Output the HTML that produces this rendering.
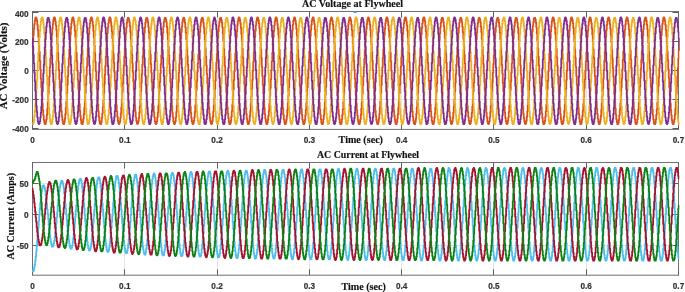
<!DOCTYPE html>
<html><head><meta charset="utf-8"><title>AC Voltage and Current at Flywheel</title>
<style>
html,body{margin:0;padding:0;background:#fff;}
body{width:685px;height:292px;overflow:hidden;}
svg{display:block;}
.tk{font-family:"Liberation Sans",Arial,sans-serif;font-weight:bold;font-size:8.2px;fill:#333;stroke:#333;stroke-width:0.2px;}
.ti{font-family:"Liberation Serif","Times New Roman",serif;font-weight:bold;font-size:10.1px;fill:#111;stroke:#111;stroke-width:0.15px;}
.ax{stroke:#707070;stroke-width:1;fill:none;}
.gr{stroke:#e4e4e4;stroke-width:1;fill:none;}
.tc{stroke:#606060;stroke-width:1;fill:none;}
.ln{fill:none;stroke-width:1.8;stroke-linejoin:round;}
</style></head><body>
<svg width="685" height="292" viewBox="0 0 685 292">
<rect x="0" y="0" width="685" height="292" fill="#ffffff"/>
<line class="gr" x1="124.50" y1="11.50" x2="124.50" y2="129.40"/>
<line class="gr" x1="217.50" y1="11.50" x2="217.50" y2="129.40"/>
<line class="gr" x1="309.50" y1="11.50" x2="309.50" y2="129.40"/>
<line class="gr" x1="401.50" y1="11.50" x2="401.50" y2="129.40"/>
<line class="gr" x1="493.50" y1="11.50" x2="493.50" y2="129.40"/>
<line class="gr" x1="586.50" y1="11.50" x2="586.50" y2="129.40"/>
<line class="gr" x1="32.50" y1="41.50" x2="678.50" y2="41.50"/>
<line class="gr" x1="32.50" y1="70.50" x2="678.50" y2="70.50"/>
<line class="gr" x1="32.50" y1="99.50" x2="678.50" y2="99.50"/>
<clipPath id="ct"><rect x="31.80" y="11.50" width="647.70" height="117.90"/></clipPath>
<rect class="ax" x="32.50" y="11.50" width="646.00" height="117.90"/>
<line class="tc" x1="32.50" y1="129.40" x2="32.50" y2="123.40"/>
<line class="tc" x1="32.50" y1="11.50" x2="32.50" y2="17.50"/>
<line class="tc" x1="124.50" y1="129.40" x2="124.50" y2="123.40"/>
<line class="tc" x1="124.50" y1="11.50" x2="124.50" y2="17.50"/>
<line class="tc" x1="217.50" y1="129.40" x2="217.50" y2="123.40"/>
<line class="tc" x1="217.50" y1="11.50" x2="217.50" y2="17.50"/>
<line class="tc" x1="309.50" y1="129.40" x2="309.50" y2="123.40"/>
<line class="tc" x1="309.50" y1="11.50" x2="309.50" y2="17.50"/>
<line class="tc" x1="401.50" y1="129.40" x2="401.50" y2="123.40"/>
<line class="tc" x1="401.50" y1="11.50" x2="401.50" y2="17.50"/>
<line class="tc" x1="493.50" y1="129.40" x2="493.50" y2="123.40"/>
<line class="tc" x1="493.50" y1="11.50" x2="493.50" y2="17.50"/>
<line class="tc" x1="586.50" y1="129.40" x2="586.50" y2="123.40"/>
<line class="tc" x1="586.50" y1="11.50" x2="586.50" y2="17.50"/>
<line class="tc" x1="678.50" y1="129.40" x2="678.50" y2="123.40"/>
<line class="tc" x1="678.50" y1="11.50" x2="678.50" y2="17.50"/>
<line class="tc" x1="32.50" y1="12.50" x2="38.50" y2="12.50"/>
<line class="tc" x1="678.50" y1="12.50" x2="672.50" y2="12.50"/>
<line class="tc" x1="32.50" y1="41.50" x2="38.50" y2="41.50"/>
<line class="tc" x1="678.50" y1="41.50" x2="672.50" y2="41.50"/>
<line class="tc" x1="32.50" y1="70.50" x2="38.50" y2="70.50"/>
<line class="tc" x1="678.50" y1="70.50" x2="672.50" y2="70.50"/>
<line class="tc" x1="32.50" y1="99.50" x2="38.50" y2="99.50"/>
<line class="tc" x1="678.50" y1="99.50" x2="672.50" y2="99.50"/>
<line class="tc" x1="32.50" y1="128.50" x2="38.50" y2="128.50"/>
<line class="tc" x1="678.50" y1="128.50" x2="672.50" y2="128.50"/>
<g clip-path="url(#ct)"><g>
<polyline class="ln" stroke="#D95319" points="32.25,50.00 32.75,50.00 32.75,42.00 33.25,42.00 33.25,35.33 33.75,35.33 33.75,28.67 34.25,28.67 34.25,24.00 34.75,24.00 34.75,20.67 35.25,20.67 35.25,18.00 35.75,18.00 35.75,17.33 36.25,17.33 36.25,18.67 36.75,18.67 36.75,20.67 37.25,20.67 37.25,24.67 37.75,24.67 37.75,30.00 38.25,30.00 38.25,36.67 38.75,36.67 38.75,44.00 39.25,44.00 39.25,52.00 39.75,52.00 39.75,60.67 40.25,60.67 40.25,69.33 40.75,69.33 40.75,78.67 41.25,78.67 41.25,87.33 41.75,87.33 41.75,96.00 42.25,96.00 42.25,103.33 42.75,103.33 42.75,110.00 43.25,110.00 43.25,115.33 43.75,115.33 43.75,120.00 44.25,120.00 44.25,122.67 44.75,122.67 44.75,124.00 45.25,124.00 45.25,124.00 45.75,124.00 45.75,122.00 46.25,122.00 46.25,119.33 46.75,119.33 46.75,114.67 47.25,114.67 47.25,108.67 47.75,108.67 47.75,102.00 48.25,102.00 48.25,94.00 48.75,94.00 48.75,85.33 49.25,85.33 49.25,76.67 49.75,76.67 49.75,67.33 50.25,67.33 50.25,58.67 50.75,58.67 50.75,50.00 51.25,50.00 51.25,42.00 51.75,42.00 51.75,34.67 52.25,34.67 52.25,28.67 52.75,28.67 52.75,24.00 53.25,24.00 53.25,20.00 53.75,20.00 53.75,18.00 54.25,18.00 54.25,17.33 54.75,17.33 54.75,18.67 55.25,18.67 55.25,21.33 55.75,21.33 55.75,25.33 56.25,25.33 56.25,30.00 56.75,30.00 56.75,36.67 57.25,36.67 57.25,44.00 57.75,44.00 57.75,52.67 58.25,52.67 58.25,61.33 58.75,61.33 58.75,70.00 59.25,70.00 59.25,79.33 59.75,79.33 59.75,88.00 60.25,88.00 60.25,96.00 60.75,96.00 60.75,104.00 61.25,104.00 61.25,110.67 61.75,110.67 61.75,116.00 62.25,116.00 62.25,120.00 62.75,120.00 62.75,122.67 63.25,122.67 63.25,124.00 63.75,124.00 63.75,124.00 64.25,124.00 64.25,122.00 64.75,122.00 64.75,118.67 65.25,118.67 65.25,114.00 65.75,114.00 65.75,108.00 66.25,108.00 66.25,101.33 66.75,101.33 66.75,93.33 67.25,93.33 67.25,84.67 67.75,84.67 67.75,76.00 68.25,76.00 68.25,66.67 68.75,66.67 68.75,58.00 69.25,58.00 69.25,49.33 69.75,49.33 69.75,41.33 70.25,41.33 70.25,34.67 70.75,34.67 70.75,28.00 71.25,28.00 71.25,23.33 71.75,23.33 71.75,20.00 72.25,20.00 72.25,18.00 72.75,18.00 72.75,17.33 73.25,17.33 73.25,18.67 73.75,18.67 73.75,21.33 74.25,21.33 74.25,25.33 74.75,25.33 74.75,30.67 75.25,30.67 75.25,37.33 75.75,37.33 75.75,44.67 76.25,44.67 76.25,52.67 76.75,52.67 76.75,61.33 77.25,61.33 77.25,70.67 77.75,70.67 77.75,80.00 78.25,80.00 78.25,88.67 78.75,88.67 78.75,96.67 79.25,96.67 79.25,104.00 79.75,104.00 79.75,110.67 80.25,110.67 80.25,116.00 80.75,116.00 80.75,120.00 81.25,120.00 81.25,123.33 81.75,123.33 81.75,124.00 82.25,124.00 82.25,124.00 82.75,124.00 82.75,122.00 83.25,122.00 83.25,118.67 83.75,118.67 83.75,114.00 84.25,114.00 84.25,108.00 84.75,108.00 84.75,100.67 85.25,100.67 85.25,92.67 85.75,92.67 85.75,84.67 86.25,84.67 86.25,75.33 86.75,75.33 86.75,66.67 87.25,66.67 87.25,57.33 87.75,57.33 87.75,48.67 88.25,48.67 88.25,40.67 88.75,40.67 88.75,34.00 89.25,34.00 89.25,28.00 89.75,28.00 89.75,23.33 90.25,23.33 90.25,20.00 90.75,20.00 90.75,18.00 91.25,18.00 91.25,17.33 91.75,17.33 91.75,18.67 92.25,18.67 92.25,21.33 92.75,21.33 92.75,25.33 93.25,25.33 93.25,30.67 93.75,30.67 93.75,37.33 94.25,37.33 94.25,45.33 94.75,45.33 94.75,53.33 95.25,53.33 95.25,62.00 95.75,62.00 95.75,71.33 96.25,71.33 96.25,80.00 96.75,80.00 96.75,88.67 97.25,88.67 97.25,97.33 97.75,97.33 97.75,104.67 98.25,104.67 98.25,111.33 98.75,111.33 98.75,116.67 99.25,116.67 99.25,120.67 99.75,120.67 99.75,123.33 100.25,123.33 100.25,124.00 100.75,124.00 100.75,124.00 101.25,124.00 101.25,122.00 101.75,122.00 101.75,118.00 102.25,118.00 102.25,113.33 102.75,113.33 102.75,107.33 103.25,107.33 103.25,100.67 103.75,100.67 103.75,92.67 104.25,92.67 104.25,84.00 104.75,84.00 104.75,74.67 105.25,74.67 105.25,66.00 105.75,66.00 105.75,56.67 106.25,56.67 106.25,48.67 106.75,48.67 106.75,40.67 107.25,40.67 107.25,33.33 107.75,33.33 107.75,28.00 108.25,28.00 108.25,23.33 108.75,23.33 108.75,20.00 109.25,20.00 109.25,18.00 109.75,18.00 109.75,17.33 110.25,17.33 110.25,18.67 110.75,18.67 110.75,22.00 111.25,22.00 111.25,26.00 111.75,26.00 111.75,31.33 112.25,31.33 112.25,38.00 112.75,38.00 112.75,45.33 113.25,45.33 113.25,54.00 113.75,54.00 113.75,62.67 114.25,62.67 114.25,72.00 114.75,72.00 114.75,80.67 115.25,80.67 115.25,89.33 115.75,89.33 115.75,97.33 116.25,97.33 116.25,105.33 116.75,105.33 116.75,111.33 117.25,111.33 117.25,116.67 117.75,116.67 117.75,120.67 118.25,120.67 118.25,123.33 118.75,123.33 118.75,124.00 119.25,124.00 119.25,123.33 119.75,123.33 119.75,121.33 120.25,121.33 120.25,118.00 120.75,118.00 120.75,113.33 121.25,113.33 121.25,107.33 121.75,107.33 121.75,100.00 122.25,100.00 122.25,92.00 122.75,92.00 122.75,83.33 123.25,83.33 123.25,74.67 123.75,74.67 123.75,65.33 124.25,65.33 124.25,56.67 124.75,56.67 124.75,48.00 125.25,48.00 125.25,40.00 125.75,40.00 125.75,33.33 126.25,33.33 126.25,27.33 126.75,27.33 126.75,22.67 127.25,22.67 127.25,19.33 127.75,19.33 127.75,18.00 128.25,18.00 128.25,18.00 128.75,18.00 128.75,19.33 129.25,19.33 129.25,22.00 129.75,22.00 129.75,26.00 130.25,26.00 130.25,32.00 130.75,32.00 130.75,38.67 131.25,38.67 131.25,46.00 131.75,46.00 131.75,54.67 132.25,54.67 132.25,63.33 132.75,63.33 132.75,72.00 133.25,72.00 133.25,81.33 133.75,81.33 133.75,90.00 134.25,90.00 134.25,98.00 134.75,98.00 134.75,105.33 135.25,105.33 135.25,112.00 135.75,112.00 135.75,117.33 136.25,117.33 136.25,120.67 136.75,120.67 136.75,123.33 137.25,123.33 137.25,124.00 137.75,124.00 137.75,123.33 138.25,123.33 138.25,121.33 138.75,121.33 138.75,118.00 139.25,118.00 139.25,112.67 139.75,112.67 139.75,106.67 140.25,106.67 140.25,99.33 140.75,99.33 140.75,91.33 141.25,91.33 141.25,82.67 141.75,82.67 141.75,74.00 142.25,74.00 142.25,64.67 142.75,64.67 142.75,56.00 143.25,56.00 143.25,47.33 143.75,47.33 143.75,40.00 144.25,40.00 144.25,32.67 144.75,32.67 144.75,27.33 145.25,27.33 145.25,22.67 145.75,22.67 145.75,19.33 146.25,19.33 146.25,18.00 146.75,18.00 146.75,18.00 147.25,18.00 147.25,19.33 147.75,19.33 147.75,22.00 148.25,22.00 148.25,26.67 148.75,26.67 148.75,32.00 149.25,32.00 149.25,38.67 149.75,38.67 149.75,46.67 150.25,46.67 150.25,54.67 150.75,54.67 150.75,64.00 151.25,64.00 151.25,72.67 151.75,72.67 151.75,82.00 152.25,82.00 152.25,90.67 152.75,90.67 152.75,98.67 153.25,98.67 153.25,106.00 153.75,106.00 153.75,112.00 154.25,112.00 154.25,117.33 154.75,117.33 154.75,121.33 155.25,121.33 155.25,123.33 155.75,123.33 155.75,124.00 156.25,124.00 156.25,123.33 156.75,123.33 156.75,121.33 157.25,121.33 157.25,117.33 157.75,117.33 157.75,112.67 158.25,112.67 158.25,106.00 158.75,106.00 158.75,99.33 159.25,99.33 159.25,90.67 159.75,90.67 159.75,82.00 160.25,82.00 160.25,73.33 160.75,73.33 160.75,64.00 161.25,64.00 161.25,55.33 161.75,55.33 161.75,47.33 162.25,47.33 162.25,39.33 162.75,39.33 162.75,32.67 163.25,32.67 163.25,26.67 163.75,26.67 163.75,22.00 164.25,22.00 164.25,19.33 164.75,19.33 164.75,18.00 165.25,18.00 165.25,18.00 165.75,18.00 165.75,19.33 166.25,19.33 166.25,22.00 166.75,22.00 166.75,26.67 167.25,26.67 167.25,32.67 167.75,32.67 167.75,39.33 168.25,39.33 168.25,46.67 168.75,46.67 168.75,55.33 169.25,55.33 169.25,64.00 169.75,64.00 169.75,73.33 170.25,73.33 170.25,82.00 170.75,82.00 170.75,90.67 171.25,90.67 171.25,98.67 171.75,98.67 171.75,106.00 172.25,106.00 172.25,112.67 172.75,112.67 172.75,117.33 173.25,117.33 173.25,121.33 173.75,121.33 173.75,123.33 174.25,123.33 174.25,124.00 174.75,124.00 174.75,123.33 175.25,123.33 175.25,121.33 175.75,121.33 175.75,117.33 176.25,117.33 176.25,112.00 176.75,112.00 176.75,106.00 177.25,106.00 177.25,98.67 177.75,98.67 177.75,90.67 178.25,90.67 178.25,82.00 178.75,82.00 178.75,72.67 179.25,72.67 179.25,64.00 179.75,64.00 179.75,54.67 180.25,54.67 180.25,46.67 180.75,46.67 180.75,38.67 181.25,38.67 181.25,32.00 181.75,32.00 181.75,26.67 182.25,26.67 182.25,22.00 182.75,22.00 182.75,19.33 183.25,19.33 183.25,18.00 183.75,18.00 183.75,18.00 184.25,18.00 184.25,19.33 184.75,19.33 184.75,22.67 185.25,22.67 185.25,27.33 185.75,27.33 185.75,32.67 186.25,32.67 186.25,39.33 186.75,39.33 186.75,47.33 187.25,47.33 187.25,56.00 187.75,56.00 187.75,64.67 188.25,64.67 188.25,74.00 188.75,74.00 188.75,82.67 189.25,82.67 189.25,91.33 189.75,91.33 189.75,99.33 190.25,99.33 190.25,106.67 190.75,106.67 190.75,112.67 191.25,112.67 191.25,118.00 191.75,118.00 191.75,121.33 192.25,121.33 192.25,123.33 192.75,123.33 192.75,124.00 193.25,124.00 193.25,123.33 193.75,123.33 193.75,120.67 194.25,120.67 194.25,117.33 194.75,117.33 194.75,112.00 195.25,112.00 195.25,105.33 195.75,105.33 195.75,98.00 196.25,98.00 196.25,90.00 196.75,90.00 196.75,81.33 197.25,81.33 197.25,72.00 197.75,72.00 197.75,63.33 198.25,63.33 198.25,54.67 198.75,54.67 198.75,46.00 199.25,46.00 199.25,38.67 199.75,38.67 199.75,32.00 200.25,32.00 200.25,26.00 200.75,26.00 200.75,22.00 201.25,22.00 201.25,19.33 201.75,19.33 201.75,18.00 202.25,18.00 202.25,18.00 202.75,18.00 202.75,19.33 203.25,19.33 203.25,22.67 203.75,22.67 203.75,27.33 204.25,27.33 204.25,33.33 204.75,33.33 204.75,40.00 205.25,40.00 205.25,48.00 205.75,48.00 205.75,56.67 206.25,56.67 206.25,65.33 206.75,65.33 206.75,74.00 207.25,74.00 207.25,83.33 207.75,83.33 207.75,92.00 208.25,92.00 208.25,100.00 208.75,100.00 208.75,107.33 209.25,107.33 209.25,113.33 209.75,113.33 209.75,118.00 210.25,118.00 210.25,121.33 210.75,121.33 210.75,123.33 211.25,123.33 211.25,124.00 211.75,124.00 211.75,123.33 212.25,123.33 212.25,120.67 212.75,120.67 212.75,116.67 213.25,116.67 213.25,111.33 213.75,111.33 213.75,105.33 214.25,105.33 214.25,98.00 214.75,98.00 214.75,89.33 215.25,89.33 215.25,80.67 215.75,80.67 215.75,72.00 216.25,72.00 216.25,62.67 216.75,62.67 216.75,54.00 217.25,54.00 217.25,45.33 217.75,45.33 217.75,38.00 218.25,38.00 218.25,31.33 218.75,31.33 218.75,26.00 219.25,26.00 219.25,22.00 219.75,22.00 219.75,18.67 220.25,18.67 220.25,18.00 220.75,18.00 220.75,18.00 221.25,18.00 221.25,20.00 221.75,20.00 221.75,22.67 222.25,22.67 222.25,27.33 222.75,27.33 222.75,33.33 223.25,33.33 223.25,40.67 223.75,40.67 223.75,48.67 224.25,48.67 224.25,56.67 224.75,56.67 224.75,66.00 225.25,66.00 225.25,74.67 225.75,74.67 225.75,84.00 226.25,84.00 226.25,92.67 226.75,92.67 226.75,100.00 227.25,100.00 227.25,107.33 227.75,107.33 227.75,113.33 228.25,113.33 228.25,118.00 228.75,118.00 228.75,122.00 229.25,122.00 229.25,124.00 229.75,124.00 229.75,124.00 230.25,124.00 230.25,123.33 230.75,123.33 230.75,120.67 231.25,120.67 231.25,116.67 231.75,116.67 231.75,111.33 232.25,111.33 232.25,104.67 232.75,104.67 232.75,97.33 233.25,97.33 233.25,89.33 233.75,89.33 233.75,80.00 234.25,80.00 234.25,71.33 234.75,71.33 234.75,62.00 235.25,62.00 235.25,53.33 235.75,53.33 235.75,45.33 236.25,45.33 236.25,37.33 236.75,37.33 236.75,31.33 237.25,31.33 237.25,25.33 237.75,25.33 237.75,21.33 238.25,21.33 238.25,18.67 238.75,18.67 238.75,17.33 239.25,17.33 239.25,18.00 239.75,18.00 239.75,20.00 240.25,20.00 240.25,23.33 240.75,23.33 240.75,28.00 241.25,28.00 241.25,34.00 241.75,34.00 241.75,40.67 242.25,40.67 242.25,48.67 242.75,48.67 242.75,57.33 243.25,57.33 243.25,66.00 243.75,66.00 243.75,75.33 244.25,75.33 244.25,84.00 244.75,84.00 244.75,92.67 245.25,92.67 245.25,100.67 245.75,100.67 245.75,108.00 246.25,108.00 246.25,114.00 246.75,114.00 246.75,118.67 247.25,118.67 247.25,122.00 247.75,122.00 247.75,124.00 248.25,124.00 248.25,124.00 248.75,124.00 248.75,122.67 249.25,122.67 249.25,120.67 249.75,120.67 249.75,116.00 250.25,116.00 250.25,110.67 250.75,110.67 250.75,104.00 251.25,104.00 251.25,96.67 251.75,96.67 251.75,88.67 252.25,88.67 252.25,80.00 252.75,80.00 252.75,70.67 253.25,70.67 253.25,62.00 253.75,62.00 253.75,52.67 254.25,52.67 254.25,44.67 254.75,44.67 254.75,37.33 255.25,37.33 255.25,30.67 255.75,30.67 255.75,25.33 256.25,25.33 256.25,21.33 256.75,21.33 256.75,18.67 257.25,18.67 257.25,17.33 257.75,17.33 257.75,18.00 258.25,18.00 258.25,20.00 258.75,20.00 258.75,23.33 259.25,23.33 259.25,28.00 259.75,28.00 259.75,34.00 260.25,34.00 260.25,41.33 260.75,41.33 260.75,49.33 261.25,49.33 261.25,58.00 261.75,58.00 261.75,66.67 262.25,66.67 262.25,76.00 262.75,76.00 262.75,84.67 263.25,84.67 263.25,93.33 263.75,93.33 263.75,101.33 264.25,101.33 264.25,108.00 264.75,108.00 264.75,114.00 265.25,114.00 265.25,118.67 265.75,118.67 265.75,122.00 266.25,122.00 266.25,124.00 266.75,124.00 266.75,124.00 267.25,124.00 267.25,122.67 267.75,122.67 267.75,120.00 268.25,120.00 268.25,116.00 268.75,116.00 268.75,110.67 269.25,110.67 269.25,104.00 269.75,104.00 269.75,96.00 270.25,96.00 270.25,88.00 270.75,88.00 270.75,79.33 271.25,79.33 271.25,70.00 271.75,70.00 271.75,61.33 272.25,61.33 272.25,52.67 272.75,52.67 272.75,44.00 273.25,44.00 273.25,36.67 273.75,36.67 273.75,30.67 274.25,30.67 274.25,25.33 274.75,25.33 274.75,21.33 275.25,21.33 275.25,18.67 275.75,18.67 275.75,17.33 276.25,17.33 276.25,18.00 276.75,18.00 276.75,20.00 277.25,20.00 277.25,24.00 277.75,24.00 277.75,28.67 278.25,28.67 278.25,34.67 278.75,34.67 278.75,42.00 279.25,42.00 279.25,50.00 279.75,50.00 279.75,58.67 280.25,58.67 280.25,67.33 280.75,67.33 280.75,76.67 281.25,76.67 281.25,85.33 281.75,85.33 281.75,94.00 282.25,94.00 282.25,101.33 282.75,101.33 282.75,108.67 283.25,108.67 283.25,114.67 283.75,114.67 283.75,119.33 284.25,119.33 284.25,122.00 284.75,122.00 284.75,124.00 285.25,124.00 285.25,124.00 285.75,124.00 285.75,122.67 286.25,122.67 286.25,120.00 286.75,120.00 286.75,116.00 287.25,116.00 287.25,110.00 287.75,110.00 287.75,103.33 288.25,103.33 288.25,96.00 288.75,96.00 288.75,87.33 289.25,87.33 289.25,78.67 289.75,78.67 289.75,70.00 290.25,70.00 290.25,60.67 290.75,60.67 290.75,52.00 291.25,52.00 291.25,44.00 291.75,44.00 291.75,36.67 292.25,36.67 292.25,30.00 292.75,30.00 292.75,24.67 293.25,24.67 293.25,20.67 293.75,20.67 293.75,18.67 294.25,18.67 294.25,17.33 294.75,17.33 294.75,18.00 295.25,18.00 295.25,20.67 295.75,20.67 295.75,24.00 296.25,24.00 296.25,28.67 296.75,28.67 296.75,35.33 297.25,35.33 297.25,42.00 297.75,42.00 297.75,50.00 298.25,50.00 298.25,58.67 298.75,58.67 298.75,68.00 299.25,68.00 299.25,76.67 299.75,76.67 299.75,86.00 300.25,86.00 300.25,94.00 300.75,94.00 300.75,102.00 301.25,102.00 301.25,108.67 301.75,108.67 301.75,114.67 302.25,114.67 302.25,119.33 302.75,119.33 302.75,122.00 303.25,122.00 303.25,124.00 303.75,124.00 303.75,124.00 304.25,124.00 304.25,122.67 304.75,122.67 304.75,120.00 305.25,120.00 305.25,115.33 305.75,115.33 305.75,110.00 306.25,110.00 306.25,103.33 306.75,103.33 306.75,95.33 307.25,95.33 307.25,87.33 307.75,87.33 307.75,78.00 308.25,78.00 308.25,69.33 308.75,69.33 308.75,60.00 309.25,60.00 309.25,51.33 309.75,51.33 309.75,43.33 310.25,43.33 310.25,36.00 310.75,36.00 310.75,30.00 311.25,30.00 311.25,24.67 311.75,24.67 311.75,20.67 312.25,20.67 312.25,18.67 312.75,18.67 312.75,17.33 313.25,17.33 313.25,18.00 313.75,18.00 313.75,20.67 314.25,20.67 314.25,24.00 314.75,24.00 314.75,29.33 315.25,29.33 315.25,35.33 315.75,35.33 315.75,42.67 316.25,42.67 316.25,50.67 316.75,50.67 316.75,59.33 317.25,59.33 317.25,68.67 317.75,68.67 317.75,77.33 318.25,77.33 318.25,86.00 318.75,86.00 318.75,94.67 319.25,94.67 319.25,102.67 319.75,102.67 319.75,109.33 320.25,109.33 320.25,114.67 320.75,114.67 320.75,119.33 321.25,119.33 321.25,122.67 321.75,122.67 321.75,124.00 322.25,124.00 322.25,124.00 322.75,124.00 322.75,122.67 323.25,122.67 323.25,119.33 323.75,119.33 323.75,115.33 324.25,115.33 324.25,109.33 324.75,109.33 324.75,102.67 325.25,102.67 325.25,94.67 325.75,94.67 325.75,86.67 326.25,86.67 326.25,78.00 326.75,78.00 326.75,68.67 327.25,68.67 327.25,59.33 327.75,59.33 327.75,50.67 328.25,50.67 328.25,42.67 328.75,42.67 328.75,35.33 329.25,35.33 329.25,29.33 329.75,29.33 329.75,24.00 330.25,24.00 330.25,20.67 330.75,20.67 330.75,18.67 331.25,18.67 331.25,17.33 331.75,17.33 331.75,18.67 332.25,18.67 332.25,20.67 332.75,20.67 332.75,24.67 333.25,24.67 333.25,29.33 333.75,29.33 333.75,36.00 334.25,36.00 334.25,43.33 334.75,43.33 334.75,51.33 335.25,51.33 335.25,60.00 335.75,60.00 335.75,68.67 336.25,68.67 336.25,78.00 336.75,78.00 336.75,86.67 337.25,86.67 337.25,95.33 337.75,95.33 337.75,102.67 338.25,102.67 338.25,109.33 338.75,109.33 338.75,115.33 339.25,115.33 339.25,119.33 339.75,119.33 339.75,122.67 340.25,122.67 340.25,124.00 340.75,124.00 340.75,124.00 341.25,124.00 341.25,122.67 341.75,122.67 341.75,119.33 342.25,119.33 342.25,114.67 342.75,114.67 342.75,109.33 343.25,109.33 343.25,102.00 343.75,102.00 343.75,94.67 344.25,94.67 344.25,86.00 344.75,86.00 344.75,77.33 345.25,77.33 345.25,68.00 345.75,68.00 345.75,59.33 346.25,59.33 346.25,50.67 346.75,50.67 346.75,42.67 347.25,42.67 347.25,35.33 347.75,35.33 347.75,29.33 348.25,29.33 348.25,24.00 348.75,24.00 348.75,20.67 349.25,20.67 349.25,18.00 349.75,18.00 349.75,17.33 350.25,17.33 350.25,18.67 350.75,18.67 350.75,20.67 351.25,20.67 351.25,24.67 351.75,24.67 351.75,30.00 352.25,30.00 352.25,36.00 352.75,36.00 352.75,43.33 353.25,43.33 353.25,52.00 353.75,52.00 353.75,60.67 354.25,60.67 354.25,69.33 354.75,69.33 354.75,78.67 355.25,78.67 355.25,87.33 355.75,87.33 355.75,95.33 356.25,95.33 356.25,103.33 356.75,103.33 356.75,110.00 357.25,110.00 357.25,115.33 357.75,115.33 357.75,120.00 358.25,120.00 358.25,122.67 358.75,122.67 358.75,124.00 359.25,124.00 359.25,124.00 359.75,124.00 359.75,122.00 360.25,122.00 360.25,119.33 360.75,119.33 360.75,114.67 361.25,114.67 361.25,108.67 361.75,108.67 361.75,102.00 362.25,102.00 362.25,94.00 362.75,94.00 362.75,85.33 363.25,85.33 363.25,76.67 363.75,76.67 363.75,67.33 364.25,67.33 364.25,58.67 364.75,58.67 364.75,50.00 365.25,50.00 365.25,42.00 365.75,42.00 365.75,34.67 366.25,34.67 366.25,28.67 366.75,28.67 366.75,24.00 367.25,24.00 367.25,20.00 367.75,20.00 367.75,18.00 368.25,18.00 368.25,17.33 368.75,17.33 368.75,18.67 369.25,18.67 369.25,21.33 369.75,21.33 369.75,24.67 370.25,24.67 370.25,30.00 370.75,30.00 370.75,36.67 371.25,36.67 371.25,44.00 371.75,44.00 371.75,52.00 372.25,52.00 372.25,60.67 372.75,60.67 372.75,70.00 373.25,70.00 373.25,78.67 373.75,78.67 373.75,88.00 374.25,88.00 374.25,96.00 374.75,96.00 374.75,104.00 375.25,104.00 375.25,110.67 375.75,110.67 375.75,116.00 376.25,116.00 376.25,120.00 376.75,120.00 376.75,122.67 377.25,122.67 377.25,124.00 377.75,124.00 377.75,124.00 378.25,124.00 378.25,122.00 378.75,122.00 378.75,118.67 379.25,118.67 379.25,114.00 379.75,114.00 379.75,108.00 380.25,108.00 380.25,101.33 380.75,101.33 380.75,93.33 381.25,93.33 381.25,85.33 381.75,85.33 381.75,76.00 382.25,76.00 382.25,67.33 382.75,67.33 382.75,58.00 383.25,58.00 383.25,49.33 383.75,49.33 383.75,41.33 384.25,41.33 384.25,34.67 384.75,34.67 384.75,28.67 385.25,28.67 385.25,23.33 385.75,23.33 385.75,20.00 386.25,20.00 386.25,18.00 386.75,18.00 386.75,17.33 387.25,17.33 387.25,18.67 387.75,18.67 387.75,21.33 388.25,21.33 388.25,25.33 388.75,25.33 388.75,30.67 389.25,30.67 389.25,37.33 389.75,37.33 389.75,44.67 390.25,44.67 390.25,52.67 390.75,52.67 390.75,61.33 391.25,61.33 391.25,70.67 391.75,70.67 391.75,79.33 392.25,79.33 392.25,88.00 392.75,88.00 392.75,96.67 393.25,96.67 393.25,104.00 393.75,104.00 393.75,110.67 394.25,110.67 394.25,116.00 394.75,116.00 394.75,120.00 395.25,120.00 395.25,122.67 395.75,122.67 395.75,124.00 396.25,124.00 396.25,124.00 396.75,124.00 396.75,122.00 397.25,122.00 397.25,118.67 397.75,118.67 397.75,114.00 398.25,114.00 398.25,108.00 398.75,108.00 398.75,100.67 399.25,100.67 399.25,93.33 399.75,93.33 399.75,84.67 400.25,84.67 400.25,75.33 400.75,75.33 400.75,66.67 401.25,66.67 401.25,57.33 401.75,57.33 401.75,49.33 402.25,49.33 402.25,41.33 402.75,41.33 402.75,34.00 403.25,34.00 403.25,28.00 403.75,28.00 403.75,23.33 404.25,23.33 404.25,20.00 404.75,20.00 404.75,18.00 405.25,18.00 405.25,17.33 405.75,17.33 405.75,18.67 406.25,18.67 406.25,21.33 406.75,21.33 406.75,25.33 407.25,25.33 407.25,30.67 407.75,30.67 407.75,37.33 408.25,37.33 408.25,44.67 408.75,44.67 408.75,53.33 409.25,53.33 409.25,62.00 409.75,62.00 409.75,70.67 410.25,70.67 410.25,80.00 410.75,80.00 410.75,88.67 411.25,88.67 411.25,97.33 411.75,97.33 411.75,104.67 412.25,104.67 412.25,111.33 412.75,111.33 412.75,116.67 413.25,116.67 413.25,120.67 413.75,120.67 413.75,123.33 414.25,123.33 414.25,124.00 414.75,124.00 414.75,124.00 415.25,124.00 415.25,122.00 415.75,122.00 415.75,118.67 416.25,118.67 416.25,113.33 416.75,113.33 416.75,107.33 417.25,107.33 417.25,100.67 417.75,100.67 417.75,92.67 418.25,92.67 418.25,84.00 418.75,84.00 418.75,75.33 419.25,75.33 419.25,66.00 419.75,66.00 419.75,57.33 420.25,57.33 420.25,48.67 420.75,48.67 420.75,40.67 421.25,40.67 421.25,34.00 421.75,34.00 421.75,28.00 422.25,28.00 422.25,23.33 422.75,23.33 422.75,20.00 423.25,20.00 423.25,18.00 423.75,18.00 423.75,17.33 424.25,17.33 424.25,18.67 424.75,18.67 424.75,21.33 425.25,21.33 425.25,26.00 425.75,26.00 425.75,31.33 426.25,31.33 426.25,38.00 426.75,38.00 426.75,45.33 427.25,45.33 427.25,54.00 427.75,54.00 427.75,62.67 428.25,62.67 428.25,71.33 428.75,71.33 428.75,80.67 429.25,80.67 429.25,89.33 429.75,89.33 429.75,97.33 430.25,97.33 430.25,104.67 430.75,104.67 430.75,111.33 431.25,111.33 431.25,116.67 431.75,116.67 431.75,120.67 432.25,120.67 432.25,123.33 432.75,123.33 432.75,124.00 433.25,124.00 433.25,124.00 433.75,124.00 433.75,122.00 434.25,122.00 434.25,118.00 434.75,118.00 434.75,113.33 435.25,113.33 435.25,107.33 435.75,107.33 435.75,100.00 436.25,100.00 436.25,92.00 436.75,92.00 436.75,83.33 437.25,83.33 437.25,74.67 437.75,74.67 437.75,65.33 438.25,65.33 438.25,56.67 438.75,56.67 438.75,48.00 439.25,48.00 439.25,40.00 439.75,40.00 439.75,33.33 440.25,33.33 440.25,27.33 440.75,27.33 440.75,22.67 441.25,22.67 441.25,19.33 441.75,19.33 441.75,18.00 442.25,18.00 442.25,18.00 442.75,18.00 442.75,18.67 443.25,18.67 443.25,22.00 443.75,22.00 443.75,26.00 444.25,26.00 444.25,31.33 444.75,31.33 444.75,38.00 445.25,38.00 445.25,46.00 445.75,46.00 445.75,54.00 446.25,54.00 446.25,62.67 446.75,62.67 446.75,72.00 447.25,72.00 447.25,81.33 447.75,81.33 447.75,90.00 448.25,90.00 448.25,98.00 448.75,98.00 448.75,105.33 449.25,105.33 449.25,112.00 449.75,112.00 449.75,116.67 450.25,116.67 450.25,120.67 450.75,120.67 450.75,123.33 451.25,123.33 451.25,124.00 451.75,124.00 451.75,123.33 452.25,123.33 452.25,121.33 452.75,121.33 452.75,118.00 453.25,118.00 453.25,112.67 453.75,112.67 453.75,106.67 454.25,106.67 454.25,99.33 454.75,99.33 454.75,91.33 455.25,91.33 455.25,82.67 455.75,82.67 455.75,74.00 456.25,74.00 456.25,64.67 456.75,64.67 456.75,56.00 457.25,56.00 457.25,47.33 457.75,47.33 457.75,40.00 458.25,40.00 458.25,32.67 458.75,32.67 458.75,27.33 459.25,27.33 459.25,22.67 459.75,22.67 459.75,19.33 460.25,19.33 460.25,18.00 460.75,18.00 460.75,18.00 461.25,18.00 461.25,19.33 461.75,19.33 461.75,22.00 462.25,22.00 462.25,26.67 462.75,26.67 462.75,32.00 463.25,32.00 463.25,38.67 463.75,38.67 463.75,46.00 464.25,46.00 464.25,54.67 464.75,54.67 464.75,63.33 465.25,63.33 465.25,72.67 465.75,72.67 465.75,81.33 466.25,81.33 466.25,90.00 466.75,90.00 466.75,98.67 467.25,98.67 467.25,106.00 467.75,106.00 467.75,112.00 468.25,112.00 468.25,117.33 468.75,117.33 468.75,120.67 469.25,120.67 469.25,123.33 469.75,123.33 469.75,124.00 470.25,124.00 470.25,123.33 470.75,123.33 470.75,121.33 471.25,121.33 471.25,117.33 471.75,117.33 471.75,112.67 472.25,112.67 472.25,106.67 472.75,106.67 472.75,99.33 473.25,99.33 473.25,91.33 473.75,91.33 473.75,82.67 474.25,82.67 474.25,73.33 474.75,73.33 474.75,64.67 475.25,64.67 475.25,55.33 475.75,55.33 475.75,47.33 476.25,47.33 476.25,39.33 476.75,39.33 476.75,32.67 477.25,32.67 477.25,26.67 477.75,26.67 477.75,22.67 478.25,22.67 478.25,19.33 478.75,19.33 478.75,18.00 479.25,18.00 479.25,18.00 479.75,18.00 479.75,19.33 480.25,19.33 480.25,22.00 480.75,22.00 480.75,26.67 481.25,26.67 481.25,32.00 481.75,32.00 481.75,39.33 482.25,39.33 482.25,46.67 482.75,46.67 482.75,55.33 483.25,55.33 483.25,64.00 483.75,64.00 483.75,73.33 484.25,73.33 484.25,82.00 484.75,82.00 484.75,90.67 485.25,90.67 485.25,98.67 485.75,98.67 485.75,106.00 486.25,106.00 486.25,112.67 486.75,112.67 486.75,117.33 487.25,117.33 487.25,121.33 487.75,121.33 487.75,123.33 488.25,123.33 488.25,124.00 488.75,124.00 488.75,123.33 489.25,123.33 489.25,121.33 489.75,121.33 489.75,117.33 490.25,117.33 490.25,112.00 490.75,112.00 490.75,106.00 491.25,106.00 491.25,98.67 491.75,98.67 491.75,90.67 492.25,90.67 492.25,82.00 492.75,82.00 492.75,72.67 493.25,72.67 493.25,64.00 493.75,64.00 493.75,55.33 494.25,55.33 494.25,46.67 494.75,46.67 494.75,38.67 495.25,38.67 495.25,32.00 495.75,32.00 495.75,26.67 496.25,26.67 496.25,22.00 496.75,22.00 496.75,19.33 497.25,19.33 497.25,18.00 497.75,18.00 497.75,18.00 498.25,18.00 498.25,19.33 498.75,19.33 498.75,22.67 499.25,22.67 499.25,26.67 499.75,26.67 499.75,32.67 500.25,32.67 500.25,39.33 500.75,39.33 500.75,47.33 501.25,47.33 501.25,56.00 501.75,56.00 501.75,64.67 502.25,64.67 502.25,73.33 502.75,73.33 502.75,82.67 503.25,82.67 503.25,91.33 503.75,91.33 503.75,99.33 504.25,99.33 504.25,106.67 504.75,106.67 504.75,112.67 505.25,112.67 505.25,118.00 505.75,118.00 505.75,121.33 506.25,121.33 506.25,123.33 506.75,123.33 506.75,124.00 507.25,124.00 507.25,123.33 507.75,123.33 507.75,120.67 508.25,120.67 508.25,117.33 508.75,117.33 508.75,112.00 509.25,112.00 509.25,105.33 509.75,105.33 509.75,98.00 510.25,98.00 510.25,90.00 510.75,90.00 510.75,81.33 511.25,81.33 511.25,72.67 511.75,72.67 511.75,63.33 512.25,63.33 512.25,54.67 512.75,54.67 512.75,46.00 513.25,46.00 513.25,38.67 513.75,38.67 513.75,32.00 514.25,32.00 514.25,26.00 514.75,26.00 514.75,22.00 515.25,22.00 515.25,19.33 515.75,19.33 515.75,18.00 516.25,18.00 516.25,18.00 516.75,18.00 516.75,19.33 517.25,19.33 517.25,22.67 517.75,22.67 517.75,27.33 518.25,27.33 518.25,33.33 518.75,33.33 518.75,40.00 519.25,40.00 519.25,48.00 519.75,48.00 519.75,56.00 520.25,56.00 520.25,65.33 520.75,65.33 520.75,74.00 521.25,74.00 521.25,83.33 521.75,83.33 521.75,92.00 522.25,92.00 522.25,100.00 522.75,100.00 522.75,106.67 523.25,106.67 523.25,113.33 523.75,113.33 523.75,118.00 524.25,118.00 524.25,121.33 524.75,121.33 524.75,123.33 525.25,123.33 525.25,124.00 525.75,124.00 525.75,123.33 526.25,123.33 526.25,120.67 526.75,120.67 526.75,116.67 527.25,116.67 527.25,111.33 527.75,111.33 527.75,105.33 528.25,105.33 528.25,98.00 528.75,98.00 528.75,90.00 529.25,90.00 529.25,80.67 529.75,80.67 529.75,72.00 530.25,72.00 530.25,62.67 530.75,62.67 530.75,54.00 531.25,54.00 531.25,46.00 531.75,46.00 531.75,38.00 532.25,38.00 532.25,31.33 532.75,31.33 532.75,26.00 533.25,26.00 533.25,22.00 533.75,22.00 533.75,18.67 534.25,18.67 534.25,18.00 534.75,18.00 534.75,18.00 535.25,18.00 535.25,19.33 535.75,19.33 535.75,22.67 536.25,22.67 536.25,27.33 536.75,27.33 536.75,33.33 537.25,33.33 537.25,40.67 537.75,40.67 537.75,48.00 538.25,48.00 538.25,56.67 538.75,56.67 538.75,65.33 539.25,65.33 539.25,74.67 539.75,74.67 539.75,83.33 540.25,83.33 540.25,92.00 540.75,92.00 540.75,100.00 541.25,100.00 541.25,107.33 541.75,107.33 541.75,113.33 542.25,113.33 542.25,118.00 542.75,118.00 542.75,122.00 543.25,122.00 543.25,124.00 543.75,124.00 543.75,124.00 544.25,124.00 544.25,123.33 544.75,123.33 544.75,120.67 545.25,120.67 545.25,116.67 545.75,116.67 545.75,111.33 546.25,111.33 546.25,104.67 546.75,104.67 546.75,97.33 547.25,97.33 547.25,89.33 547.75,89.33 547.75,80.67 548.25,80.67 548.25,71.33 548.75,71.33 548.75,62.67 549.25,62.67 549.25,53.33 549.75,53.33 549.75,45.33 550.25,45.33 550.25,38.00 550.75,38.00 550.75,31.33 551.25,31.33 551.25,26.00 551.75,26.00 551.75,21.33 552.25,21.33 552.25,18.67 552.75,18.67 552.75,17.33 553.25,17.33 553.25,18.00 553.75,18.00 553.75,20.00 554.25,20.00 554.25,23.33 554.75,23.33 554.75,28.00 555.25,28.00 555.25,34.00 555.75,34.00 555.75,40.67 556.25,40.67 556.25,48.67 556.75,48.67 556.75,57.33 557.25,57.33 557.25,66.00 557.75,66.00 557.75,75.33 558.25,75.33 558.25,84.00 558.75,84.00 558.75,92.67 559.25,92.67 559.25,100.67 559.75,100.67 559.75,108.00 560.25,108.00 560.25,114.00 560.75,114.00 560.75,118.67 561.25,118.67 561.25,122.00 561.75,122.00 561.75,124.00 562.25,124.00 562.25,124.00 562.75,124.00 562.75,123.33 563.25,123.33 563.25,120.67 563.75,120.67 563.75,116.67 564.25,116.67 564.25,110.67 564.75,110.67 564.75,104.67 565.25,104.67 565.25,96.67 565.75,96.67 565.75,88.67 566.25,88.67 566.25,80.00 566.75,80.00 566.75,70.67 567.25,70.67 567.25,62.00 567.75,62.00 567.75,53.33 568.25,53.33 568.25,44.67 568.75,44.67 568.75,37.33 569.25,37.33 569.25,30.67 569.75,30.67 569.75,25.33 570.25,25.33 570.25,21.33 570.75,21.33 570.75,18.67 571.25,18.67 571.25,17.33 571.75,17.33 571.75,18.00 572.25,18.00 572.25,20.00 572.75,20.00 572.75,23.33 573.25,23.33 573.25,28.00 573.75,28.00 573.75,34.00 574.25,34.00 574.25,41.33 574.75,41.33 574.75,49.33 575.25,49.33 575.25,58.00 575.75,58.00 575.75,66.67 576.25,66.67 576.25,76.00 576.75,76.00 576.75,84.67 577.25,84.67 577.25,93.33 577.75,93.33 577.75,101.33 578.25,101.33 578.25,108.00 578.75,108.00 578.75,114.00 579.25,114.00 579.25,118.67 579.75,118.67 579.75,122.00 580.25,122.00 580.25,124.00 580.75,124.00 580.75,124.00 581.25,124.00 581.25,122.67 581.75,122.67 581.75,120.00 582.25,120.00 582.25,116.00 582.75,116.00 582.75,110.67 583.25,110.67 583.25,104.00 583.75,104.00 583.75,96.67 584.25,96.67 584.25,88.00 584.75,88.00 584.75,79.33 585.25,79.33 585.25,70.67 585.75,70.67 585.75,61.33 586.25,61.33 586.25,52.67 586.75,52.67 586.75,44.67 587.25,44.67 587.25,36.67 587.75,36.67 587.75,30.67 588.25,30.67 588.25,25.33 588.75,25.33 588.75,21.33 589.25,21.33 589.25,18.67 589.75,18.67 589.75,17.33 590.25,17.33 590.25,18.00 590.75,18.00 590.75,20.00 591.25,20.00 591.25,23.33 591.75,23.33 591.75,28.67 592.25,28.67 592.25,34.67 592.75,34.67 592.75,41.33 593.25,41.33 593.25,49.33 593.75,49.33 593.75,58.00 594.25,58.00 594.25,67.33 594.75,67.33 594.75,76.00 595.25,76.00 595.25,85.33 595.75,85.33 595.75,93.33 596.25,93.33 596.25,101.33 596.75,101.33 596.75,108.67 597.25,108.67 597.25,114.00 597.75,114.00 597.75,118.67 598.25,118.67 598.25,122.00 598.75,122.00 598.75,124.00 599.25,124.00 599.25,124.00 599.75,124.00 599.75,122.67 600.25,122.67 600.25,120.00 600.75,120.00 600.75,116.00 601.25,116.00 601.25,110.00 601.75,110.00 601.75,103.33 602.25,103.33 602.25,96.00 602.75,96.00 602.75,88.00 603.25,88.00 603.25,78.67 603.75,78.67 603.75,70.00 604.25,70.00 604.25,60.67 604.75,60.67 604.75,52.00 605.25,52.00 605.25,44.00 605.75,44.00 605.75,36.67 606.25,36.67 606.25,30.00 606.75,30.00 606.75,24.67 607.25,24.67 607.25,21.33 607.75,21.33 607.75,18.67 608.25,18.67 608.25,17.33 608.75,17.33 608.75,18.00 609.25,18.00 609.25,20.00 609.75,20.00 609.75,24.00 610.25,24.00 610.25,28.67 610.75,28.67 610.75,34.67 611.25,34.67 611.25,42.00 611.75,42.00 611.75,50.00 612.25,50.00 612.25,58.67 612.75,58.67 612.75,68.00 613.25,68.00 613.25,76.67 613.75,76.67 613.75,85.33 614.25,85.33 614.25,94.00 614.75,94.00 614.75,102.00 615.25,102.00 615.25,108.67 615.75,108.67 615.75,114.67 616.25,114.67 616.25,119.33 616.75,119.33 616.75,122.00 617.25,122.00 617.25,124.00 617.75,124.00 617.75,124.00 618.25,124.00 618.25,122.67 618.75,122.67 618.75,120.00 619.25,120.00 619.25,115.33 619.75,115.33 619.75,110.00 620.25,110.00 620.25,103.33 620.75,103.33 620.75,95.33 621.25,95.33 621.25,87.33 621.75,87.33 621.75,78.67 622.25,78.67 622.25,69.33 622.75,69.33 622.75,60.00 623.25,60.00 623.25,51.33 623.75,51.33 623.75,43.33 624.25,43.33 624.25,36.00 624.75,36.00 624.75,30.00 625.25,30.00 625.25,24.67 625.75,24.67 625.75,20.67 626.25,20.67 626.25,18.67 626.75,18.67 626.75,17.33 627.25,17.33 627.25,18.00 627.75,18.00 627.75,20.67 628.25,20.67 628.25,24.00 628.75,24.00 628.75,29.33 629.25,29.33 629.25,35.33 629.75,35.33 629.75,42.67 630.25,42.67 630.25,50.67 630.75,50.67 630.75,59.33 631.25,59.33 631.25,68.00 631.75,68.00 631.75,77.33 632.25,77.33 632.25,86.00 632.75,86.00 632.75,94.67 633.25,94.67 633.25,102.00 633.75,102.00 633.75,109.33 634.25,109.33 634.25,114.67 634.75,114.67 634.75,119.33 635.25,119.33 635.25,122.67 635.75,122.67 635.75,124.00 636.25,124.00 636.25,124.00 636.75,124.00 636.75,122.67 637.25,122.67 637.25,119.33 637.75,119.33 637.75,115.33 638.25,115.33 638.25,109.33 638.75,109.33 638.75,102.67 639.25,102.67 639.25,95.33 639.75,95.33 639.75,86.67 640.25,86.67 640.25,78.00 640.75,78.00 640.75,68.67 641.25,68.67 641.25,60.00 641.75,60.00 641.75,51.33 642.25,51.33 642.25,43.33 642.75,43.33 642.75,36.00 643.25,36.00 643.25,29.33 643.75,29.33 643.75,24.67 644.25,24.67 644.25,20.67 644.75,20.67 644.75,18.67 645.25,18.67 645.25,17.33 645.75,17.33 645.75,18.00 646.25,18.00 646.25,20.67 646.75,20.67 646.75,24.67 647.25,24.67 647.25,29.33 647.75,29.33 647.75,36.00 648.25,36.00 648.25,42.67 648.75,42.67 648.75,51.33 649.25,51.33 649.25,60.00 649.75,60.00 649.75,68.67 650.25,68.67 650.25,78.00 650.75,78.00 650.75,86.67 651.25,86.67 651.25,95.33 651.75,95.33 651.75,102.67 652.25,102.67 652.25,109.33 652.75,109.33 652.75,115.33 653.25,115.33 653.25,119.33 653.75,119.33 653.75,122.67 654.25,122.67 654.25,124.00 654.75,124.00 654.75,124.00 655.25,124.00 655.25,122.67 655.75,122.67 655.75,119.33 656.25,119.33 656.25,114.67 656.75,114.67 656.75,109.33 657.25,109.33 657.25,102.67 657.75,102.67 657.75,94.67 658.25,94.67 658.25,86.00 658.75,86.00 658.75,77.33 659.25,77.33 659.25,68.00 659.75,68.00 659.75,59.33 660.25,59.33 660.25,50.67 660.75,50.67 660.75,42.67 661.25,42.67 661.25,35.33 661.75,35.33 661.75,29.33 662.25,29.33 662.25,24.00 662.75,24.00 662.75,20.67 663.25,20.67 663.25,18.00 663.75,18.00 663.75,17.33 664.25,17.33 664.25,18.67 664.75,18.67 664.75,20.67 665.25,20.67 665.25,24.67 665.75,24.67 665.75,30.00 666.25,30.00 666.25,36.00 666.75,36.00 666.75,43.33 667.25,43.33 667.25,51.33 667.75,51.33 667.75,60.00 668.25,60.00 668.25,69.33 668.75,69.33 668.75,78.00 669.25,78.00 669.25,87.33 669.75,87.33 669.75,95.33 670.25,95.33 670.25,103.33 670.75,103.33 670.75,110.00 671.25,110.00 671.25,115.33 671.75,115.33 671.75,120.00 672.25,120.00 672.25,122.67 672.75,122.67 672.75,124.00 673.25,124.00 673.25,124.00 673.75,124.00 673.75,122.00 674.25,122.00 674.25,119.33 674.75,119.33 674.75,114.67 675.25,114.67 675.25,108.67 675.75,108.67 675.75,102.00 676.25,102.00 676.25,94.00 676.75,94.00 676.75,86.00 677.25,86.00 677.25,76.67 677.75,76.67 677.75,68.00 678.25,68.00 678.25,58.67 678.75,58.67 678.75,50.00 679.25,50.00 679.25,42.00 679.75,42.00 679.75,38.67 680.25,38.67"/>
<polyline class="ln" stroke="#EDB120" points="32.25,124.00 32.75,124.00 32.75,124.00 33.25,124.00 33.25,122.67 33.75,122.67 33.75,120.00 34.25,120.00 34.25,116.00 34.75,116.00 34.75,110.67 35.25,110.67 35.25,104.00 35.75,104.00 35.75,96.67 36.25,96.67 36.25,88.67 36.75,88.67 36.75,80.00 37.25,80.00 37.25,70.67 37.75,70.67 37.75,61.33 38.25,61.33 38.25,52.67 38.75,52.67 38.75,44.67 39.25,44.67 39.25,37.33 39.75,37.33 39.75,30.67 40.25,30.67 40.25,25.33 40.75,25.33 40.75,21.33 41.25,21.33 41.25,18.67 41.75,18.67 41.75,17.33 42.25,17.33 42.25,18.00 42.75,18.00 42.75,20.00 43.25,20.00 43.25,23.33 43.75,23.33 43.75,28.00 44.25,28.00 44.25,34.00 44.75,34.00 44.75,41.33 45.25,41.33 45.25,49.33 45.75,49.33 45.75,58.00 46.25,58.00 46.25,66.67 46.75,66.67 46.75,76.00 47.25,76.00 47.25,84.67 47.75,84.67 47.75,93.33 48.25,93.33 48.25,101.33 48.75,101.33 48.75,108.00 49.25,108.00 49.25,114.00 49.75,114.00 49.75,118.67 50.25,118.67 50.25,122.00 50.75,122.00 50.75,124.00 51.25,124.00 51.25,124.00 51.75,124.00 51.75,122.67 52.25,122.67 52.25,120.00 52.75,120.00 52.75,116.00 53.25,116.00 53.25,110.67 53.75,110.67 53.75,104.00 54.25,104.00 54.25,96.00 54.75,96.00 54.75,88.00 55.25,88.00 55.25,79.33 55.75,79.33 55.75,70.00 56.25,70.00 56.25,61.33 56.75,61.33 56.75,52.67 57.25,52.67 57.25,44.00 57.75,44.00 57.75,36.67 58.25,36.67 58.25,30.67 58.75,30.67 58.75,25.33 59.25,25.33 59.25,21.33 59.75,21.33 59.75,18.67 60.25,18.67 60.25,17.33 60.75,17.33 60.75,18.00 61.25,18.00 61.25,20.00 61.75,20.00 61.75,24.00 62.25,24.00 62.25,28.67 62.75,28.67 62.75,34.67 63.25,34.67 63.25,42.00 63.75,42.00 63.75,50.00 64.25,50.00 64.25,58.67 64.75,58.67 64.75,67.33 65.25,67.33 65.25,76.67 65.75,76.67 65.75,85.33 66.25,85.33 66.25,94.00 66.75,94.00 66.75,101.33 67.25,101.33 67.25,108.67 67.75,108.67 67.75,114.67 68.25,114.67 68.25,118.67 68.75,118.67 68.75,122.00 69.25,122.00 69.25,124.00 69.75,124.00 69.75,124.00 70.25,124.00 70.25,122.67 70.75,122.67 70.75,120.00 71.25,120.00 71.25,115.33 71.75,115.33 71.75,110.00 72.25,110.00 72.25,103.33 72.75,103.33 72.75,96.00 73.25,96.00 73.25,87.33 73.75,87.33 73.75,78.67 74.25,78.67 74.25,69.33 74.75,69.33 74.75,60.67 75.25,60.67 75.25,52.00 75.75,52.00 75.75,44.00 76.25,44.00 76.25,36.67 76.75,36.67 76.75,30.00 77.25,30.00 77.25,24.67 77.75,24.67 77.75,20.67 78.25,20.67 78.25,18.67 78.75,18.67 78.75,17.33 79.25,17.33 79.25,18.00 79.75,18.00 79.75,20.67 80.25,20.67 80.25,24.00 80.75,24.00 80.75,28.67 81.25,28.67 81.25,35.33 81.75,35.33 81.75,42.00 82.25,42.00 82.25,50.00 82.75,50.00 82.75,58.67 83.25,58.67 83.25,68.00 83.75,68.00 83.75,76.67 84.25,76.67 84.25,86.00 84.75,86.00 84.75,94.00 85.25,94.00 85.25,102.00 85.75,102.00 85.75,108.67 86.25,108.67 86.25,114.67 86.75,114.67 86.75,119.33 87.25,119.33 87.25,122.67 87.75,122.67 87.75,124.00 88.25,124.00 88.25,124.00 88.75,124.00 88.75,122.67 89.25,122.67 89.25,120.00 89.75,120.00 89.75,115.33 90.25,115.33 90.25,110.00 90.75,110.00 90.75,103.33 91.25,103.33 91.25,95.33 91.75,95.33 91.75,86.67 92.25,86.67 92.25,78.00 92.75,78.00 92.75,69.33 93.25,69.33 93.25,60.00 93.75,60.00 93.75,51.33 94.25,51.33 94.25,43.33 94.75,43.33 94.75,36.00 95.25,36.00 95.25,30.00 95.75,30.00 95.75,24.67 96.25,24.67 96.25,20.67 96.75,20.67 96.75,18.67 97.25,18.67 97.25,17.33 97.75,17.33 97.75,18.00 98.25,18.00 98.25,20.67 98.75,20.67 98.75,24.00 99.25,24.00 99.25,29.33 99.75,29.33 99.75,35.33 100.25,35.33 100.25,42.67 100.75,42.67 100.75,50.67 101.25,50.67 101.25,59.33 101.75,59.33 101.75,68.67 102.25,68.67 102.25,77.33 102.75,77.33 102.75,86.67 103.25,86.67 103.25,94.67 103.75,94.67 103.75,102.67 104.25,102.67 104.25,109.33 104.75,109.33 104.75,115.33 105.25,115.33 105.25,119.33 105.75,119.33 105.75,122.67 106.25,122.67 106.25,124.00 106.75,124.00 106.75,124.00 107.25,124.00 107.25,122.67 107.75,122.67 107.75,119.33 108.25,119.33 108.25,115.33 108.75,115.33 108.75,109.33 109.25,109.33 109.25,102.67 109.75,102.67 109.75,94.67 110.25,94.67 110.25,86.67 110.75,86.67 110.75,77.33 111.25,77.33 111.25,68.67 111.75,68.67 111.75,59.33 112.25,59.33 112.25,50.67 112.75,50.67 112.75,42.67 113.25,42.67 113.25,35.33 113.75,35.33 113.75,29.33 114.25,29.33 114.25,24.00 114.75,24.00 114.75,20.67 115.25,20.67 115.25,18.00 115.75,18.00 115.75,17.33 116.25,17.33 116.25,18.67 116.75,18.67 116.75,20.67 117.25,20.67 117.25,24.67 117.75,24.67 117.75,29.33 118.25,29.33 118.25,36.00 118.75,36.00 118.75,43.33 119.25,43.33 119.25,51.33 119.75,51.33 119.75,60.00 120.25,60.00 120.25,68.67 120.75,68.67 120.75,78.00 121.25,78.00 121.25,86.67 121.75,86.67 121.75,95.33 122.25,95.33 122.25,102.67 122.75,102.67 122.75,109.33 123.25,109.33 123.25,115.33 123.75,115.33 123.75,119.33 124.25,119.33 124.25,122.67 124.75,122.67 124.75,124.00 125.25,124.00 125.25,124.00 125.75,124.00 125.75,122.67 126.25,122.67 126.25,119.33 126.75,119.33 126.75,114.67 127.25,114.67 127.25,109.33 127.75,109.33 127.75,102.00 128.25,102.00 128.25,94.67 128.75,94.67 128.75,86.00 129.25,86.00 129.25,77.33 129.75,77.33 129.75,68.00 130.25,68.00 130.25,59.33 130.75,59.33 130.75,50.67 131.25,50.67 131.25,42.67 131.75,42.67 131.75,35.33 132.25,35.33 132.25,29.33 132.75,29.33 132.75,24.00 133.25,24.00 133.25,20.67 133.75,20.67 133.75,18.00 134.25,18.00 134.25,17.33 134.75,17.33 134.75,18.67 135.25,18.67 135.25,20.67 135.75,20.67 135.75,24.67 136.25,24.67 136.25,30.00 136.75,30.00 136.75,36.00 137.25,36.00 137.25,43.33 137.75,43.33 137.75,52.00 138.25,52.00 138.25,60.67 138.75,60.67 138.75,69.33 139.25,69.33 139.25,78.67 139.75,78.67 139.75,87.33 140.25,87.33 140.25,96.00 140.75,96.00 140.75,103.33 141.25,103.33 141.25,110.00 141.75,110.00 141.75,115.33 142.25,115.33 142.25,120.00 142.75,120.00 142.75,122.67 143.25,122.67 143.25,124.00 143.75,124.00 143.75,124.00 144.25,124.00 144.25,122.00 144.75,122.00 144.75,119.33 145.25,119.33 145.25,114.67 145.75,114.67 145.75,108.67 146.25,108.67 146.25,102.00 146.75,102.00 146.75,94.00 147.25,94.00 147.25,85.33 147.75,85.33 147.75,76.67 148.25,76.67 148.25,67.33 148.75,67.33 148.75,58.67 149.25,58.67 149.25,50.00 149.75,50.00 149.75,42.00 150.25,42.00 150.25,34.67 150.75,34.67 150.75,28.67 151.25,28.67 151.25,24.00 151.75,24.00 151.75,20.00 152.25,20.00 152.25,18.00 152.75,18.00 152.75,17.33 153.25,17.33 153.25,18.67 153.75,18.67 153.75,21.33 154.25,21.33 154.25,24.67 154.75,24.67 154.75,30.00 155.25,30.00 155.25,36.67 155.75,36.67 155.75,44.00 156.25,44.00 156.25,52.00 156.75,52.00 156.75,60.67 157.25,60.67 157.25,70.00 157.75,70.00 157.75,79.33 158.25,79.33 158.25,88.00 158.75,88.00 158.75,96.00 159.25,96.00 159.25,104.00 159.75,104.00 159.75,110.67 160.25,110.67 160.25,116.00 160.75,116.00 160.75,120.00 161.25,120.00 161.25,122.67 161.75,122.67 161.75,124.00 162.25,124.00 162.25,124.00 162.75,124.00 162.75,122.00 163.25,122.00 163.25,118.67 163.75,118.67 163.75,114.00 164.25,114.00 164.25,108.00 164.75,108.00 164.75,101.33 165.25,101.33 165.25,93.33 165.75,93.33 165.75,84.67 166.25,84.67 166.25,76.00 166.75,76.00 166.75,67.33 167.25,67.33 167.25,58.00 167.75,58.00 167.75,49.33 168.25,49.33 168.25,41.33 168.75,41.33 168.75,34.67 169.25,34.67 169.25,28.67 169.75,28.67 169.75,23.33 170.25,23.33 170.25,20.00 170.75,20.00 170.75,18.00 171.25,18.00 171.25,17.33 171.75,17.33 171.75,18.67 172.25,18.67 172.25,21.33 172.75,21.33 172.75,25.33 173.25,25.33 173.25,30.67 173.75,30.67 173.75,37.33 174.25,37.33 174.25,44.67 174.75,44.67 174.75,52.67 175.25,52.67 175.25,61.33 175.75,61.33 175.75,70.67 176.25,70.67 176.25,79.33 176.75,79.33 176.75,88.67 177.25,88.67 177.25,96.67 177.75,96.67 177.75,104.00 178.25,104.00 178.25,110.67 178.75,110.67 178.75,116.00 179.25,116.00 179.25,120.00 179.75,120.00 179.75,122.67 180.25,122.67 180.25,124.00 180.75,124.00 180.75,124.00 181.25,124.00 181.25,122.00 181.75,122.00 181.75,118.67 182.25,118.67 182.25,114.00 182.75,114.00 182.75,108.00 183.25,108.00 183.25,100.67 183.75,100.67 183.75,92.67 184.25,92.67 184.25,84.67 184.75,84.67 184.75,75.33 185.25,75.33 185.25,66.67 185.75,66.67 185.75,57.33 186.25,57.33 186.25,49.33 186.75,49.33 186.75,41.33 187.25,41.33 187.25,34.00 187.75,34.00 187.75,28.00 188.25,28.00 188.25,23.33 188.75,23.33 188.75,20.00 189.25,20.00 189.25,18.00 189.75,18.00 189.75,17.33 190.25,17.33 190.25,18.67 190.75,18.67 190.75,21.33 191.25,21.33 191.25,25.33 191.75,25.33 191.75,30.67 192.25,30.67 192.25,37.33 192.75,37.33 192.75,44.67 193.25,44.67 193.25,53.33 193.75,53.33 193.75,62.00 194.25,62.00 194.25,71.33 194.75,71.33 194.75,80.00 195.25,80.00 195.25,88.67 195.75,88.67 195.75,97.33 196.25,97.33 196.25,104.67 196.75,104.67 196.75,111.33 197.25,111.33 197.25,116.67 197.75,116.67 197.75,120.67 198.25,120.67 198.25,123.33 198.75,123.33 198.75,124.00 199.25,124.00 199.25,124.00 199.75,124.00 199.75,122.00 200.25,122.00 200.25,118.67 200.75,118.67 200.75,113.33 201.25,113.33 201.25,107.33 201.75,107.33 201.75,100.67 202.25,100.67 202.25,92.67 202.75,92.67 202.75,84.00 203.25,84.00 203.25,75.33 203.75,75.33 203.75,66.00 204.25,66.00 204.25,57.33 204.75,57.33 204.75,48.67 205.25,48.67 205.25,40.67 205.75,40.67 205.75,34.00 206.25,34.00 206.25,28.00 206.75,28.00 206.75,23.33 207.25,23.33 207.25,20.00 207.75,20.00 207.75,18.00 208.25,18.00 208.25,17.33 208.75,17.33 208.75,18.67 209.25,18.67 209.25,21.33 209.75,21.33 209.75,26.00 210.25,26.00 210.25,31.33 210.75,31.33 210.75,38.00 211.25,38.00 211.25,45.33 211.75,45.33 211.75,54.00 212.25,54.00 212.25,62.67 212.75,62.67 212.75,71.33 213.25,71.33 213.25,80.67 213.75,80.67 213.75,89.33 214.25,89.33 214.25,97.33 214.75,97.33 214.75,104.67 215.25,104.67 215.25,111.33 215.75,111.33 215.75,116.67 216.25,116.67 216.25,120.67 216.75,120.67 216.75,123.33 217.25,123.33 217.25,124.00 217.75,124.00 217.75,124.00 218.25,124.00 218.25,121.33 218.75,121.33 218.75,118.00 219.25,118.00 219.25,113.33 219.75,113.33 219.75,107.33 220.25,107.33 220.25,100.00 220.75,100.00 220.75,92.00 221.25,92.00 221.25,83.33 221.75,83.33 221.75,74.67 222.25,74.67 222.25,65.33 222.75,65.33 222.75,56.67 223.25,56.67 223.25,48.00 223.75,48.00 223.75,40.00 224.25,40.00 224.25,33.33 224.75,33.33 224.75,27.33 225.25,27.33 225.25,22.67 225.75,22.67 225.75,19.33 226.25,19.33 226.25,18.00 226.75,18.00 226.75,18.00 227.25,18.00 227.25,19.33 227.75,19.33 227.75,22.00 228.25,22.00 228.25,26.00 228.75,26.00 228.75,31.33 229.25,31.33 229.25,38.00 229.75,38.00 229.75,46.00 230.25,46.00 230.25,54.00 230.75,54.00 230.75,63.33 231.25,63.33 231.25,72.00 231.75,72.00 231.75,81.33 232.25,81.33 232.25,90.00 232.75,90.00 232.75,98.00 233.25,98.00 233.25,105.33 233.75,105.33 233.75,112.00 234.25,112.00 234.25,116.67 234.75,116.67 234.75,120.67 235.25,120.67 235.25,123.33 235.75,123.33 235.75,124.00 236.25,124.00 236.25,123.33 236.75,123.33 236.75,121.33 237.25,121.33 237.25,118.00 237.75,118.00 237.75,112.67 238.25,112.67 238.25,106.67 238.75,106.67 238.75,99.33 239.25,99.33 239.25,91.33 239.75,91.33 239.75,82.67 240.25,82.67 240.25,74.00 240.75,74.00 240.75,64.67 241.25,64.67 241.25,56.00 241.75,56.00 241.75,47.33 242.25,47.33 242.25,40.00 242.75,40.00 242.75,32.67 243.25,32.67 243.25,27.33 243.75,27.33 243.75,22.67 244.25,22.67 244.25,19.33 244.75,19.33 244.75,18.00 245.25,18.00 245.25,18.00 245.75,18.00 245.75,19.33 246.25,19.33 246.25,22.00 246.75,22.00 246.75,26.67 247.25,26.67 247.25,32.00 247.75,32.00 247.75,38.67 248.25,38.67 248.25,46.67 248.75,46.67 248.75,54.67 249.25,54.67 249.25,63.33 249.75,63.33 249.75,72.67 250.25,72.67 250.25,81.33 250.75,81.33 250.75,90.00 251.25,90.00 251.25,98.67 251.75,98.67 251.75,106.00 252.25,106.00 252.25,112.00 252.75,112.00 252.75,117.33 253.25,117.33 253.25,121.33 253.75,121.33 253.75,123.33 254.25,123.33 254.25,124.00 254.75,124.00 254.75,123.33 255.25,123.33 255.25,121.33 255.75,121.33 255.75,117.33 256.25,117.33 256.25,112.67 256.75,112.67 256.75,106.67 257.25,106.67 257.25,99.33 257.75,99.33 257.75,91.33 258.25,91.33 258.25,82.67 258.75,82.67 258.75,73.33 259.25,73.33 259.25,64.67 259.75,64.67 259.75,55.33 260.25,55.33 260.25,47.33 260.75,47.33 260.75,39.33 261.25,39.33 261.25,32.67 261.75,32.67 261.75,26.67 262.25,26.67 262.25,22.67 262.75,22.67 262.75,19.33 263.25,19.33 263.25,18.00 263.75,18.00 263.75,18.00 264.25,18.00 264.25,19.33 264.75,19.33 264.75,22.00 265.25,22.00 265.25,26.67 265.75,26.67 265.75,32.67 266.25,32.67 266.25,39.33 266.75,39.33 266.75,46.67 267.25,46.67 267.25,55.33 267.75,55.33 267.75,64.00 268.25,64.00 268.25,73.33 268.75,73.33 268.75,82.00 269.25,82.00 269.25,90.67 269.75,90.67 269.75,98.67 270.25,98.67 270.25,106.00 270.75,106.00 270.75,112.67 271.25,112.67 271.25,117.33 271.75,117.33 271.75,121.33 272.25,121.33 272.25,123.33 272.75,123.33 272.75,124.00 273.25,124.00 273.25,123.33 273.75,123.33 273.75,121.33 274.25,121.33 274.25,117.33 274.75,117.33 274.75,112.00 275.25,112.00 275.25,106.00 275.75,106.00 275.75,98.67 276.25,98.67 276.25,90.67 276.75,90.67 276.75,82.00 277.25,82.00 277.25,72.67 277.75,72.67 277.75,64.00 278.25,64.00 278.25,55.33 278.75,55.33 278.75,46.67 279.25,46.67 279.25,38.67 279.75,38.67 279.75,32.00 280.25,32.00 280.25,26.67 280.75,26.67 280.75,22.00 281.25,22.00 281.25,19.33 281.75,19.33 281.75,18.00 282.25,18.00 282.25,18.00 282.75,18.00 282.75,19.33 283.25,19.33 283.25,22.67 283.75,22.67 283.75,26.67 284.25,26.67 284.25,32.67 284.75,32.67 284.75,39.33 285.25,39.33 285.25,47.33 285.75,47.33 285.75,56.00 286.25,56.00 286.25,64.67 286.75,64.67 286.75,73.33 287.25,73.33 287.25,82.67 287.75,82.67 287.75,91.33 288.25,91.33 288.25,99.33 288.75,99.33 288.75,106.67 289.25,106.67 289.25,112.67 289.75,112.67 289.75,118.00 290.25,118.00 290.25,121.33 290.75,121.33 290.75,123.33 291.25,123.33 291.25,124.00 291.75,124.00 291.75,123.33 292.25,123.33 292.25,120.67 292.75,120.67 292.75,117.33 293.25,117.33 293.25,112.00 293.75,112.00 293.75,105.33 294.25,105.33 294.25,98.00 294.75,98.00 294.75,90.00 295.25,90.00 295.25,81.33 295.75,81.33 295.75,72.67 296.25,72.67 296.25,63.33 296.75,63.33 296.75,54.67 297.25,54.67 297.25,46.00 297.75,46.00 297.75,38.67 298.25,38.67 298.25,32.00 298.75,32.00 298.75,26.00 299.25,26.00 299.25,22.00 299.75,22.00 299.75,19.33 300.25,19.33 300.25,18.00 300.75,18.00 300.75,18.00 301.25,18.00 301.25,19.33 301.75,19.33 301.75,22.67 302.25,22.67 302.25,27.33 302.75,27.33 302.75,33.33 303.25,33.33 303.25,40.00 303.75,40.00 303.75,48.00 304.25,48.00 304.25,56.00 304.75,56.00 304.75,65.33 305.25,65.33 305.25,74.00 305.75,74.00 305.75,83.33 306.25,83.33 306.25,92.00 306.75,92.00 306.75,100.00 307.25,100.00 307.25,106.67 307.75,106.67 307.75,113.33 308.25,113.33 308.25,118.00 308.75,118.00 308.75,121.33 309.25,121.33 309.25,123.33 309.75,123.33 309.75,124.00 310.25,124.00 310.25,123.33 310.75,123.33 310.75,120.67 311.25,120.67 311.25,116.67 311.75,116.67 311.75,111.33 312.25,111.33 312.25,105.33 312.75,105.33 312.75,98.00 313.25,98.00 313.25,89.33 313.75,89.33 313.75,80.67 314.25,80.67 314.25,72.00 314.75,72.00 314.75,62.67 315.25,62.67 315.25,54.00 315.75,54.00 315.75,46.00 316.25,46.00 316.25,38.00 316.75,38.00 316.75,31.33 317.25,31.33 317.25,26.00 317.75,26.00 317.75,22.00 318.25,22.00 318.25,18.67 318.75,18.67 318.75,18.00 319.25,18.00 319.25,18.00 319.75,18.00 319.75,20.00 320.25,20.00 320.25,22.67 320.75,22.67 320.75,27.33 321.25,27.33 321.25,33.33 321.75,33.33 321.75,40.67 322.25,40.67 322.25,48.00 322.75,48.00 322.75,56.67 323.25,56.67 323.25,65.33 323.75,65.33 323.75,74.67 324.25,74.67 324.25,83.33 324.75,83.33 324.75,92.00 325.25,92.00 325.25,100.00 325.75,100.00 325.75,107.33 326.25,107.33 326.25,113.33 326.75,113.33 326.75,118.00 327.25,118.00 327.25,122.00 327.75,122.00 327.75,124.00 328.25,124.00 328.25,124.00 328.75,124.00 328.75,123.33 329.25,123.33 329.25,120.67 329.75,120.67 329.75,116.67 330.25,116.67 330.25,111.33 330.75,111.33 330.75,104.67 331.25,104.67 331.25,97.33 331.75,97.33 331.75,89.33 332.25,89.33 332.25,80.67 332.75,80.67 332.75,71.33 333.25,71.33 333.25,62.00 333.75,62.00 333.75,53.33 334.25,53.33 334.25,45.33 334.75,45.33 334.75,38.00 335.25,38.00 335.25,31.33 335.75,31.33 335.75,26.00 336.25,26.00 336.25,21.33 336.75,21.33 336.75,18.67 337.25,18.67 337.25,17.33 337.75,17.33 337.75,18.00 338.25,18.00 338.25,20.00 338.75,20.00 338.75,23.33 339.25,23.33 339.25,28.00 339.75,28.00 339.75,34.00 340.25,34.00 340.25,40.67 340.75,40.67 340.75,48.67 341.25,48.67 341.25,57.33 341.75,57.33 341.75,66.00 342.25,66.00 342.25,75.33 342.75,75.33 342.75,84.00 343.25,84.00 343.25,92.67 343.75,92.67 343.75,100.67 344.25,100.67 344.25,108.00 344.75,108.00 344.75,114.00 345.25,114.00 345.25,118.67 345.75,118.67 345.75,122.00 346.25,122.00 346.25,124.00 346.75,124.00 346.75,124.00 347.25,124.00 347.25,123.33 347.75,123.33 347.75,120.67 348.25,120.67 348.25,116.67 348.75,116.67 348.75,110.67 349.25,110.67 349.25,104.67 349.75,104.67 349.75,96.67 350.25,96.67 350.25,88.67 350.75,88.67 350.75,80.00 351.25,80.00 351.25,70.67 351.75,70.67 351.75,62.00 352.25,62.00 352.25,53.33 352.75,53.33 352.75,44.67 353.25,44.67 353.25,37.33 353.75,37.33 353.75,30.67 354.25,30.67 354.25,25.33 354.75,25.33 354.75,21.33 355.25,21.33 355.25,18.67 355.75,18.67 355.75,17.33 356.25,17.33 356.25,18.00 356.75,18.00 356.75,20.00 357.25,20.00 357.25,23.33 357.75,23.33 357.75,28.00 358.25,28.00 358.25,34.00 358.75,34.00 358.75,41.33 359.25,41.33 359.25,49.33 359.75,49.33 359.75,58.00 360.25,58.00 360.25,66.67 360.75,66.67 360.75,76.00 361.25,76.00 361.25,84.67 361.75,84.67 361.75,93.33 362.25,93.33 362.25,101.33 362.75,101.33 362.75,108.00 363.25,108.00 363.25,114.00 363.75,114.00 363.75,118.67 364.25,118.67 364.25,122.00 364.75,122.00 364.75,124.00 365.25,124.00 365.25,124.00 365.75,124.00 365.75,122.67 366.25,122.67 366.25,120.00 366.75,120.00 366.75,116.00 367.25,116.00 367.25,110.67 367.75,110.67 367.75,104.00 368.25,104.00 368.25,96.67 368.75,96.67 368.75,88.00 369.25,88.00 369.25,79.33 369.75,79.33 369.75,70.00 370.25,70.00 370.25,61.33 370.75,61.33 370.75,52.67 371.25,52.67 371.25,44.67 371.75,44.67 371.75,36.67 372.25,36.67 372.25,30.67 372.75,30.67 372.75,25.33 373.25,25.33 373.25,21.33 373.75,21.33 373.75,18.67 374.25,18.67 374.25,17.33 374.75,17.33 374.75,18.00 375.25,18.00 375.25,20.00 375.75,20.00 375.75,23.33 376.25,23.33 376.25,28.67 376.75,28.67 376.75,34.67 377.25,34.67 377.25,42.00 377.75,42.00 377.75,50.00 378.25,50.00 378.25,58.00 378.75,58.00 378.75,67.33 379.25,67.33 379.25,76.00 379.75,76.00 379.75,85.33 380.25,85.33 380.25,93.33 380.75,93.33 380.75,101.33 381.25,101.33 381.25,108.67 381.75,108.67 381.75,114.67 382.25,114.67 382.25,118.67 382.75,118.67 382.75,122.00 383.25,122.00 383.25,124.00 383.75,124.00 383.75,124.00 384.25,124.00 384.25,122.67 384.75,122.67 384.75,120.00 385.25,120.00 385.25,116.00 385.75,116.00 385.75,110.00 386.25,110.00 386.25,103.33 386.75,103.33 386.75,96.00 387.25,96.00 387.25,87.33 387.75,87.33 387.75,78.67 388.25,78.67 388.25,70.00 388.75,70.00 388.75,60.67 389.25,60.67 389.25,52.00 389.75,52.00 389.75,44.00 390.25,44.00 390.25,36.67 390.75,36.67 390.75,30.00 391.25,30.00 391.25,24.67 391.75,24.67 391.75,20.67 392.25,20.67 392.25,18.67 392.75,18.67 392.75,17.33 393.25,17.33 393.25,18.00 393.75,18.00 393.75,20.00 394.25,20.00 394.25,24.00 394.75,24.00 394.75,28.67 395.25,28.67 395.25,34.67 395.75,34.67 395.75,42.00 396.25,42.00 396.25,50.00 396.75,50.00 396.75,58.67 397.25,58.67 397.25,68.00 397.75,68.00 397.75,76.67 398.25,76.67 398.25,86.00 398.75,86.00 398.75,94.00 399.25,94.00 399.25,102.00 399.75,102.00 399.75,108.67 400.25,108.67 400.25,114.67 400.75,114.67 400.75,119.33 401.25,119.33 401.25,122.00 401.75,122.00 401.75,124.00 402.25,124.00 402.25,124.00 402.75,124.00 402.75,122.67 403.25,122.67 403.25,120.00 403.75,120.00 403.75,115.33 404.25,115.33 404.25,110.00 404.75,110.00 404.75,103.33 405.25,103.33 405.25,95.33 405.75,95.33 405.75,87.33 406.25,87.33 406.25,78.00 406.75,78.00 406.75,69.33 407.25,69.33 407.25,60.00 407.75,60.00 407.75,51.33 408.25,51.33 408.25,43.33 408.75,43.33 408.75,36.00 409.25,36.00 409.25,30.00 409.75,30.00 409.75,24.67 410.25,24.67 410.25,20.67 410.75,20.67 410.75,18.67 411.25,18.67 411.25,17.33 411.75,17.33 411.75,18.00 412.25,18.00 412.25,20.67 412.75,20.67 412.75,24.00 413.25,24.00 413.25,29.33 413.75,29.33 413.75,35.33 414.25,35.33 414.25,42.67 414.75,42.67 414.75,50.67 415.25,50.67 415.25,59.33 415.75,59.33 415.75,68.00 416.25,68.00 416.25,77.33 416.75,77.33 416.75,86.00 417.25,86.00 417.25,94.67 417.75,94.67 417.75,102.67 418.25,102.67 418.25,109.33 418.75,109.33 418.75,114.67 419.25,114.67 419.25,119.33 419.75,119.33 419.75,122.67 420.25,122.67 420.25,124.00 420.75,124.00 420.75,124.00 421.25,124.00 421.25,122.67 421.75,122.67 421.75,119.33 422.25,119.33 422.25,115.33 422.75,115.33 422.75,109.33 423.25,109.33 423.25,102.67 423.75,102.67 423.75,95.33 424.25,95.33 424.25,86.67 424.75,86.67 424.75,78.00 425.25,78.00 425.25,68.67 425.75,68.67 425.75,60.00 426.25,60.00 426.25,51.33 426.75,51.33 426.75,43.33 427.25,43.33 427.25,36.00 427.75,36.00 427.75,29.33 428.25,29.33 428.25,24.67 428.75,24.67 428.75,20.67 429.25,20.67 429.25,18.67 429.75,18.67 429.75,17.33 430.25,17.33 430.25,18.67 430.75,18.67 430.75,20.67 431.25,20.67 431.25,24.67 431.75,24.67 431.75,29.33 432.25,29.33 432.25,36.00 432.75,36.00 432.75,43.33 433.25,43.33 433.25,51.33 433.75,51.33 433.75,60.00 434.25,60.00 434.25,68.67 434.75,68.67 434.75,78.00 435.25,78.00 435.25,86.67 435.75,86.67 435.75,95.33 436.25,95.33 436.25,102.67 436.75,102.67 436.75,109.33 437.25,109.33 437.25,115.33 437.75,115.33 437.75,119.33 438.25,119.33 438.25,122.67 438.75,122.67 438.75,124.00 439.25,124.00 439.25,124.00 439.75,124.00 439.75,122.67 440.25,122.67 440.25,119.33 440.75,119.33 440.75,114.67 441.25,114.67 441.25,109.33 441.75,109.33 441.75,102.00 442.25,102.00 442.25,94.67 442.75,94.67 442.75,86.00 443.25,86.00 443.25,77.33 443.75,77.33 443.75,68.00 444.25,68.00 444.25,59.33 444.75,59.33 444.75,50.67 445.25,50.67 445.25,42.67 445.75,42.67 445.75,35.33 446.25,35.33 446.25,29.33 446.75,29.33 446.75,24.00 447.25,24.00 447.25,20.67 447.75,20.67 447.75,18.00 448.25,18.00 448.25,17.33 448.75,17.33 448.75,18.67 449.25,18.67 449.25,20.67 449.75,20.67 449.75,24.67 450.25,24.67 450.25,30.00 450.75,30.00 450.75,36.00 451.25,36.00 451.25,43.33 451.75,43.33 451.75,51.33 452.25,51.33 452.25,60.00 452.75,60.00 452.75,69.33 453.25,69.33 453.25,78.67 453.75,78.67 453.75,87.33 454.25,87.33 454.25,95.33 454.75,95.33 454.75,103.33 455.25,103.33 455.25,110.00 455.75,110.00 455.75,115.33 456.25,115.33 456.25,120.00 456.75,120.00 456.75,122.67 457.25,122.67 457.25,124.00 457.75,124.00 457.75,124.00 458.25,124.00 458.25,122.00 458.75,122.00 458.75,119.33 459.25,119.33 459.25,114.67 459.75,114.67 459.75,108.67 460.25,108.67 460.25,102.00 460.75,102.00 460.75,94.00 461.25,94.00 461.25,85.33 461.75,85.33 461.75,76.67 462.25,76.67 462.25,68.00 462.75,68.00 462.75,58.67 463.25,58.67 463.25,50.00 463.75,50.00 463.75,42.00 464.25,42.00 464.25,34.67 464.75,34.67 464.75,28.67 465.25,28.67 465.25,24.00 465.75,24.00 465.75,20.00 466.25,20.00 466.25,18.00 466.75,18.00 466.75,17.33 467.25,17.33 467.25,18.67 467.75,18.67 467.75,20.67 468.25,20.67 468.25,24.67 468.75,24.67 468.75,30.00 469.25,30.00 469.25,36.67 469.75,36.67 469.75,44.00 470.25,44.00 470.25,52.00 470.75,52.00 470.75,60.67 471.25,60.67 471.25,70.00 471.75,70.00 471.75,78.67 472.25,78.67 472.25,88.00 472.75,88.00 472.75,96.00 473.25,96.00 473.25,103.33 473.75,103.33 473.75,110.00 474.25,110.00 474.25,116.00 474.75,116.00 474.75,120.00 475.25,120.00 475.25,122.67 475.75,122.67 475.75,124.00 476.25,124.00 476.25,124.00 476.75,124.00 476.75,122.00 477.25,122.00 477.25,118.67 477.75,118.67 477.75,114.00 478.25,114.00 478.25,108.67 478.75,108.67 478.75,101.33 479.25,101.33 479.25,93.33 479.75,93.33 479.75,85.33 480.25,85.33 480.25,76.00 480.75,76.00 480.75,67.33 481.25,67.33 481.25,58.00 481.75,58.00 481.75,49.33 482.25,49.33 482.25,42.00 482.75,42.00 482.75,34.67 483.25,34.67 483.25,28.67 483.75,28.67 483.75,23.33 484.25,23.33 484.25,20.00 484.75,20.00 484.75,18.00 485.25,18.00 485.25,17.33 485.75,17.33 485.75,18.67 486.25,18.67 486.25,21.33 486.75,21.33 486.75,25.33 487.25,25.33 487.25,30.67 487.75,30.67 487.75,36.67 488.25,36.67 488.25,44.67 488.75,44.67 488.75,52.67 489.25,52.67 489.25,61.33 489.75,61.33 489.75,70.67 490.25,70.67 490.25,79.33 490.75,79.33 490.75,88.00 491.25,88.00 491.25,96.67 491.75,96.67 491.75,104.00 492.25,104.00 492.25,110.67 492.75,110.67 492.75,116.00 493.25,116.00 493.25,120.00 493.75,120.00 493.75,122.67 494.25,122.67 494.25,124.00 494.75,124.00 494.75,124.00 495.25,124.00 495.25,122.00 495.75,122.00 495.75,118.67 496.25,118.67 496.25,114.00 496.75,114.00 496.75,108.00 497.25,108.00 497.25,101.33 497.75,101.33 497.75,93.33 498.25,93.33 498.25,84.67 498.75,84.67 498.75,76.00 499.25,76.00 499.25,66.67 499.75,66.67 499.75,58.00 500.25,58.00 500.25,49.33 500.75,49.33 500.75,41.33 501.25,41.33 501.25,34.00 501.75,34.00 501.75,28.00 502.25,28.00 502.25,23.33 502.75,23.33 502.75,20.00 503.25,20.00 503.25,18.00 503.75,18.00 503.75,17.33 504.25,17.33 504.25,18.67 504.75,18.67 504.75,21.33 505.25,21.33 505.25,25.33 505.75,25.33 505.75,30.67 506.25,30.67 506.25,37.33 506.75,37.33 506.75,44.67 507.25,44.67 507.25,53.33 507.75,53.33 507.75,62.00 508.25,62.00 508.25,70.67 508.75,70.67 508.75,80.00 509.25,80.00 509.25,88.67 509.75,88.67 509.75,96.67 510.25,96.67 510.25,104.67 510.75,104.67 510.75,110.67 511.25,110.67 511.25,116.67 511.75,116.67 511.75,120.67 512.25,120.67 512.25,123.33 512.75,123.33 512.75,124.00 513.25,124.00 513.25,124.00 513.75,124.00 513.75,122.00 514.25,122.00 514.25,118.67 514.75,118.67 514.75,114.00 515.25,114.00 515.25,107.33 515.75,107.33 515.75,100.67 516.25,100.67 516.25,92.67 516.75,92.67 516.75,84.00 517.25,84.00 517.25,75.33 517.75,75.33 517.75,66.00 518.25,66.00 518.25,57.33 518.75,57.33 518.75,48.67 519.25,48.67 519.25,40.67 519.75,40.67 519.75,34.00 520.25,34.00 520.25,28.00 520.75,28.00 520.75,23.33 521.25,23.33 521.25,20.00 521.75,20.00 521.75,18.00 522.25,18.00 522.25,17.33 522.75,17.33 522.75,18.67 523.25,18.67 523.25,21.33 523.75,21.33 523.75,26.00 524.25,26.00 524.25,31.33 524.75,31.33 524.75,38.00 525.25,38.00 525.25,45.33 525.75,45.33 525.75,53.33 526.25,53.33 526.25,62.67 526.75,62.67 526.75,71.33 527.25,71.33 527.25,80.67 527.75,80.67 527.75,89.33 528.25,89.33 528.25,97.33 528.75,97.33 528.75,104.67 529.25,104.67 529.25,111.33 529.75,111.33 529.75,116.67 530.25,116.67 530.25,120.67 530.75,120.67 530.75,123.33 531.25,123.33 531.25,124.00 531.75,124.00 531.75,124.00 532.25,124.00 532.25,122.00 532.75,122.00 532.75,118.00 533.25,118.00 533.25,113.33 533.75,113.33 533.75,107.33 534.25,107.33 534.25,100.00 534.75,100.00 534.75,92.00 535.25,92.00 535.25,83.33 535.75,83.33 535.75,74.67 536.25,74.67 536.25,65.33 536.75,65.33 536.75,56.67 537.25,56.67 537.25,48.00 537.75,48.00 537.75,40.67 538.25,40.67 538.25,33.33 538.75,33.33 538.75,27.33 539.25,27.33 539.25,22.67 539.75,22.67 539.75,20.00 540.25,20.00 540.25,18.00 540.75,18.00 540.75,17.33 541.25,17.33 541.25,18.67 541.75,18.67 541.75,22.00 542.25,22.00 542.25,26.00 542.75,26.00 542.75,31.33 543.25,31.33 543.25,38.00 543.75,38.00 543.75,46.00 544.25,46.00 544.25,54.00 544.75,54.00 544.75,62.67 545.25,62.67 545.25,72.00 545.75,72.00 545.75,80.67 546.25,80.67 546.25,89.33 546.75,89.33 546.75,98.00 547.25,98.00 547.25,105.33 547.75,105.33 547.75,111.33 548.25,111.33 548.25,116.67 548.75,116.67 548.75,120.67 549.25,120.67 549.25,123.33 549.75,123.33 549.75,124.00 550.25,124.00 550.25,123.33 550.75,123.33 550.75,121.33 551.25,121.33 551.25,118.00 551.75,118.00 551.75,113.33 552.25,113.33 552.25,106.67 552.75,106.67 552.75,100.00 553.25,100.00 553.25,92.00 553.75,92.00 553.75,83.33 554.25,83.33 554.25,74.00 554.75,74.00 554.75,65.33 555.25,65.33 555.25,56.00 555.75,56.00 555.75,48.00 556.25,48.00 556.25,40.00 556.75,40.00 556.75,33.33 557.25,33.33 557.25,27.33 557.75,27.33 557.75,22.67 558.25,22.67 558.25,19.33 558.75,19.33 558.75,18.00 559.25,18.00 559.25,18.00 559.75,18.00 559.75,19.33 560.25,19.33 560.25,22.00 560.75,22.00 560.75,26.00 561.25,26.00 561.25,32.00 561.75,32.00 561.75,38.67 562.25,38.67 562.25,46.00 562.75,46.00 562.75,54.67 563.25,54.67 563.25,63.33 563.75,63.33 563.75,72.67 564.25,72.67 564.25,81.33 564.75,81.33 564.75,90.00 565.25,90.00 565.25,98.00 565.75,98.00 565.75,105.33 566.25,105.33 566.25,112.00 566.75,112.00 566.75,117.33 567.25,117.33 567.25,120.67 567.75,120.67 567.75,123.33 568.25,123.33 568.25,124.00 568.75,124.00 568.75,123.33 569.25,123.33 569.25,121.33 569.75,121.33 569.75,118.00 570.25,118.00 570.25,112.67 570.75,112.67 570.75,106.67 571.25,106.67 571.25,99.33 571.75,99.33 571.75,91.33 572.25,91.33 572.25,82.67 572.75,82.67 572.75,73.33 573.25,73.33 573.25,64.67 573.75,64.67 573.75,56.00 574.25,56.00 574.25,47.33 574.75,47.33 574.75,39.33 575.25,39.33 575.25,32.67 575.75,32.67 575.75,26.67 576.25,26.67 576.25,22.67 576.75,22.67 576.75,19.33 577.25,19.33 577.25,18.00 577.75,18.00 577.75,18.00 578.25,18.00 578.25,19.33 578.75,19.33 578.75,22.00 579.25,22.00 579.25,26.67 579.75,26.67 579.75,32.00 580.25,32.00 580.25,38.67 580.75,38.67 580.75,46.67 581.25,46.67 581.25,55.33 581.75,55.33 581.75,64.00 582.25,64.00 582.25,72.67 582.75,72.67 582.75,82.00 583.25,82.00 583.25,90.67 583.75,90.67 583.75,98.67 584.25,98.67 584.25,106.00 584.75,106.00 584.75,112.00 585.25,112.00 585.25,117.33 585.75,117.33 585.75,121.33 586.25,121.33 586.25,123.33 586.75,123.33 586.75,124.00 587.25,124.00 587.25,123.33 587.75,123.33 587.75,121.33 588.25,121.33 588.25,117.33 588.75,117.33 588.75,112.67 589.25,112.67 589.25,106.00 589.75,106.00 589.75,98.67 590.25,98.67 590.25,90.67 590.75,90.67 590.75,82.00 591.25,82.00 591.25,73.33 591.75,73.33 591.75,64.00 592.25,64.00 592.25,55.33 592.75,55.33 592.75,46.67 593.25,46.67 593.25,39.33 593.75,39.33 593.75,32.00 594.25,32.00 594.25,26.67 594.75,26.67 594.75,22.00 595.25,22.00 595.25,19.33 595.75,19.33 595.75,18.00 596.25,18.00 596.25,18.00 596.75,18.00 596.75,19.33 597.25,19.33 597.25,22.67 597.75,22.67 597.75,26.67 598.25,26.67 598.25,32.67 598.75,32.67 598.75,39.33 599.25,39.33 599.25,47.33 599.75,47.33 599.75,55.33 600.25,55.33 600.25,64.67 600.75,64.67 600.75,73.33 601.25,73.33 601.25,82.67 601.75,82.67 601.75,91.33 602.25,91.33 602.25,99.33 602.75,99.33 602.75,106.67 603.25,106.67 603.25,112.67 603.75,112.67 603.75,117.33 604.25,117.33 604.25,121.33 604.75,121.33 604.75,123.33 605.25,123.33 605.25,124.00 605.75,124.00 605.75,123.33 606.25,123.33 606.25,121.33 606.75,121.33 606.75,117.33 607.25,117.33 607.25,112.00 607.75,112.00 607.75,106.00 608.25,106.00 608.25,98.67 608.75,98.67 608.75,90.00 609.25,90.00 609.25,81.33 609.75,81.33 609.75,72.67 610.25,72.67 610.25,63.33 610.75,63.33 610.75,54.67 611.25,54.67 611.25,46.67 611.75,46.67 611.75,38.67 612.25,38.67 612.25,32.00 612.75,32.00 612.75,26.67 613.25,26.67 613.25,22.00 613.75,22.00 613.75,19.33 614.25,19.33 614.25,18.00 614.75,18.00 614.75,18.00 615.25,18.00 615.25,19.33 615.75,19.33 615.75,22.67 616.25,22.67 616.25,27.33 616.75,27.33 616.75,32.67 617.25,32.67 617.25,40.00 617.75,40.00 617.75,47.33 618.25,47.33 618.25,56.00 618.75,56.00 618.75,64.67 619.25,64.67 619.25,74.00 619.75,74.00 619.75,82.67 620.25,82.67 620.25,91.33 620.75,91.33 620.75,99.33 621.25,99.33 621.25,106.67 621.75,106.67 621.75,112.67 622.25,112.67 622.25,118.00 622.75,118.00 622.75,121.33 623.25,121.33 623.25,123.33 623.75,123.33 623.75,124.00 624.25,124.00 624.25,123.33 624.75,123.33 624.75,120.67 625.25,120.67 625.25,116.67 625.75,116.67 625.75,112.00 626.25,112.00 626.25,105.33 626.75,105.33 626.75,98.00 627.25,98.00 627.25,90.00 627.75,90.00 627.75,81.33 628.25,81.33 628.25,72.00 628.75,72.00 628.75,63.33 629.25,63.33 629.25,54.00 629.75,54.00 629.75,46.00 630.25,46.00 630.25,38.00 630.75,38.00 630.75,31.33 631.25,31.33 631.25,26.00 631.75,26.00 631.75,22.00 632.25,22.00 632.25,19.33 632.75,19.33 632.75,18.00 633.25,18.00 633.25,18.00 633.75,18.00 633.75,19.33 634.25,19.33 634.25,22.67 634.75,22.67 634.75,27.33 635.25,27.33 635.25,33.33 635.75,33.33 635.75,40.00 636.25,40.00 636.25,48.00 636.75,48.00 636.75,56.67 637.25,56.67 637.25,65.33 637.75,65.33 637.75,74.67 638.25,74.67 638.25,83.33 638.75,83.33 638.75,92.00 639.25,92.00 639.25,100.00 639.75,100.00 639.75,107.33 640.25,107.33 640.25,113.33 640.75,113.33 640.75,118.00 641.25,118.00 641.25,121.33 641.75,121.33 641.75,124.00 642.25,124.00 642.25,124.00 642.75,124.00 642.75,123.33 643.25,123.33 643.25,120.67 643.75,120.67 643.75,116.67 644.25,116.67 644.25,111.33 644.75,111.33 644.75,104.67 645.25,104.67 645.25,97.33 645.75,97.33 645.75,89.33 646.25,89.33 646.25,80.67 646.75,80.67 646.75,71.33 647.25,71.33 647.25,62.67 647.75,62.67 647.75,54.00 648.25,54.00 648.25,45.33 648.75,45.33 648.75,38.00 649.25,38.00 649.25,31.33 649.75,31.33 649.75,26.00 650.25,26.00 650.25,21.33 650.75,21.33 650.75,18.67 651.25,18.67 651.25,17.33 651.75,17.33 651.75,18.00 652.25,18.00 652.25,20.00 652.75,20.00 652.75,23.33 653.25,23.33 653.25,28.00 653.75,28.00 653.75,34.00 654.25,34.00 654.25,40.67 654.75,40.67 654.75,48.67 655.25,48.67 655.25,57.33 655.75,57.33 655.75,66.00 656.25,66.00 656.25,75.33 656.75,75.33 656.75,84.00 657.25,84.00 657.25,92.67 657.75,92.67 657.75,100.67 658.25,100.67 658.25,107.33 658.75,107.33 658.75,113.33 659.25,113.33 659.25,118.67 659.75,118.67 659.75,122.00 660.25,122.00 660.25,124.00 660.75,124.00 660.75,124.00 661.25,124.00 661.25,123.33 661.75,123.33 661.75,120.67 662.25,120.67 662.25,116.67 662.75,116.67 662.75,111.33 663.25,111.33 663.25,104.67 663.75,104.67 663.75,97.33 664.25,97.33 664.25,88.67 664.75,88.67 664.75,80.00 665.25,80.00 665.25,71.33 665.75,71.33 665.75,62.00 666.25,62.00 666.25,53.33 666.75,53.33 666.75,44.67 667.25,44.67 667.25,37.33 667.75,37.33 667.75,30.67 668.25,30.67 668.25,25.33 668.75,25.33 668.75,21.33 669.25,21.33 669.25,18.67 669.75,18.67 669.75,17.33 670.25,17.33 670.25,18.00 670.75,18.00 670.75,20.00 671.25,20.00 671.25,23.33 671.75,23.33 671.75,28.00 672.25,28.00 672.25,34.00 672.75,34.00 672.75,41.33 673.25,41.33 673.25,49.33 673.75,49.33 673.75,57.33 674.25,57.33 674.25,66.67 674.75,66.67 674.75,75.33 675.25,75.33 675.25,84.67 675.75,84.67 675.75,93.33 676.25,93.33 676.25,100.67 676.75,100.67 676.75,108.00 677.25,108.00 677.25,114.00 677.75,114.00 677.75,118.67 678.25,118.67 678.25,122.00 678.75,122.00 678.75,124.00 679.25,124.00 679.25,124.00 679.75,124.00 679.75,124.00 680.25,124.00"/>
<polyline class="ln" stroke="#7E2F8E" points="32.25,38.67 32.75,38.67 32.75,46.67 33.25,46.67 33.25,54.67 33.75,54.67 33.75,63.33 34.25,63.33 34.25,72.67 34.75,72.67 34.75,81.33 35.25,81.33 35.25,90.67 35.75,90.67 35.75,98.67 36.25,98.67 36.25,106.00 36.75,106.00 36.75,112.00 37.25,112.00 37.25,117.33 37.75,117.33 37.75,121.33 38.25,121.33 38.25,123.33 38.75,123.33 38.75,124.00 39.25,124.00 39.25,123.33 39.75,123.33 39.75,121.33 40.25,121.33 40.25,117.33 40.75,117.33 40.75,112.67 41.25,112.67 41.25,106.67 41.75,106.67 41.75,99.33 42.25,99.33 42.25,91.33 42.75,91.33 42.75,82.67 43.25,82.67 43.25,73.33 43.75,73.33 43.75,64.67 44.25,64.67 44.25,55.33 44.75,55.33 44.75,47.33 45.25,47.33 45.25,39.33 45.75,39.33 45.75,32.67 46.25,32.67 46.25,26.67 46.75,26.67 46.75,22.67 47.25,22.67 47.25,19.33 47.75,19.33 47.75,18.00 48.25,18.00 48.25,18.00 48.75,18.00 48.75,19.33 49.25,19.33 49.25,22.00 49.75,22.00 49.75,26.67 50.25,26.67 50.25,32.67 50.75,32.67 50.75,39.33 51.25,39.33 51.25,46.67 51.75,46.67 51.75,55.33 52.25,55.33 52.25,64.00 52.75,64.00 52.75,73.33 53.25,73.33 53.25,82.00 53.75,82.00 53.75,90.67 54.25,90.67 54.25,98.67 54.75,98.67 54.75,106.00 55.25,106.00 55.25,112.67 55.75,112.67 55.75,117.33 56.25,117.33 56.25,121.33 56.75,121.33 56.75,123.33 57.25,123.33 57.25,124.00 57.75,124.00 57.75,123.33 58.25,123.33 58.25,121.33 58.75,121.33 58.75,117.33 59.25,117.33 59.25,112.00 59.75,112.00 59.75,106.00 60.25,106.00 60.25,98.67 60.75,98.67 60.75,90.67 61.25,90.67 61.25,82.00 61.75,82.00 61.75,72.67 62.25,72.67 62.25,64.00 62.75,64.00 62.75,54.67 63.25,54.67 63.25,46.67 63.75,46.67 63.75,38.67 64.25,38.67 64.25,32.00 64.75,32.00 64.75,26.67 65.25,26.67 65.25,22.00 65.75,22.00 65.75,19.33 66.25,19.33 66.25,18.00 66.75,18.00 66.75,18.00 67.25,18.00 67.25,19.33 67.75,19.33 67.75,22.67 68.25,22.67 68.25,26.67 68.75,26.67 68.75,32.67 69.25,32.67 69.25,39.33 69.75,39.33 69.75,47.33 70.25,47.33 70.25,56.00 70.75,56.00 70.75,64.67 71.25,64.67 71.25,74.00 71.75,74.00 71.75,82.67 72.25,82.67 72.25,91.33 72.75,91.33 72.75,99.33 73.25,99.33 73.25,106.67 73.75,106.67 73.75,112.67 74.25,112.67 74.25,118.00 74.75,118.00 74.75,121.33 75.25,121.33 75.25,123.33 75.75,123.33 75.75,124.00 76.25,124.00 76.25,123.33 76.75,123.33 76.75,120.67 77.25,120.67 77.25,117.33 77.75,117.33 77.75,112.00 78.25,112.00 78.25,105.33 78.75,105.33 78.75,98.00 79.25,98.00 79.25,90.00 79.75,90.00 79.75,81.33 80.25,81.33 80.25,72.67 80.75,72.67 80.75,63.33 81.25,63.33 81.25,54.67 81.75,54.67 81.75,46.00 82.25,46.00 82.25,38.67 82.75,38.67 82.75,32.00 83.25,32.00 83.25,26.00 83.75,26.00 83.75,22.00 84.25,22.00 84.25,19.33 84.75,19.33 84.75,18.00 85.25,18.00 85.25,18.00 85.75,18.00 85.75,19.33 86.25,19.33 86.25,22.67 86.75,22.67 86.75,27.33 87.25,27.33 87.25,33.33 87.75,33.33 87.75,40.00 88.25,40.00 88.25,48.00 88.75,48.00 88.75,56.00 89.25,56.00 89.25,65.33 89.75,65.33 89.75,74.00 90.25,74.00 90.25,83.33 90.75,83.33 90.75,92.00 91.25,92.00 91.25,100.00 91.75,100.00 91.75,106.67 92.25,106.67 92.25,113.33 92.75,113.33 92.75,118.00 93.25,118.00 93.25,121.33 93.75,121.33 93.75,123.33 94.25,123.33 94.25,124.00 94.75,124.00 94.75,123.33 95.25,123.33 95.25,120.67 95.75,120.67 95.75,116.67 96.25,116.67 96.25,111.33 96.75,111.33 96.75,105.33 97.25,105.33 97.25,98.00 97.75,98.00 97.75,89.33 98.25,89.33 98.25,80.67 98.75,80.67 98.75,72.00 99.25,72.00 99.25,62.67 99.75,62.67 99.75,54.00 100.25,54.00 100.25,46.00 100.75,46.00 100.75,38.00 101.25,38.00 101.25,31.33 101.75,31.33 101.75,26.00 102.25,26.00 102.25,22.00 102.75,22.00 102.75,18.67 103.25,18.67 103.25,17.33 103.75,17.33 103.75,18.00 104.25,18.00 104.25,20.00 104.75,20.00 104.75,22.67 105.25,22.67 105.25,27.33 105.75,27.33 105.75,33.33 106.25,33.33 106.25,40.67 106.75,40.67 106.75,48.00 107.25,48.00 107.25,56.67 107.75,56.67 107.75,66.00 108.25,66.00 108.25,74.67 108.75,74.67 108.75,84.00 109.25,84.00 109.25,92.00 109.75,92.00 109.75,100.00 110.25,100.00 110.25,107.33 110.75,107.33 110.75,113.33 111.25,113.33 111.25,118.00 111.75,118.00 111.75,122.00 112.25,122.00 112.25,124.00 112.75,124.00 112.75,124.00 113.25,124.00 113.25,123.33 113.75,123.33 113.75,120.67 114.25,120.67 114.25,116.67 114.75,116.67 114.75,111.33 115.25,111.33 115.25,104.67 115.75,104.67 115.75,97.33 116.25,97.33 116.25,89.33 116.75,89.33 116.75,80.00 117.25,80.00 117.25,71.33 117.75,71.33 117.75,62.00 118.25,62.00 118.25,53.33 118.75,53.33 118.75,45.33 119.25,45.33 119.25,38.00 119.75,38.00 119.75,31.33 120.25,31.33 120.25,26.00 120.75,26.00 120.75,21.33 121.25,21.33 121.25,18.67 121.75,18.67 121.75,17.33 122.25,17.33 122.25,18.00 122.75,18.00 122.75,20.00 123.25,20.00 123.25,23.33 123.75,23.33 123.75,28.00 124.25,28.00 124.25,34.00 124.75,34.00 124.75,40.67 125.25,40.67 125.25,48.67 125.75,48.67 125.75,57.33 126.25,57.33 126.25,66.00 126.75,66.00 126.75,75.33 127.25,75.33 127.25,84.00 127.75,84.00 127.75,92.67 128.25,92.67 128.25,100.67 128.75,100.67 128.75,108.00 129.25,108.00 129.25,114.00 129.75,114.00 129.75,118.67 130.25,118.67 130.25,122.00 130.75,122.00 130.75,124.00 131.25,124.00 131.25,124.00 131.75,124.00 131.75,123.33 132.25,123.33 132.25,120.67 132.75,120.67 132.75,116.00 133.25,116.00 133.25,110.67 133.75,110.67 133.75,104.67 134.25,104.67 134.25,96.67 134.75,96.67 134.75,88.67 135.25,88.67 135.25,80.00 135.75,80.00 135.75,70.67 136.25,70.67 136.25,62.00 136.75,62.00 136.75,52.67 137.25,52.67 137.25,44.67 137.75,44.67 137.75,37.33 138.25,37.33 138.25,30.67 138.75,30.67 138.75,25.33 139.25,25.33 139.25,21.33 139.75,21.33 139.75,18.67 140.25,18.67 140.25,17.33 140.75,17.33 140.75,18.00 141.25,18.00 141.25,20.00 141.75,20.00 141.75,23.33 142.25,23.33 142.25,28.00 142.75,28.00 142.75,34.00 143.25,34.00 143.25,41.33 143.75,41.33 143.75,49.33 144.25,49.33 144.25,58.00 144.75,58.00 144.75,66.67 145.25,66.67 145.25,76.00 145.75,76.00 145.75,84.67 146.25,84.67 146.25,93.33 146.75,93.33 146.75,101.33 147.25,101.33 147.25,108.00 147.75,108.00 147.75,114.00 148.25,114.00 148.25,118.67 148.75,118.67 148.75,122.00 149.25,122.00 149.25,124.00 149.75,124.00 149.75,124.00 150.25,124.00 150.25,122.67 150.75,122.67 150.75,120.00 151.25,120.00 151.25,116.00 151.75,116.00 151.75,110.67 152.25,110.67 152.25,104.00 152.75,104.00 152.75,96.67 153.25,96.67 153.25,88.00 153.75,88.00 153.75,79.33 154.25,79.33 154.25,70.00 154.75,70.00 154.75,61.33 155.25,61.33 155.25,52.67 155.75,52.67 155.75,44.00 156.25,44.00 156.25,36.67 156.75,36.67 156.75,30.67 157.25,30.67 157.25,25.33 157.75,25.33 157.75,21.33 158.25,21.33 158.25,18.67 158.75,18.67 158.75,17.33 159.25,17.33 159.25,18.00 159.75,18.00 159.75,20.00 160.25,20.00 160.25,23.33 160.75,23.33 160.75,28.67 161.25,28.67 161.25,34.67 161.75,34.67 161.75,42.00 162.25,42.00 162.25,50.00 162.75,50.00 162.75,58.00 163.25,58.00 163.25,67.33 163.75,67.33 163.75,76.00 164.25,76.00 164.25,85.33 164.75,85.33 164.75,94.00 165.25,94.00 165.25,101.33 165.75,101.33 165.75,108.67 166.25,108.67 166.25,114.67 166.75,114.67 166.75,118.67 167.25,118.67 167.25,122.00 167.75,122.00 167.75,124.00 168.25,124.00 168.25,124.00 168.75,124.00 168.75,122.67 169.25,122.67 169.25,120.00 169.75,120.00 169.75,116.00 170.25,116.00 170.25,110.00 170.75,110.00 170.75,103.33 171.25,103.33 171.25,96.00 171.75,96.00 171.75,87.33 172.25,87.33 172.25,78.67 172.75,78.67 172.75,70.00 173.25,70.00 173.25,60.67 173.75,60.67 173.75,52.00 174.25,52.00 174.25,44.00 174.75,44.00 174.75,36.67 175.25,36.67 175.25,30.00 175.75,30.00 175.75,24.67 176.25,24.67 176.25,20.67 176.75,20.67 176.75,18.67 177.25,18.67 177.25,17.33 177.75,17.33 177.75,18.00 178.25,18.00 178.25,20.00 178.75,20.00 178.75,24.00 179.25,24.00 179.25,28.67 179.75,28.67 179.75,34.67 180.25,34.67 180.25,42.00 180.75,42.00 180.75,50.00 181.25,50.00 181.25,58.67 181.75,58.67 181.75,68.00 182.25,68.00 182.25,76.67 182.75,76.67 182.75,86.00 183.25,86.00 183.25,94.00 183.75,94.00 183.75,102.00 184.25,102.00 184.25,108.67 184.75,108.67 184.75,114.67 185.25,114.67 185.25,119.33 185.75,119.33 185.75,122.00 186.25,122.00 186.25,124.00 186.75,124.00 186.75,124.00 187.25,124.00 187.25,122.67 187.75,122.67 187.75,120.00 188.25,120.00 188.25,115.33 188.75,115.33 188.75,110.00 189.25,110.00 189.25,103.33 189.75,103.33 189.75,95.33 190.25,95.33 190.25,87.33 190.75,87.33 190.75,78.00 191.25,78.00 191.25,69.33 191.75,69.33 191.75,60.00 192.25,60.00 192.25,51.33 192.75,51.33 192.75,43.33 193.25,43.33 193.25,36.00 193.75,36.00 193.75,30.00 194.25,30.00 194.25,24.67 194.75,24.67 194.75,20.67 195.25,20.67 195.25,18.67 195.75,18.67 195.75,17.33 196.25,17.33 196.25,18.00 196.75,18.00 196.75,20.67 197.25,20.67 197.25,24.00 197.75,24.00 197.75,29.33 198.25,29.33 198.25,35.33 198.75,35.33 198.75,42.67 199.25,42.67 199.25,50.67 199.75,50.67 199.75,59.33 200.25,59.33 200.25,68.00 200.75,68.00 200.75,77.33 201.25,77.33 201.25,86.00 201.75,86.00 201.75,94.67 202.25,94.67 202.25,102.67 202.75,102.67 202.75,109.33 203.25,109.33 203.25,114.67 203.75,114.67 203.75,119.33 204.25,119.33 204.25,122.67 204.75,122.67 204.75,124.00 205.25,124.00 205.25,124.00 205.75,124.00 205.75,122.67 206.25,122.67 206.25,119.33 206.75,119.33 206.75,115.33 207.25,115.33 207.25,109.33 207.75,109.33 207.75,102.67 208.25,102.67 208.25,94.67 208.75,94.67 208.75,86.67 209.25,86.67 209.25,78.00 209.75,78.00 209.75,68.67 210.25,68.67 210.25,60.00 210.75,60.00 210.75,51.33 211.25,51.33 211.25,42.67 211.75,42.67 211.75,36.00 212.25,36.00 212.25,29.33 212.75,29.33 212.75,24.00 213.25,24.00 213.25,20.67 213.75,20.67 213.75,18.67 214.25,18.67 214.25,17.33 214.75,17.33 214.75,18.67 215.25,18.67 215.25,20.67 215.75,20.67 215.75,24.67 216.25,24.67 216.25,29.33 216.75,29.33 216.75,36.00 217.25,36.00 217.25,43.33 217.75,43.33 217.75,51.33 218.25,51.33 218.25,60.00 218.75,60.00 218.75,68.67 219.25,68.67 219.25,78.00 219.75,78.00 219.75,86.67 220.25,86.67 220.25,95.33 220.75,95.33 220.75,102.67 221.25,102.67 221.25,109.33 221.75,109.33 221.75,115.33 222.25,115.33 222.25,119.33 222.75,119.33 222.75,122.67 223.25,122.67 223.25,124.00 223.75,124.00 223.75,124.00 224.25,124.00 224.25,122.67 224.75,122.67 224.75,119.33 225.25,119.33 225.25,114.67 225.75,114.67 225.75,109.33 226.25,109.33 226.25,102.00 226.75,102.00 226.75,94.67 227.25,94.67 227.25,86.00 227.75,86.00 227.75,77.33 228.25,77.33 228.25,68.00 228.75,68.00 228.75,59.33 229.25,59.33 229.25,50.67 229.75,50.67 229.75,42.67 230.25,42.67 230.25,35.33 230.75,35.33 230.75,29.33 231.25,29.33 231.25,24.00 231.75,24.00 231.75,20.67 232.25,20.67 232.25,18.00 232.75,18.00 232.75,17.33 233.25,17.33 233.25,18.67 233.75,18.67 233.75,20.67 234.25,20.67 234.25,24.67 234.75,24.67 234.75,30.00 235.25,30.00 235.25,36.00 235.75,36.00 235.75,43.33 236.25,43.33 236.25,52.00 236.75,52.00 236.75,60.67 237.25,60.67 237.25,69.33 237.75,69.33 237.75,78.67 238.25,78.67 238.25,87.33 238.75,87.33 238.75,95.33 239.25,95.33 239.25,103.33 239.75,103.33 239.75,110.00 240.25,110.00 240.25,115.33 240.75,115.33 240.75,120.00 241.25,120.00 241.25,122.67 241.75,122.67 241.75,124.00 242.25,124.00 242.25,124.00 242.75,124.00 242.75,122.00 243.25,122.00 243.25,119.33 243.75,119.33 243.75,114.67 244.25,114.67 244.25,108.67 244.75,108.67 244.75,102.00 245.25,102.00 245.25,94.00 245.75,94.00 245.75,85.33 246.25,85.33 246.25,76.67 246.75,76.67 246.75,67.33 247.25,67.33 247.25,58.67 247.75,58.67 247.75,50.00 248.25,50.00 248.25,42.00 248.75,42.00 248.75,34.67 249.25,34.67 249.25,28.67 249.75,28.67 249.75,24.00 250.25,24.00 250.25,20.00 250.75,20.00 250.75,18.00 251.25,18.00 251.25,17.33 251.75,17.33 251.75,18.67 252.25,18.67 252.25,21.33 252.75,21.33 252.75,24.67 253.25,24.67 253.25,30.00 253.75,30.00 253.75,36.67 254.25,36.67 254.25,44.00 254.75,44.00 254.75,52.00 255.25,52.00 255.25,60.67 255.75,60.67 255.75,70.00 256.25,70.00 256.25,78.67 256.75,78.67 256.75,88.00 257.25,88.00 257.25,96.00 257.75,96.00 257.75,103.33 258.25,103.33 258.25,110.00 258.75,110.00 258.75,116.00 259.25,116.00 259.25,120.00 259.75,120.00 259.75,122.67 260.25,122.67 260.25,124.00 260.75,124.00 260.75,124.00 261.25,124.00 261.25,122.00 261.75,122.00 261.75,118.67 262.25,118.67 262.25,114.00 262.75,114.00 262.75,108.67 263.25,108.67 263.25,101.33 263.75,101.33 263.75,93.33 264.25,93.33 264.25,85.33 264.75,85.33 264.75,76.00 265.25,76.00 265.25,67.33 265.75,67.33 265.75,58.00 266.25,58.00 266.25,49.33 266.75,49.33 266.75,41.33 267.25,41.33 267.25,34.67 267.75,34.67 267.75,28.67 268.25,28.67 268.25,23.33 268.75,23.33 268.75,20.00 269.25,20.00 269.25,18.00 269.75,18.00 269.75,17.33 270.25,17.33 270.25,18.67 270.75,18.67 270.75,21.33 271.25,21.33 271.25,25.33 271.75,25.33 271.75,30.67 272.25,30.67 272.25,36.67 272.75,36.67 272.75,44.67 273.25,44.67 273.25,52.67 273.75,52.67 273.75,61.33 274.25,61.33 274.25,70.67 274.75,70.67 274.75,79.33 275.25,79.33 275.25,88.00 275.75,88.00 275.75,96.67 276.25,96.67 276.25,104.00 276.75,104.00 276.75,110.67 277.25,110.67 277.25,116.00 277.75,116.00 277.75,120.00 278.25,120.00 278.25,122.67 278.75,122.67 278.75,124.00 279.25,124.00 279.25,124.00 279.75,124.00 279.75,122.00 280.25,122.00 280.25,118.67 280.75,118.67 280.75,114.00 281.25,114.00 281.25,108.00 281.75,108.00 281.75,100.67 282.25,100.67 282.25,93.33 282.75,93.33 282.75,84.67 283.25,84.67 283.25,75.33 283.75,75.33 283.75,66.67 284.25,66.67 284.25,58.00 284.75,58.00 284.75,49.33 285.25,49.33 285.25,41.33 285.75,41.33 285.75,34.00 286.25,34.00 286.25,28.00 286.75,28.00 286.75,23.33 287.25,23.33 287.25,20.00 287.75,20.00 287.75,18.00 288.25,18.00 288.25,17.33 288.75,17.33 288.75,18.67 289.25,18.67 289.25,21.33 289.75,21.33 289.75,25.33 290.25,25.33 290.25,30.67 290.75,30.67 290.75,37.33 291.25,37.33 291.25,44.67 291.75,44.67 291.75,53.33 292.25,53.33 292.25,62.00 292.75,62.00 292.75,70.67 293.25,70.67 293.25,80.00 293.75,80.00 293.75,88.67 294.25,88.67 294.25,96.67 294.75,96.67 294.75,104.67 295.25,104.67 295.25,110.67 295.75,110.67 295.75,116.67 296.25,116.67 296.25,120.67 296.75,120.67 296.75,123.33 297.25,123.33 297.25,124.00 297.75,124.00 297.75,124.00 298.25,124.00 298.25,122.00 298.75,122.00 298.75,118.67 299.25,118.67 299.25,113.33 299.75,113.33 299.75,107.33 300.25,107.33 300.25,100.67 300.75,100.67 300.75,92.67 301.25,92.67 301.25,84.00 301.75,84.00 301.75,75.33 302.25,75.33 302.25,66.00 302.75,66.00 302.75,57.33 303.25,57.33 303.25,48.67 303.75,48.67 303.75,40.67 304.25,40.67 304.25,34.00 304.75,34.00 304.75,28.00 305.25,28.00 305.25,23.33 305.75,23.33 305.75,20.00 306.25,20.00 306.25,18.00 306.75,18.00 306.75,17.33 307.25,17.33 307.25,18.67 307.75,18.67 307.75,21.33 308.25,21.33 308.25,26.00 308.75,26.00 308.75,31.33 309.25,31.33 309.25,38.00 309.75,38.00 309.75,45.33 310.25,45.33 310.25,53.33 310.75,53.33 310.75,62.67 311.25,62.67 311.25,71.33 311.75,71.33 311.75,80.67 312.25,80.67 312.25,89.33 312.75,89.33 312.75,97.33 313.25,97.33 313.25,104.67 313.75,104.67 313.75,111.33 314.25,111.33 314.25,116.67 314.75,116.67 314.75,120.67 315.25,120.67 315.25,123.33 315.75,123.33 315.75,124.00 316.25,124.00 316.25,124.00 316.75,124.00 316.75,122.00 317.25,122.00 317.25,118.00 317.75,118.00 317.75,113.33 318.25,113.33 318.25,107.33 318.75,107.33 318.75,100.00 319.25,100.00 319.25,92.00 319.75,92.00 319.75,83.33 320.25,83.33 320.25,74.67 320.75,74.67 320.75,65.33 321.25,65.33 321.25,56.67 321.75,56.67 321.75,48.00 322.25,48.00 322.25,40.67 322.75,40.67 322.75,33.33 323.25,33.33 323.25,27.33 323.75,27.33 323.75,22.67 324.25,22.67 324.25,19.33 324.75,19.33 324.75,18.00 325.25,18.00 325.25,18.00 325.75,18.00 325.75,18.67 326.25,18.67 326.25,22.00 326.75,22.00 326.75,26.00 327.25,26.00 327.25,31.33 327.75,31.33 327.75,38.00 328.25,38.00 328.25,46.00 328.75,46.00 328.75,54.00 329.25,54.00 329.25,62.67 329.75,62.67 329.75,72.00 330.25,72.00 330.25,80.67 330.75,80.67 330.75,90.00 331.25,90.00 331.25,98.00 331.75,98.00 331.75,105.33 332.25,105.33 332.25,112.00 332.75,112.00 332.75,116.67 333.25,116.67 333.25,120.67 333.75,120.67 333.75,123.33 334.25,123.33 334.25,124.00 334.75,124.00 334.75,123.33 335.25,123.33 335.25,121.33 335.75,121.33 335.75,118.00 336.25,118.00 336.25,113.33 336.75,113.33 336.75,106.67 337.25,106.67 337.25,100.00 337.75,100.00 337.75,92.00 338.25,92.00 338.25,83.33 338.75,83.33 338.75,74.00 339.25,74.00 339.25,65.33 339.75,65.33 339.75,56.00 340.25,56.00 340.25,48.00 340.75,48.00 340.75,40.00 341.25,40.00 341.25,33.33 341.75,33.33 341.75,27.33 342.25,27.33 342.25,22.67 342.75,22.67 342.75,19.33 343.25,19.33 343.25,18.00 343.75,18.00 343.75,18.00 344.25,18.00 344.25,19.33 344.75,19.33 344.75,22.00 345.25,22.00 345.25,26.00 345.75,26.00 345.75,32.00 346.25,32.00 346.25,38.67 346.75,38.67 346.75,46.00 347.25,46.00 347.25,54.67 347.75,54.67 347.75,63.33 348.25,63.33 348.25,72.67 348.75,72.67 348.75,81.33 349.25,81.33 349.25,90.00 349.75,90.00 349.75,98.00 350.25,98.00 350.25,105.33 350.75,105.33 350.75,112.00 351.25,112.00 351.25,117.33 351.75,117.33 351.75,120.67 352.25,120.67 352.25,123.33 352.75,123.33 352.75,124.00 353.25,124.00 353.25,123.33 353.75,123.33 353.75,121.33 354.25,121.33 354.25,118.00 354.75,118.00 354.75,112.67 355.25,112.67 355.25,106.67 355.75,106.67 355.75,99.33 356.25,99.33 356.25,91.33 356.75,91.33 356.75,82.67 357.25,82.67 357.25,73.33 357.75,73.33 357.75,64.67 358.25,64.67 358.25,55.33 358.75,55.33 358.75,47.33 359.25,47.33 359.25,39.33 359.75,39.33 359.75,32.67 360.25,32.67 360.25,26.67 360.75,26.67 360.75,22.67 361.25,22.67 361.25,19.33 361.75,19.33 361.75,18.00 362.25,18.00 362.25,18.00 362.75,18.00 362.75,19.33 363.25,19.33 363.25,22.00 363.75,22.00 363.75,26.67 364.25,26.67 364.25,32.00 364.75,32.00 364.75,39.33 365.25,39.33 365.25,46.67 365.75,46.67 365.75,55.33 366.25,55.33 366.25,64.00 366.75,64.00 366.75,73.33 367.25,73.33 367.25,82.00 367.75,82.00 367.75,90.67 368.25,90.67 368.25,98.67 368.75,98.67 368.75,106.00 369.25,106.00 369.25,112.67 369.75,112.67 369.75,117.33 370.25,117.33 370.25,121.33 370.75,121.33 370.75,123.33 371.25,123.33 371.25,124.00 371.75,124.00 371.75,123.33 372.25,123.33 372.25,121.33 372.75,121.33 372.75,117.33 373.25,117.33 373.25,112.67 373.75,112.67 373.75,106.00 374.25,106.00 374.25,98.67 374.75,98.67 374.75,90.67 375.25,90.67 375.25,82.00 375.75,82.00 375.75,73.33 376.25,73.33 376.25,64.00 376.75,64.00 376.75,55.33 377.25,55.33 377.25,46.67 377.75,46.67 377.75,39.33 378.25,39.33 378.25,32.00 378.75,32.00 378.75,26.67 379.25,26.67 379.25,22.00 379.75,22.00 379.75,19.33 380.25,19.33 380.25,18.00 380.75,18.00 380.75,18.00 381.25,18.00 381.25,19.33 381.75,19.33 381.75,22.67 382.25,22.67 382.25,26.67 382.75,26.67 382.75,32.67 383.25,32.67 383.25,39.33 383.75,39.33 383.75,47.33 384.25,47.33 384.25,55.33 384.75,55.33 384.75,64.67 385.25,64.67 385.25,73.33 385.75,73.33 385.75,82.67 386.25,82.67 386.25,91.33 386.75,91.33 386.75,99.33 387.25,99.33 387.25,106.67 387.75,106.67 387.75,112.67 388.25,112.67 388.25,118.00 388.75,118.00 388.75,121.33 389.25,121.33 389.25,123.33 389.75,123.33 389.75,124.00 390.25,124.00 390.25,123.33 390.75,123.33 390.75,121.33 391.25,121.33 391.25,117.33 391.75,117.33 391.75,112.00 392.25,112.00 392.25,106.00 392.75,106.00 392.75,98.67 393.25,98.67 393.25,90.00 393.75,90.00 393.75,81.33 394.25,81.33 394.25,72.67 394.75,72.67 394.75,63.33 395.25,63.33 395.25,54.67 395.75,54.67 395.75,46.00 396.25,46.00 396.25,38.67 396.75,38.67 396.75,32.00 397.25,32.00 397.25,26.00 397.75,26.00 397.75,22.00 398.25,22.00 398.25,19.33 398.75,19.33 398.75,18.00 399.25,18.00 399.25,18.00 399.75,18.00 399.75,19.33 400.25,19.33 400.25,22.67 400.75,22.67 400.75,27.33 401.25,27.33 401.25,32.67 401.75,32.67 401.75,40.00 402.25,40.00 402.25,48.00 402.75,48.00 402.75,56.00 403.25,56.00 403.25,65.33 403.75,65.33 403.75,74.00 404.25,74.00 404.25,83.33 404.75,83.33 404.75,91.33 405.25,91.33 405.25,99.33 405.75,99.33 405.75,106.67 406.25,106.67 406.25,113.33 406.75,113.33 406.75,118.00 407.25,118.00 407.25,121.33 407.75,121.33 407.75,123.33 408.25,123.33 408.25,124.00 408.75,124.00 408.75,123.33 409.25,123.33 409.25,120.67 409.75,120.67 409.75,116.67 410.25,116.67 410.25,112.00 410.75,112.00 410.75,105.33 411.25,105.33 411.25,98.00 411.75,98.00 411.75,90.00 412.25,90.00 412.25,81.33 412.75,81.33 412.75,72.00 413.25,72.00 413.25,62.67 413.75,62.67 413.75,54.00 414.25,54.00 414.25,46.00 414.75,46.00 414.75,38.00 415.25,38.00 415.25,31.33 415.75,31.33 415.75,26.00 416.25,26.00 416.25,22.00 416.75,22.00 416.75,19.33 417.25,19.33 417.25,18.00 417.75,18.00 417.75,18.00 418.25,18.00 418.25,19.33 418.75,19.33 418.75,22.67 419.25,22.67 419.25,27.33 419.75,27.33 419.75,33.33 420.25,33.33 420.25,40.00 420.75,40.00 420.75,48.00 421.25,48.00 421.25,56.67 421.75,56.67 421.75,65.33 422.25,65.33 422.25,74.67 422.75,74.67 422.75,83.33 423.25,83.33 423.25,92.00 423.75,92.00 423.75,100.00 424.25,100.00 424.25,107.33 424.75,107.33 424.75,113.33 425.25,113.33 425.25,118.00 425.75,118.00 425.75,121.33 426.25,121.33 426.25,124.00 426.75,124.00 426.75,124.00 427.25,124.00 427.25,123.33 427.75,123.33 427.75,120.67 428.25,120.67 428.25,116.67 428.75,116.67 428.75,111.33 429.25,111.33 429.25,104.67 429.75,104.67 429.75,97.33 430.25,97.33 430.25,89.33 430.75,89.33 430.75,80.67 431.25,80.67 431.25,71.33 431.75,71.33 431.75,62.67 432.25,62.67 432.25,53.33 432.75,53.33 432.75,45.33 433.25,45.33 433.25,38.00 433.75,38.00 433.75,31.33 434.25,31.33 434.25,26.00 434.75,26.00 434.75,21.33 435.25,21.33 435.25,18.67 435.75,18.67 435.75,17.33 436.25,17.33 436.25,18.00 436.75,18.00 436.75,20.00 437.25,20.00 437.25,23.33 437.75,23.33 437.75,28.00 438.25,28.00 438.25,34.00 438.75,34.00 438.75,40.67 439.25,40.67 439.25,48.67 439.75,48.67 439.75,57.33 440.25,57.33 440.25,66.00 440.75,66.00 440.75,75.33 441.25,75.33 441.25,84.00 441.75,84.00 441.75,92.67 442.25,92.67 442.25,100.67 442.75,100.67 442.75,107.33 443.25,107.33 443.25,113.33 443.75,113.33 443.75,118.67 444.25,118.67 444.25,122.00 444.75,122.00 444.75,124.00 445.25,124.00 445.25,124.00 445.75,124.00 445.75,123.33 446.25,123.33 446.25,120.67 446.75,120.67 446.75,116.67 447.25,116.67 447.25,111.33 447.75,111.33 447.75,104.67 448.25,104.67 448.25,96.67 448.75,96.67 448.75,88.67 449.25,88.67 449.25,80.00 449.75,80.00 449.75,70.67 450.25,70.67 450.25,62.00 450.75,62.00 450.75,53.33 451.25,53.33 451.25,44.67 451.75,44.67 451.75,37.33 452.25,37.33 452.25,30.67 452.75,30.67 452.75,25.33 453.25,25.33 453.25,21.33 453.75,21.33 453.75,18.67 454.25,18.67 454.25,17.33 454.75,17.33 454.75,18.00 455.25,18.00 455.25,20.00 455.75,20.00 455.75,23.33 456.25,23.33 456.25,28.00 456.75,28.00 456.75,34.00 457.25,34.00 457.25,41.33 457.75,41.33 457.75,49.33 458.25,49.33 458.25,57.33 458.75,57.33 458.75,66.67 459.25,66.67 459.25,75.33 459.75,75.33 459.75,84.67 460.25,84.67 460.25,93.33 460.75,93.33 460.75,100.67 461.25,100.67 461.25,108.00 461.75,108.00 461.75,114.00 462.25,114.00 462.25,118.67 462.75,118.67 462.75,122.00 463.25,122.00 463.25,124.00 463.75,124.00 463.75,124.00 464.25,124.00 464.25,122.67 464.75,122.67 464.75,120.00 465.25,120.00 465.25,116.00 465.75,116.00 465.75,110.67 466.25,110.67 466.25,104.00 466.75,104.00 466.75,96.67 467.25,96.67 467.25,88.00 467.75,88.00 467.75,79.33 468.25,79.33 468.25,70.67 468.75,70.67 468.75,61.33 469.25,61.33 469.25,52.67 469.75,52.67 469.75,44.67 470.25,44.67 470.25,36.67 470.75,36.67 470.75,30.67 471.25,30.67 471.25,25.33 471.75,25.33 471.75,21.33 472.25,21.33 472.25,18.67 472.75,18.67 472.75,17.33 473.25,17.33 473.25,18.00 473.75,18.00 473.75,20.00 474.25,20.00 474.25,23.33 474.75,23.33 474.75,28.67 475.25,28.67 475.25,34.67 475.75,34.67 475.75,41.33 476.25,41.33 476.25,49.33 476.75,49.33 476.75,58.00 477.25,58.00 477.25,67.33 477.75,67.33 477.75,76.00 478.25,76.00 478.25,85.33 478.75,85.33 478.75,93.33 479.25,93.33 479.25,101.33 479.75,101.33 479.75,108.67 480.25,108.67 480.25,114.00 480.75,114.00 480.75,118.67 481.25,118.67 481.25,122.00 481.75,122.00 481.75,124.00 482.25,124.00 482.25,124.00 482.75,124.00 482.75,122.67 483.25,122.67 483.25,120.00 483.75,120.00 483.75,116.00 484.25,116.00 484.25,110.00 484.75,110.00 484.75,103.33 485.25,103.33 485.25,96.00 485.75,96.00 485.75,88.00 486.25,88.00 486.25,78.67 486.75,78.67 486.75,70.00 487.25,70.00 487.25,60.67 487.75,60.67 487.75,52.00 488.25,52.00 488.25,44.00 488.75,44.00 488.75,36.67 489.25,36.67 489.25,30.00 489.75,30.00 489.75,24.67 490.25,24.67 490.25,21.33 490.75,21.33 490.75,18.67 491.25,18.67 491.25,17.33 491.75,17.33 491.75,18.00 492.25,18.00 492.25,20.00 492.75,20.00 492.75,24.00 493.25,24.00 493.25,28.67 493.75,28.67 493.75,34.67 494.25,34.67 494.25,42.00 494.75,42.00 494.75,50.00 495.25,50.00 495.25,58.67 495.75,58.67 495.75,67.33 496.25,67.33 496.25,76.67 496.75,76.67 496.75,85.33 497.25,85.33 497.25,94.00 497.75,94.00 497.75,102.00 498.25,102.00 498.25,108.67 498.75,108.67 498.75,114.67 499.25,114.67 499.25,119.33 499.75,119.33 499.75,122.00 500.25,122.00 500.25,124.00 500.75,124.00 500.75,124.00 501.25,124.00 501.25,122.67 501.75,122.67 501.75,120.00 502.25,120.00 502.25,115.33 502.75,115.33 502.75,110.00 503.25,110.00 503.25,103.33 503.75,103.33 503.75,95.33 504.25,95.33 504.25,87.33 504.75,87.33 504.75,78.67 505.25,78.67 505.25,69.33 505.75,69.33 505.75,60.67 506.25,60.67 506.25,52.00 506.75,52.00 506.75,43.33 507.25,43.33 507.25,36.00 507.75,36.00 507.75,30.00 508.25,30.00 508.25,24.67 508.75,24.67 508.75,20.67 509.25,20.67 509.25,18.67 509.75,18.67 509.75,17.33 510.25,17.33 510.25,18.00 510.75,18.00 510.75,20.67 511.25,20.67 511.25,24.00 511.75,24.00 511.75,29.33 512.25,29.33 512.25,35.33 512.75,35.33 512.75,42.67 513.25,42.67 513.25,50.67 513.75,50.67 513.75,59.33 514.25,59.33 514.25,68.00 514.75,68.00 514.75,77.33 515.25,77.33 515.25,86.00 515.75,86.00 515.75,94.67 516.25,94.67 516.25,102.00 516.75,102.00 516.75,109.33 517.25,109.33 517.25,114.67 517.75,114.67 517.75,119.33 518.25,119.33 518.25,122.67 518.75,122.67 518.75,124.00 519.25,124.00 519.25,124.00 519.75,124.00 519.75,122.67 520.25,122.67 520.25,119.33 520.75,119.33 520.75,115.33 521.25,115.33 521.25,109.33 521.75,109.33 521.75,102.67 522.25,102.67 522.25,95.33 522.75,95.33 522.75,86.67 523.25,86.67 523.25,78.00 523.75,78.00 523.75,68.67 524.25,68.67 524.25,60.00 524.75,60.00 524.75,51.33 525.25,51.33 525.25,43.33 525.75,43.33 525.75,36.00 526.25,36.00 526.25,29.33 526.75,29.33 526.75,24.67 527.25,24.67 527.25,20.67 527.75,20.67 527.75,18.67 528.25,18.67 528.25,17.33 528.75,17.33 528.75,18.00 529.25,18.00 529.25,20.67 529.75,20.67 529.75,24.00 530.25,24.00 530.25,29.33 530.75,29.33 530.75,35.33 531.25,35.33 531.25,42.67 531.75,42.67 531.75,51.33 532.25,51.33 532.25,60.00 532.75,60.00 532.75,68.67 533.25,68.67 533.25,78.00 533.75,78.00 533.75,86.67 534.25,86.67 534.25,94.67 534.75,94.67 534.75,102.67 535.25,102.67 535.25,109.33 535.75,109.33 535.75,115.33 536.25,115.33 536.25,119.33 536.75,119.33 536.75,122.67 537.25,122.67 537.25,124.00 537.75,124.00 537.75,124.00 538.25,124.00 538.25,122.67 538.75,122.67 538.75,119.33 539.25,119.33 539.25,114.67 539.75,114.67 539.75,109.33 540.25,109.33 540.25,102.67 540.75,102.67 540.75,94.67 541.25,94.67 541.25,86.00 541.75,86.00 541.75,77.33 542.25,77.33 542.25,68.67 542.75,68.67 542.75,59.33 543.25,59.33 543.25,50.67 543.75,50.67 543.75,42.67 544.25,42.67 544.25,35.33 544.75,35.33 544.75,29.33 545.25,29.33 545.25,24.00 545.75,24.00 545.75,20.67 546.25,20.67 546.25,18.00 546.75,18.00 546.75,17.33 547.25,17.33 547.25,18.67 547.75,18.67 547.75,20.67 548.25,20.67 548.25,24.67 548.75,24.67 548.75,30.00 549.25,30.00 549.25,36.00 549.75,36.00 549.75,43.33 550.25,43.33 550.25,51.33 550.75,51.33 550.75,60.00 551.25,60.00 551.25,69.33 551.75,69.33 551.75,78.00 552.25,78.00 552.25,87.33 552.75,87.33 552.75,95.33 553.25,95.33 553.25,103.33 553.75,103.33 553.75,110.00 554.25,110.00 554.25,115.33 554.75,115.33 554.75,120.00 555.25,120.00 555.25,122.67 555.75,122.67 555.75,124.00 556.25,124.00 556.25,124.00 556.75,124.00 556.75,122.67 557.25,122.67 557.25,119.33 557.75,119.33 557.75,114.67 558.25,114.67 558.25,108.67 558.75,108.67 558.75,102.00 559.25,102.00 559.25,94.00 559.75,94.00 559.75,86.00 560.25,86.00 560.25,76.67 560.75,76.67 560.75,68.00 561.25,68.00 561.25,58.67 561.75,58.67 561.75,50.00 562.25,50.00 562.25,42.00 562.75,42.00 562.75,35.33 563.25,35.33 563.25,28.67 563.75,28.67 563.75,24.00 564.25,24.00 564.25,20.67 564.75,20.67 564.75,18.00 565.25,18.00 565.25,17.33 565.75,17.33 565.75,18.67 566.25,18.67 566.25,20.67 566.75,20.67 566.75,24.67 567.25,24.67 567.25,30.00 567.75,30.00 567.75,36.67 568.25,36.67 568.25,44.00 568.75,44.00 568.75,52.00 569.25,52.00 569.25,60.67 569.75,60.67 569.75,70.00 570.25,70.00 570.25,78.67 570.75,78.67 570.75,87.33 571.25,87.33 571.25,96.00 571.75,96.00 571.75,103.33 572.25,103.33 572.25,110.00 572.75,110.00 572.75,116.00 573.25,116.00 573.25,120.00 573.75,120.00 573.75,122.67 574.25,122.67 574.25,124.00 574.75,124.00 574.75,124.00 575.25,124.00 575.25,122.00 575.75,122.00 575.75,118.67 576.25,118.67 576.25,114.67 576.75,114.67 576.75,108.67 577.25,108.67 577.25,101.33 577.75,101.33 577.75,94.00 578.25,94.00 578.25,85.33 578.75,85.33 578.75,76.67 579.25,76.67 579.25,67.33 579.75,67.33 579.75,58.67 580.25,58.67 580.25,50.00 580.75,50.00 580.75,42.00 581.25,42.00 581.25,34.67 581.75,34.67 581.75,28.67 582.25,28.67 582.25,24.00 582.75,24.00 582.75,20.00 583.25,20.00 583.25,18.00 583.75,18.00 583.75,17.33 584.25,17.33 584.25,18.67 584.75,18.67 584.75,21.33 585.25,21.33 585.25,25.33 585.75,25.33 585.75,30.67 586.25,30.67 586.25,36.67 586.75,36.67 586.75,44.00 587.25,44.00 587.25,52.67 587.75,52.67 587.75,61.33 588.25,61.33 588.25,70.00 588.75,70.00 588.75,79.33 589.25,79.33 589.25,88.00 589.75,88.00 589.75,96.67 590.25,96.67 590.25,104.00 590.75,104.00 590.75,110.67 591.25,110.67 591.25,116.00 591.75,116.00 591.75,120.00 592.25,120.00 592.25,122.67 592.75,122.67 592.75,124.00 593.25,124.00 593.25,124.00 593.75,124.00 593.75,122.00 594.25,122.00 594.25,118.67 594.75,118.67 594.75,114.00 595.25,114.00 595.25,108.00 595.75,108.00 595.75,101.33 596.25,101.33 596.25,93.33 596.75,93.33 596.75,84.67 597.25,84.67 597.25,76.00 597.75,76.00 597.75,66.67 598.25,66.67 598.25,58.00 598.75,58.00 598.75,49.33 599.25,49.33 599.25,41.33 599.75,41.33 599.75,34.00 600.25,34.00 600.25,28.00 600.75,28.00 600.75,23.33 601.25,23.33 601.25,20.00 601.75,20.00 601.75,18.00 602.25,18.00 602.25,17.33 602.75,17.33 602.75,18.67 603.25,18.67 603.25,21.33 603.75,21.33 603.75,25.33 604.25,25.33 604.25,30.67 604.75,30.67 604.75,37.33 605.25,37.33 605.25,44.67 605.75,44.67 605.75,52.67 606.25,52.67 606.25,62.00 606.75,62.00 606.75,70.67 607.25,70.67 607.25,80.00 607.75,80.00 607.75,88.67 608.25,88.67 608.25,96.67 608.75,96.67 608.75,104.67 609.25,104.67 609.25,110.67 609.75,110.67 609.75,116.00 610.25,116.00 610.25,120.67 610.75,120.67 610.75,123.33 611.25,123.33 611.25,124.00 611.75,124.00 611.75,124.00 612.25,124.00 612.25,122.00 612.75,122.00 612.75,118.67 613.25,118.67 613.25,114.00 613.75,114.00 613.75,108.00 614.25,108.00 614.25,100.67 614.75,100.67 614.75,92.67 615.25,92.67 615.25,84.00 615.75,84.00 615.75,75.33 616.25,75.33 616.25,66.00 616.75,66.00 616.75,57.33 617.25,57.33 617.25,48.67 617.75,48.67 617.75,40.67 618.25,40.67 618.25,34.00 618.75,34.00 618.75,28.00 619.25,28.00 619.25,23.33 619.75,23.33 619.75,20.00 620.25,20.00 620.25,18.00 620.75,18.00 620.75,17.33 621.25,17.33 621.25,18.67 621.75,18.67 621.75,21.33 622.25,21.33 622.25,25.33 622.75,25.33 622.75,31.33 623.25,31.33 623.25,37.33 623.75,37.33 623.75,45.33 624.25,45.33 624.25,53.33 624.75,53.33 624.75,62.00 625.25,62.00 625.25,71.33 625.75,71.33 625.75,80.00 626.25,80.00 626.25,89.33 626.75,89.33 626.75,97.33 627.25,97.33 627.25,104.67 627.75,104.67 627.75,111.33 628.25,111.33 628.25,116.67 628.75,116.67 628.75,120.67 629.25,120.67 629.25,123.33 629.75,123.33 629.75,124.00 630.25,124.00 630.25,124.00 630.75,124.00 630.75,122.00 631.25,122.00 631.25,118.00 631.75,118.00 631.75,113.33 632.25,113.33 632.25,107.33 632.75,107.33 632.75,100.00 633.25,100.00 633.25,92.00 633.75,92.00 633.75,84.00 634.25,84.00 634.25,74.67 634.75,74.67 634.75,66.00 635.25,66.00 635.25,56.67 635.75,56.67 635.75,48.00 636.25,48.00 636.25,40.67 636.75,40.67 636.75,33.33 637.25,33.33 637.25,27.33 637.75,27.33 637.75,22.67 638.25,22.67 638.25,20.00 638.75,20.00 638.75,18.00 639.25,18.00 639.25,17.33 639.75,17.33 639.75,18.67 640.25,18.67 640.25,22.00 640.75,22.00 640.75,26.00 641.25,26.00 641.25,31.33 641.75,31.33 641.75,38.00 642.25,38.00 642.25,45.33 642.75,45.33 642.75,54.00 643.25,54.00 643.25,62.67 643.75,62.67 643.75,72.00 644.25,72.00 644.25,80.67 644.75,80.67 644.75,89.33 645.25,89.33 645.25,98.00 645.75,98.00 645.75,105.33 646.25,105.33 646.25,111.33 646.75,111.33 646.75,116.67 647.25,116.67 647.25,120.67 647.75,120.67 647.75,123.33 648.25,123.33 648.25,124.00 648.75,124.00 648.75,123.33 649.25,123.33 649.25,121.33 649.75,121.33 649.75,118.00 650.25,118.00 650.25,113.33 650.75,113.33 650.75,106.67 651.25,106.67 651.25,100.00 651.75,100.00 651.75,92.00 652.25,92.00 652.25,83.33 652.75,83.33 652.75,74.00 653.25,74.00 653.25,65.33 653.75,65.33 653.75,56.00 654.25,56.00 654.25,48.00 654.75,48.00 654.75,40.00 655.25,40.00 655.25,33.33 655.75,33.33 655.75,27.33 656.25,27.33 656.25,22.67 656.75,22.67 656.75,19.33 657.25,19.33 657.25,18.00 657.75,18.00 657.75,18.00 658.25,18.00 658.25,19.33 658.75,19.33 658.75,22.00 659.25,22.00 659.25,26.00 659.75,26.00 659.75,32.00 660.25,32.00 660.25,38.67 660.75,38.67 660.75,46.00 661.25,46.00 661.25,54.67 661.75,54.67 661.75,63.33 662.25,63.33 662.25,72.00 662.75,72.00 662.75,81.33 663.25,81.33 663.25,90.00 663.75,90.00 663.75,98.00 664.25,98.00 664.25,105.33 664.75,105.33 664.75,112.00 665.25,112.00 665.25,117.33 665.75,117.33 665.75,120.67 666.25,120.67 666.25,123.33 666.75,123.33 666.75,124.00 667.25,124.00 667.25,123.33 667.75,123.33 667.75,121.33 668.25,121.33 668.25,118.00 668.75,118.00 668.75,112.67 669.25,112.67 669.25,106.67 669.75,106.67 669.75,99.33 670.25,99.33 670.25,91.33 670.75,91.33 670.75,82.67 671.25,82.67 671.25,74.00 671.75,74.00 671.75,64.67 672.25,64.67 672.25,56.00 672.75,56.00 672.75,47.33 673.25,47.33 673.25,39.33 673.75,39.33 673.75,32.67 674.25,32.67 674.25,27.33 674.75,27.33 674.75,22.67 675.25,22.67 675.25,19.33 675.75,19.33 675.75,18.00 676.25,18.00 676.25,18.00 676.75,18.00 676.75,19.33 677.25,19.33 677.25,22.00 677.75,22.00 677.75,26.67 678.25,26.67 678.25,32.00 678.75,32.00 678.75,38.67 679.25,38.67 679.25,46.67 679.75,46.67 679.75,50.00 680.25,50.00"/>
</g></g>
<text class="tk" text-anchor="end" x="28.7" y="17.00">400</text>
<text class="tk" text-anchor="end" x="28.7" y="45.40">200</text>
<text class="tk" text-anchor="end" x="28.7" y="74.30">0</text>
<text class="tk" text-anchor="end" x="28.7" y="103.20">-200</text>
<text class="tk" text-anchor="end" x="28.7" y="132.20">-400</text>
<text class="tk" text-anchor="middle" x="32.50" y="142.9">0</text>
<text class="tk" text-anchor="middle" x="124.79" y="142.9">0.1</text>
<text class="tk" text-anchor="middle" x="217.07" y="142.9">0.2</text>
<text class="tk" text-anchor="middle" x="309.36" y="142.9">0.3</text>
<text class="tk" text-anchor="middle" x="401.64" y="142.9">0.4</text>
<text class="tk" text-anchor="middle" x="493.93" y="142.9">0.5</text>
<text class="tk" text-anchor="middle" x="586.21" y="142.9">0.6</text>
<text class="tk" text-anchor="middle" x="678.50" y="142.9">0.7</text>
<rect x="353.4" y="11.4" width="3.4" height="1.7" rx="0.7" fill="#5aa2dc"/>
<text class="ti" text-anchor="middle" x="352.5" y="6.9">AC Voltage at Flywheel</text>
<text class="ti" text-anchor="middle" x="360.8" y="142.7">Time (sec)</text>
<text class="ti" text-anchor="middle" transform="translate(7.4,65.9) rotate(-90) scale(1,0.85)" style="font-size:11px">AC Voltage (Volts)</text>
<line class="gr" x1="124.50" y1="162.50" x2="124.50" y2="275.20"/>
<line class="gr" x1="217.50" y1="162.50" x2="217.50" y2="275.20"/>
<line class="gr" x1="309.50" y1="162.50" x2="309.50" y2="275.20"/>
<line class="gr" x1="401.50" y1="162.50" x2="401.50" y2="275.20"/>
<line class="gr" x1="493.50" y1="162.50" x2="493.50" y2="275.20"/>
<line class="gr" x1="586.50" y1="162.50" x2="586.50" y2="275.20"/>
<line class="gr" x1="32.50" y1="183.50" x2="678.50" y2="183.50"/>
<line class="gr" x1="32.50" y1="214.50" x2="678.50" y2="214.50"/>
<line class="gr" x1="32.50" y1="245.50" x2="678.50" y2="245.50"/>
<clipPath id="cb"><rect x="31.80" y="162.50" width="647.70" height="112.70"/></clipPath>
<rect class="ax" x="32.50" y="162.50" width="646.00" height="112.70"/>
<line class="tc" x1="32.50" y1="275.20" x2="32.50" y2="269.20"/>
<line class="tc" x1="32.50" y1="162.50" x2="32.50" y2="168.50"/>
<line class="tc" x1="124.50" y1="275.20" x2="124.50" y2="269.20"/>
<line class="tc" x1="124.50" y1="162.50" x2="124.50" y2="168.50"/>
<line class="tc" x1="217.50" y1="275.20" x2="217.50" y2="269.20"/>
<line class="tc" x1="217.50" y1="162.50" x2="217.50" y2="168.50"/>
<line class="tc" x1="309.50" y1="275.20" x2="309.50" y2="269.20"/>
<line class="tc" x1="309.50" y1="162.50" x2="309.50" y2="168.50"/>
<line class="tc" x1="401.50" y1="275.20" x2="401.50" y2="269.20"/>
<line class="tc" x1="401.50" y1="162.50" x2="401.50" y2="168.50"/>
<line class="tc" x1="493.50" y1="275.20" x2="493.50" y2="269.20"/>
<line class="tc" x1="493.50" y1="162.50" x2="493.50" y2="168.50"/>
<line class="tc" x1="586.50" y1="275.20" x2="586.50" y2="269.20"/>
<line class="tc" x1="586.50" y1="162.50" x2="586.50" y2="168.50"/>
<line class="tc" x1="678.50" y1="275.20" x2="678.50" y2="269.20"/>
<line class="tc" x1="678.50" y1="162.50" x2="678.50" y2="168.50"/>
<line class="tc" x1="32.50" y1="183.50" x2="38.50" y2="183.50"/>
<line class="tc" x1="678.50" y1="183.50" x2="672.50" y2="183.50"/>
<line class="tc" x1="32.50" y1="214.50" x2="38.50" y2="214.50"/>
<line class="tc" x1="678.50" y1="214.50" x2="672.50" y2="214.50"/>
<line class="tc" x1="32.50" y1="245.50" x2="38.50" y2="245.50"/>
<line class="tc" x1="678.50" y1="245.50" x2="672.50" y2="245.50"/>
<g clip-path="url(#cb)"><g>
<polyline class="ln" stroke="#4DBEEE" points="32.15,270.00 32.65,270.00 32.65,271.33 33.15,271.33 33.15,271.33 33.65,271.33 33.65,270.00 34.15,270.00 34.15,267.33 34.65,267.33 34.65,264.67 35.15,264.67 35.15,260.67 35.65,260.67 35.65,256.67 36.15,256.67 36.15,251.33 36.65,251.33 36.65,246.00 37.15,246.00 37.15,240.00 37.65,240.00 37.65,234.00 38.15,234.00 38.15,227.33 38.65,227.33 38.65,220.67 39.15,220.67 39.15,214.67 39.65,214.67 39.65,208.67 40.15,208.67 40.15,203.33 40.65,203.33 40.65,198.67 41.15,198.67 41.15,194.00 41.65,194.00 41.65,190.67 42.15,190.67 42.15,188.00 42.65,188.00 42.65,186.00 43.15,186.00 43.15,185.33 43.65,185.33 43.65,185.33 44.15,185.33 44.15,186.67 44.65,186.67 44.65,188.67 45.15,188.67 45.15,191.33 45.65,191.33 45.65,195.33 46.15,195.33 46.15,199.33 46.65,199.33 46.65,204.00 47.15,204.00 47.15,209.33 47.65,209.33 47.65,214.00 48.15,214.00 48.15,219.33 48.65,219.33 48.65,224.67 49.15,224.67 49.15,230.00 49.65,230.00 49.65,234.67 50.15,234.67 50.15,238.67 50.65,238.67 50.65,242.00 51.15,242.00 51.15,244.00 51.65,244.00 51.65,246.00 52.15,246.00 52.15,246.67 52.65,246.67 52.65,246.67 53.15,246.67 53.15,245.33 53.65,245.33 53.65,243.33 54.15,243.33 54.15,240.67 54.65,240.67 54.65,237.33 55.15,237.33 55.15,232.67 55.65,232.67 55.65,228.00 56.15,228.00 56.15,222.67 56.65,222.67 56.65,217.33 57.15,217.33 57.15,212.00 57.65,212.00 57.65,206.00 58.15,206.00 58.15,200.67 58.65,200.67 58.65,196.00 59.15,196.00 59.15,191.33 59.65,191.33 59.65,187.33 60.15,187.33 60.15,184.67 60.65,184.67 60.65,182.67 61.15,182.67 61.15,181.33 61.65,181.33 61.65,180.67 62.15,180.67 62.15,181.33 62.65,181.33 62.65,183.33 63.15,183.33 63.15,185.33 63.65,185.33 63.65,188.67 64.15,188.67 64.15,193.33 64.65,193.33 64.65,198.00 65.15,198.00 65.15,203.33 65.65,203.33 65.65,208.67 66.15,208.67 66.15,214.67 66.65,214.67 66.65,220.00 67.15,220.00 67.15,226.00 67.65,226.00 67.65,231.33 68.15,231.33 68.15,236.00 68.65,236.00 68.65,240.00 69.15,240.00 69.15,243.33 69.65,243.33 69.65,246.00 70.15,246.00 70.15,248.00 70.65,248.00 70.65,248.67 71.15,248.67 71.15,248.67 71.65,248.67 71.65,247.33 72.15,247.33 72.15,245.33 72.65,245.33 72.65,242.00 73.15,242.00 73.15,238.00 73.65,238.00 73.65,233.33 74.15,233.33 74.15,228.67 74.65,228.67 74.65,222.67 75.15,222.67 75.15,216.67 75.65,216.67 75.65,210.67 76.15,210.67 76.15,205.33 76.65,205.33 76.65,199.33 77.15,199.33 77.15,194.00 77.65,194.00 77.65,189.33 78.15,189.33 78.15,185.33 78.65,185.33 78.65,182.67 79.15,182.67 79.15,180.00 79.65,180.00 79.65,179.33 80.15,179.33 80.15,178.67 80.65,178.67 80.65,180.00 81.15,180.00 81.15,181.33 81.65,181.33 81.65,184.00 82.15,184.00 82.15,188.00 82.65,188.00 82.65,192.67 83.15,192.67 83.15,197.33 83.65,197.33 83.65,203.33 84.15,203.33 84.15,208.67 84.65,208.67 84.65,215.33 85.15,215.33 85.15,221.33 85.65,221.33 85.65,227.33 86.15,227.33 86.15,232.67 86.65,232.67 86.65,237.33 87.15,237.33 87.15,242.00 87.65,242.00 87.65,245.33 88.15,245.33 88.15,248.00 88.65,248.00 88.65,250.00 89.15,250.00 89.15,250.67 89.65,250.67 89.65,250.00 90.15,250.00 90.15,248.67 90.65,248.67 90.65,246.67 91.15,246.67 91.15,243.33 91.65,243.33 91.65,238.67 92.15,238.67 92.15,234.00 92.65,234.00 92.65,228.67 93.15,228.67 93.15,222.67 93.65,222.67 93.65,216.00 94.15,216.00 94.15,210.00 94.65,210.00 94.65,204.00 95.15,204.00 95.15,198.00 95.65,198.00 95.65,192.67 96.15,192.67 96.15,188.00 96.65,188.00 96.65,184.00 97.15,184.00 97.15,180.67 97.65,180.67 97.65,178.67 98.15,178.67 98.15,177.33 98.65,177.33 98.65,177.33 99.15,177.33 99.15,178.00 99.65,178.00 99.65,180.00 100.15,180.00 100.15,183.33 100.65,183.33 100.65,187.33 101.15,187.33 101.15,192.00 101.65,192.00 101.65,197.33 102.15,197.33 102.15,203.33 102.65,203.33 102.65,209.33 103.15,209.33 103.15,216.00 103.65,216.00 103.65,222.00 104.15,222.00 104.15,228.00 104.65,228.00 104.65,234.00 105.15,234.00 105.15,239.33 105.65,239.33 105.65,243.33 106.15,243.33 106.15,247.33 106.65,247.33 106.65,250.00 107.15,250.00 107.15,251.33 107.65,251.33 107.65,252.00 108.15,252.00 108.15,251.33 108.65,251.33 108.65,250.00 109.15,250.00 109.15,247.33 109.65,247.33 109.65,244.00 110.15,244.00 110.15,239.33 110.65,239.33 110.65,234.00 111.15,234.00 111.15,228.00 111.65,228.00 111.65,222.00 112.15,222.00 112.15,216.00 112.65,216.00 112.65,209.33 113.15,209.33 113.15,202.67 113.65,202.67 113.65,196.67 114.15,196.67 114.15,191.33 114.65,191.33 114.65,186.67 115.15,186.67 115.15,182.00 115.65,182.00 115.65,179.33 116.15,179.33 116.15,176.67 116.65,176.67 116.65,176.00 117.15,176.00 117.15,176.00 117.65,176.00 117.65,177.33 118.15,177.33 118.15,179.33 118.65,179.33 118.65,182.67 119.15,182.67 119.15,186.67 119.65,186.67 119.65,192.00 120.15,192.00 120.15,197.33 120.65,197.33 120.65,203.33 121.15,203.33 121.15,210.00 121.65,210.00 121.65,216.67 122.15,216.67 122.15,223.33 122.65,223.33 122.65,229.33 123.15,229.33 123.15,235.33 123.65,235.33 123.65,240.67 124.15,240.67 124.15,245.33 124.65,245.33 124.65,248.67 125.15,248.67 125.15,251.33 125.65,251.33 125.65,252.67 126.15,252.67 126.15,253.33 126.65,253.33 126.65,252.67 127.15,252.67 127.15,250.67 127.65,250.67 127.65,248.00 128.15,248.00 128.15,244.00 128.65,244.00 128.65,239.33 129.15,239.33 129.15,234.00 129.65,234.00 129.65,228.00 130.15,228.00 130.15,222.00 130.65,222.00 130.65,215.33 131.15,215.33 131.15,208.00 131.65,208.00 131.65,202.00 132.15,202.00 132.15,195.33 132.65,195.33 132.65,190.00 133.15,190.00 133.15,184.67 133.65,184.67 133.65,180.67 134.15,180.67 134.15,178.00 134.65,178.00 134.65,175.33 135.15,175.33 135.15,174.67 135.65,174.67 135.65,174.67 136.15,174.67 136.15,176.00 136.65,176.00 136.65,178.67 137.15,178.67 137.15,182.00 137.65,182.00 137.65,186.67 138.15,186.67 138.15,191.33 138.65,191.33 138.65,197.33 139.15,197.33 139.15,204.00 139.65,204.00 139.65,210.67 140.15,210.67 140.15,217.33 140.65,217.33 140.65,224.00 141.15,224.00 141.15,230.67 141.65,230.67 141.65,236.67 142.15,236.67 142.15,242.00 142.65,242.00 142.65,246.67 143.15,246.67 143.15,250.00 143.65,250.00 143.65,252.67 144.15,252.67 144.15,254.00 144.65,254.00 144.65,254.67 145.15,254.67 145.15,254.00 145.65,254.00 145.65,252.00 146.15,252.00 146.15,248.67 146.65,248.67 146.65,244.67 147.15,244.67 147.15,240.00 147.65,240.00 147.65,234.00 148.15,234.00 148.15,228.00 148.65,228.00 148.65,221.33 149.15,221.33 149.15,214.00 149.65,214.00 149.65,207.33 150.15,207.33 150.15,200.67 150.65,200.67 150.65,194.67 151.15,194.67 151.15,188.67 151.65,188.67 151.65,184.00 152.15,184.00 152.15,179.33 152.65,179.33 152.65,176.67 153.15,176.67 153.15,174.67 153.65,174.67 153.65,173.33 154.15,173.33 154.15,174.00 154.65,174.00 154.65,175.33 155.15,175.33 155.15,178.00 155.65,178.00 155.65,181.33 156.15,181.33 156.15,186.00 156.65,186.00 156.65,192.00 157.15,192.00 157.15,198.00 157.65,198.00 157.65,204.67 158.15,204.67 158.15,211.33 158.65,211.33 158.65,218.00 159.15,218.00 159.15,225.33 159.65,225.33 159.65,231.33 160.15,231.33 160.15,238.00 160.65,238.00 160.65,243.33 161.15,243.33 161.15,247.33 161.65,247.33 161.65,251.33 162.15,251.33 162.15,254.00 162.65,254.00 162.65,255.33 163.15,255.33 163.15,255.33 163.65,255.33 163.65,254.67 164.15,254.67 164.15,252.00 164.65,252.00 164.65,249.33 165.15,249.33 165.15,244.67 165.65,244.67 165.65,240.00 166.15,240.00 166.15,234.00 166.65,234.00 166.65,227.33 167.15,227.33 167.15,220.67 167.65,220.67 167.65,213.33 168.15,213.33 168.15,206.67 168.65,206.67 168.65,200.00 169.15,200.00 169.15,193.33 169.65,193.33 169.65,187.33 170.15,187.33 170.15,182.67 170.65,182.67 170.65,178.67 171.15,178.67 171.15,175.33 171.65,175.33 171.65,173.33 172.15,173.33 172.15,172.67 172.65,172.67 172.65,173.33 173.15,173.33 173.15,174.67 173.65,174.67 173.65,177.33 174.15,177.33 174.15,181.33 174.65,181.33 174.65,186.00 175.15,186.00 175.15,192.00 175.65,192.00 175.65,198.00 176.15,198.00 176.15,204.67 176.65,204.67 176.65,212.00 177.15,212.00 177.15,219.33 177.65,219.33 177.65,226.00 178.15,226.00 178.15,232.67 178.65,232.67 178.65,238.67 179.15,238.67 179.15,244.00 179.65,244.00 179.65,248.67 180.15,248.67 180.15,252.67 180.65,252.67 180.65,254.67 181.15,254.67 181.15,256.00 181.65,256.00 181.65,256.00 182.15,256.00 182.15,255.33 182.65,255.33 182.65,252.67 183.15,252.67 183.15,249.33 183.65,249.33 183.65,244.67 184.15,244.67 184.15,239.33 184.65,239.33 184.65,233.33 185.15,233.33 185.15,226.67 185.65,226.67 185.65,220.00 186.15,220.00 186.15,212.67 186.65,212.67 186.65,205.33 187.15,205.33 187.15,198.67 187.65,198.67 187.65,192.00 188.15,192.00 188.15,186.67 188.65,186.67 188.65,181.33 189.15,181.33 189.15,177.33 189.65,177.33 189.65,174.67 190.15,174.67 190.15,172.67 190.65,172.67 190.65,172.00 191.15,172.00 191.15,172.67 191.65,172.67 191.65,174.00 192.15,174.00 192.15,177.33 192.65,177.33 192.65,181.33 193.15,181.33 193.15,186.67 193.65,186.67 193.65,192.00 194.15,192.00 194.15,198.67 194.65,198.67 194.65,205.33 195.15,205.33 195.15,212.67 195.65,212.67 195.65,220.00 196.15,220.00 196.15,226.67 196.65,226.67 196.65,234.00 197.15,234.00 197.15,240.00 197.65,240.00 197.65,245.33 198.15,245.33 198.15,250.00 198.65,250.00 198.65,253.33 199.15,253.33 199.15,255.33 199.65,255.33 199.65,256.67 200.15,256.67 200.15,256.67 200.65,256.67 200.65,255.33 201.15,255.33 201.15,253.33 201.65,253.33 201.65,249.33 202.15,249.33 202.15,244.67 202.65,244.67 202.65,239.33 203.15,239.33 203.15,233.33 203.65,233.33 203.65,226.00 204.15,226.00 204.15,219.33 204.65,219.33 204.65,212.00 205.15,212.00 205.15,204.67 205.65,204.67 205.65,198.00 206.15,198.00 206.15,191.33 206.65,191.33 206.65,185.33 207.15,185.33 207.15,180.67 207.65,180.67 207.65,176.67 208.15,176.67 208.15,173.33 208.65,173.33 208.65,172.00 209.15,172.00 209.15,171.33 209.65,171.33 209.65,172.00 210.15,172.00 210.15,174.00 210.65,174.00 210.65,177.33 211.15,177.33 211.15,181.33 211.65,181.33 211.65,186.67 212.15,186.67 212.15,192.67 212.65,192.67 212.65,199.33 213.15,199.33 213.15,206.00 213.65,206.00 213.65,213.33 214.15,213.33 214.15,220.67 214.65,220.67 214.65,228.00 215.15,228.00 215.15,234.67 215.65,234.67 215.65,240.67 216.15,240.67 216.15,246.00 216.65,246.00 216.65,250.67 217.15,250.67 217.15,254.00 217.65,254.00 217.65,256.67 218.15,256.67 218.15,257.33 218.65,257.33 218.65,257.33 219.15,257.33 219.15,256.00 219.65,256.00 219.65,253.33 220.15,253.33 220.15,249.33 220.65,249.33 220.65,244.67 221.15,244.67 221.15,238.67 221.65,238.67 221.65,232.67 222.15,232.67 222.15,225.33 222.65,225.33 222.65,218.67 223.15,218.67 223.15,211.33 223.65,211.33 223.65,204.00 224.15,204.00 224.15,196.67 224.65,196.67 224.65,190.00 225.15,190.00 225.15,184.67 225.65,184.67 225.65,179.33 226.15,179.33 226.15,175.33 226.65,175.33 226.65,172.67 227.15,172.67 227.15,171.33 227.65,171.33 227.65,170.67 228.15,170.67 228.15,172.00 228.65,172.00 228.65,174.00 229.15,174.00 229.15,177.33 229.65,177.33 229.65,181.33 230.15,181.33 230.15,186.67 230.65,186.67 230.65,192.67 231.15,192.67 231.15,200.00 231.65,200.00 231.65,206.67 232.15,206.67 232.15,214.00 232.65,214.00 232.65,222.00 233.15,222.00 233.15,228.67 233.65,228.67 233.65,235.33 234.15,235.33 234.15,242.00 234.65,242.00 234.65,247.33 235.15,247.33 235.15,251.33 235.65,251.33 235.65,254.67 236.15,254.67 236.15,257.33 236.65,257.33 236.65,258.00 237.15,258.00 237.15,258.00 237.65,258.00 237.65,256.00 238.15,256.00 238.15,253.33 238.65,253.33 238.65,249.33 239.15,249.33 239.15,244.67 239.65,244.67 239.65,238.67 240.15,238.67 240.15,232.00 240.65,232.00 240.65,224.67 241.15,224.67 241.15,217.33 241.65,217.33 241.65,210.00 242.15,210.00 242.15,202.67 242.65,202.67 242.65,196.00 243.15,196.00 243.15,189.33 243.65,189.33 243.65,183.33 244.15,183.33 244.15,178.67 244.65,178.67 244.65,174.67 245.15,174.67 245.15,172.00 245.65,172.00 245.65,170.67 246.15,170.67 246.15,170.67 246.65,170.67 246.65,171.33 247.15,171.33 247.15,174.00 247.65,174.00 247.65,177.33 248.15,177.33 248.15,182.00 248.65,182.00 248.65,187.33 249.15,187.33 249.15,193.33 249.65,193.33 249.65,200.67 250.15,200.67 250.15,207.33 250.65,207.33 250.65,215.33 251.15,215.33 251.15,222.67 251.65,222.67 251.65,230.00 252.15,230.00 252.15,236.67 252.65,236.67 252.65,242.67 253.15,242.67 253.15,248.00 253.65,248.00 253.65,252.67 254.15,252.67 254.15,255.33 254.65,255.33 254.65,258.00 255.15,258.00 255.15,258.67 255.65,258.67 255.65,258.00 256.15,258.00 256.15,256.00 256.65,256.00 256.65,253.33 257.15,253.33 257.15,249.33 257.65,249.33 257.65,244.00 258.15,244.00 258.15,238.00 258.65,238.00 258.65,231.33 259.15,231.33 259.15,224.00 259.65,224.00 259.65,216.67 260.15,216.67 260.15,209.33 260.65,209.33 260.65,202.00 261.15,202.00 261.15,194.67 261.65,194.67 261.65,188.67 262.15,188.67 262.15,182.67 262.65,182.67 262.65,178.00 263.15,178.00 263.15,174.00 263.65,174.00 263.65,171.33 264.15,171.33 264.15,170.00 264.65,170.00 264.65,170.00 265.15,170.00 265.15,171.33 265.65,171.33 265.65,174.00 266.15,174.00 266.15,177.33 266.65,177.33 266.65,182.00 267.15,182.00 267.15,187.33 267.65,187.33 267.65,194.00 268.15,194.00 268.15,201.33 268.65,201.33 268.65,208.67 269.15,208.67 269.15,216.00 269.65,216.00 269.65,223.33 270.15,223.33 270.15,230.67 270.65,230.67 270.65,237.33 271.15,237.33 271.15,243.33 271.65,243.33 271.65,248.67 272.15,248.67 272.15,253.33 272.65,253.33 272.65,256.00 273.15,256.00 273.15,258.00 273.65,258.00 273.65,258.67 274.15,258.67 274.15,258.00 274.65,258.00 274.65,256.00 275.15,256.00 275.15,253.33 275.65,253.33 275.65,248.67 276.15,248.67 276.15,244.00 276.65,244.00 276.65,237.33 277.15,237.33 277.15,230.67 277.65,230.67 277.65,223.33 278.15,223.33 278.15,216.00 278.65,216.00 278.65,208.67 279.15,208.67 279.15,201.33 279.65,201.33 279.65,194.00 280.15,194.00 280.15,187.33 280.65,187.33 280.65,182.00 281.15,182.00 281.15,177.33 281.65,177.33 281.65,173.33 282.15,173.33 282.15,170.67 282.65,170.67 282.65,170.00 283.15,170.00 283.15,170.00 283.65,170.00 283.65,171.33 284.15,171.33 284.15,174.00 284.65,174.00 284.65,177.33 285.15,177.33 285.15,182.00 285.65,182.00 285.65,188.00 286.15,188.00 286.15,194.67 286.65,194.67 286.65,202.00 287.15,202.00 287.15,209.33 287.65,209.33 287.65,216.67 288.15,216.67 288.15,224.67 288.65,224.67 288.65,231.33 289.15,231.33 289.15,238.67 289.65,238.67 289.65,244.67 290.15,244.67 290.15,249.33 290.65,249.33 290.65,254.00 291.15,254.00 291.15,256.67 291.65,256.67 291.65,258.67 292.15,258.67 292.15,259.33 292.65,259.33 292.65,258.67 293.15,258.67 293.15,256.00 293.65,256.00 293.65,253.33 294.15,253.33 294.15,248.67 294.65,248.67 294.65,243.33 295.15,243.33 295.15,237.33 295.65,237.33 295.65,230.00 296.15,230.00 296.15,222.67 296.65,222.67 296.65,215.33 297.15,215.33 297.15,207.33 297.65,207.33 297.65,200.00 298.15,200.00 298.15,193.33 298.65,193.33 298.65,186.67 299.15,186.67 299.15,181.33 299.65,181.33 299.65,176.67 300.15,176.67 300.15,172.67 300.65,172.67 300.65,170.67 301.15,170.67 301.15,169.33 301.65,169.33 301.65,169.33 302.15,169.33 302.15,171.33 302.65,171.33 302.65,174.00 303.15,174.00 303.15,178.00 303.65,178.00 303.65,182.67 304.15,182.67 304.15,188.67 304.65,188.67 304.65,195.33 305.15,195.33 305.15,202.67 305.65,202.67 305.65,210.00 306.15,210.00 306.15,217.33 306.65,217.33 306.65,225.33 307.15,225.33 307.15,232.67 307.65,232.67 307.65,239.33 308.15,239.33 308.15,245.33 308.65,245.33 308.65,250.67 309.15,250.67 309.15,254.67 309.65,254.67 309.65,257.33 310.15,257.33 310.15,258.67 310.65,258.67 310.65,259.33 311.15,259.33 311.15,258.67 311.65,258.67 311.65,256.00 312.15,256.00 312.15,252.67 312.65,252.67 312.65,248.00 313.15,248.00 313.15,242.67 313.65,242.67 313.65,236.67 314.15,236.67 314.15,229.33 314.65,229.33 314.65,222.00 315.15,222.00 315.15,214.67 315.65,214.67 315.65,206.67 316.15,206.67 316.15,199.33 316.65,199.33 316.65,192.00 317.15,192.00 317.15,186.00 317.65,186.00 317.65,180.00 318.15,180.00 318.15,176.00 318.65,176.00 318.65,172.00 319.15,172.00 319.15,170.00 319.65,170.00 319.65,169.33 320.15,169.33 320.15,169.33 320.65,169.33 320.65,171.33 321.15,171.33 321.15,174.00 321.65,174.00 321.65,178.00 322.15,178.00 322.15,183.33 322.65,183.33 322.65,189.33 323.15,189.33 323.15,196.00 323.65,196.00 323.65,203.33 324.15,203.33 324.15,210.67 324.65,210.67 324.65,218.67 325.15,218.67 325.15,226.00 325.65,226.00 325.65,233.33 326.15,233.33 326.15,240.00 326.65,240.00 326.65,246.00 327.15,246.00 327.15,251.33 327.65,251.33 327.65,255.33 328.15,255.33 328.15,258.00 328.65,258.00 328.65,259.33 329.15,259.33 329.15,259.33 329.65,259.33 329.65,258.67 330.15,258.67 330.15,256.00 330.65,256.00 330.65,252.67 331.15,252.67 331.15,248.00 331.65,248.00 331.65,242.00 332.15,242.00 332.15,236.00 332.65,236.00 332.65,228.67 333.15,228.67 333.15,221.33 333.65,221.33 333.65,213.33 334.15,213.33 334.15,206.00 334.65,206.00 334.65,198.67 335.15,198.67 335.15,191.33 335.65,191.33 335.65,185.33 336.15,185.33 336.15,179.33 336.65,179.33 336.65,175.33 337.15,175.33 337.15,172.00 337.65,172.00 337.65,170.00 338.15,170.00 338.15,168.67 338.65,168.67 338.65,169.33 339.15,169.33 339.15,171.33 339.65,171.33 339.65,174.00 340.15,174.00 340.15,178.67 340.65,178.67 340.65,183.33 341.15,183.33 341.15,190.00 341.65,190.00 341.65,196.67 342.15,196.67 342.15,204.00 342.65,204.00 342.65,211.33 343.15,211.33 343.15,219.33 343.65,219.33 343.65,226.67 344.15,226.67 344.15,234.00 344.65,234.00 344.65,240.67 345.15,240.67 345.15,246.67 345.65,246.67 345.65,252.00 346.15,252.00 346.15,255.33 346.65,255.33 346.65,258.00 347.15,258.00 347.15,259.33 347.65,259.33 347.65,260.00 348.15,260.00 348.15,258.67 348.65,258.67 348.65,256.00 349.15,256.00 349.15,252.00 349.65,252.00 349.65,247.33 350.15,247.33 350.15,242.00 350.65,242.00 350.65,235.33 351.15,235.33 351.15,228.00 351.65,228.00 351.65,220.67 352.15,220.67 352.15,212.67 352.65,212.67 352.65,204.67 353.15,204.67 353.15,197.33 353.65,197.33 353.65,190.67 354.15,190.67 354.15,184.00 354.65,184.00 354.65,178.67 355.15,178.67 355.15,174.67 355.65,174.67 355.65,171.33 356.15,171.33 356.15,169.33 356.65,169.33 356.65,168.67 357.15,168.67 357.15,169.33 357.65,169.33 357.65,171.33 358.15,171.33 358.15,174.67 358.65,174.67 358.65,178.67 359.15,178.67 359.15,184.00 359.65,184.00 359.65,190.67 360.15,190.67 360.15,197.33 360.65,197.33 360.65,204.67 361.15,204.67 361.15,212.67 361.65,212.67 361.65,220.00 362.15,220.00 362.15,228.00 362.65,228.00 362.65,235.33 363.15,235.33 363.15,241.33 363.65,241.33 363.65,247.33 364.15,247.33 364.15,252.00 364.65,252.00 364.65,256.00 365.15,256.00 365.15,258.67 365.65,258.67 365.65,260.00 366.15,260.00 366.15,260.00 366.65,260.00 366.65,258.67 367.15,258.67 367.15,256.00 367.65,256.00 367.65,252.00 368.15,252.00 368.15,246.67 368.65,246.67 368.65,241.33 369.15,241.33 369.15,234.67 369.65,234.67 369.65,227.33 370.15,227.33 370.15,219.33 370.65,219.33 370.65,212.00 371.15,212.00 371.15,204.00 371.65,204.00 371.65,196.67 372.15,196.67 372.15,190.00 372.65,190.00 372.65,183.33 373.15,183.33 373.15,178.00 373.65,178.00 373.65,174.00 374.15,174.00 374.15,170.67 374.65,170.67 374.65,169.33 375.15,169.33 375.15,168.67 375.65,168.67 375.65,169.33 376.15,169.33 376.15,171.33 376.65,171.33 376.65,174.67 377.15,174.67 377.15,179.33 377.65,179.33 377.65,184.67 378.15,184.67 378.15,191.33 378.65,191.33 378.65,198.00 379.15,198.00 379.15,205.33 379.65,205.33 379.65,213.33 380.15,213.33 380.15,221.33 380.65,221.33 380.65,228.67 381.15,228.67 381.15,236.00 381.65,236.00 381.65,242.67 382.15,242.67 382.15,248.00 382.65,248.00 382.65,252.67 383.15,252.67 383.15,256.67 383.65,256.67 383.65,258.67 384.15,258.67 384.15,260.00 384.65,260.00 384.65,260.00 385.15,260.00 385.15,258.00 385.65,258.00 385.65,255.33 386.15,255.33 386.15,251.33 386.65,251.33 386.65,246.67 387.15,246.67 387.15,240.67 387.65,240.67 387.65,234.00 388.15,234.00 388.15,226.67 388.65,226.67 388.65,218.67 389.15,218.67 389.15,210.67 389.65,210.67 389.65,203.33 390.15,203.33 390.15,196.00 390.65,196.00 390.65,188.67 391.15,188.67 391.15,182.67 391.65,182.67 391.65,178.00 392.15,178.00 392.15,173.33 392.65,173.33 392.65,170.67 393.15,170.67 393.15,168.67 393.65,168.67 393.65,168.67 394.15,168.67 394.15,169.33 394.65,169.33 394.65,171.33 395.15,171.33 395.15,175.33 395.65,175.33 395.65,180.00 396.15,180.00 396.15,185.33 396.65,185.33 396.65,192.00 397.15,192.00 397.15,198.67 397.65,198.67 397.65,206.67 398.15,206.67 398.15,214.00 398.65,214.00 398.65,222.00 399.15,222.00 399.15,229.33 399.65,229.33 399.65,236.67 400.15,236.67 400.15,243.33 400.65,243.33 400.65,248.67 401.15,248.67 401.15,253.33 401.65,253.33 401.65,256.67 402.15,256.67 402.15,259.33 402.65,259.33 402.65,260.00 403.15,260.00 403.15,260.00 403.65,260.00 403.65,258.00 404.15,258.00 404.15,255.33 404.65,255.33 404.65,251.33 405.15,251.33 405.15,246.00 405.65,246.00 405.65,240.00 406.15,240.00 406.15,232.67 406.65,232.67 406.65,225.33 407.15,225.33 407.15,218.00 407.65,218.00 407.65,210.00 408.15,210.00 408.15,202.67 408.65,202.67 408.65,195.33 409.15,195.33 409.15,188.00 409.65,188.00 409.65,182.00 410.15,182.00 410.15,177.33 410.65,177.33 410.65,173.33 411.15,173.33 411.15,170.00 411.65,170.00 411.65,168.67 412.15,168.67 412.15,168.67 412.65,168.67 412.65,169.33 413.15,169.33 413.15,172.00 413.65,172.00 413.65,175.33 414.15,175.33 414.15,180.00 414.65,180.00 414.65,186.00 415.15,186.00 415.15,192.67 415.65,192.67 415.65,199.33 416.15,199.33 416.15,207.33 416.65,207.33 416.65,215.33 417.15,215.33 417.15,222.67 417.65,222.67 417.65,230.67 418.15,230.67 418.15,237.33 418.65,237.33 418.65,244.00 419.15,244.00 419.15,249.33 419.65,249.33 419.65,254.00 420.15,254.00 420.15,257.33 420.65,257.33 420.65,259.33 421.15,259.33 421.15,260.67 421.65,260.67 421.65,260.00 422.15,260.00 422.15,258.00 422.65,258.00 422.65,254.67 423.15,254.67 423.15,250.67 423.65,250.67 423.65,245.33 424.15,245.33 424.15,239.33 424.65,239.33 424.65,232.00 425.15,232.00 425.15,224.67 425.65,224.67 425.65,217.33 426.15,217.33 426.15,209.33 426.65,209.33 426.65,201.33 427.15,201.33 427.15,194.00 427.65,194.00 427.65,187.33 428.15,187.33 428.15,181.33 428.65,181.33 428.65,176.67 429.15,176.67 429.15,172.67 429.65,172.67 429.65,170.00 430.15,170.00 430.15,168.67 430.65,168.67 430.65,168.67 431.15,168.67 431.15,169.33 431.65,169.33 431.65,172.00 432.15,172.00 432.15,176.00 432.65,176.00 432.65,180.67 433.15,180.67 433.15,186.67 433.65,186.67 433.65,193.33 434.15,193.33 434.15,200.67 434.65,200.67 434.65,208.00 435.15,208.00 435.15,216.00 435.65,216.00 435.65,224.00 436.15,224.00 436.15,231.33 436.65,231.33 436.65,238.00 437.15,238.00 437.15,244.67 437.65,244.67 437.65,250.00 438.15,250.00 438.15,254.67 438.65,254.67 438.65,258.00 439.15,258.00 439.15,260.00 439.65,260.00 439.65,260.67 440.15,260.67 440.15,260.00 440.65,260.00 440.65,258.00 441.15,258.00 441.15,254.67 441.65,254.67 441.65,250.00 442.15,250.00 442.15,244.67 442.65,244.67 442.65,238.67 443.15,238.67 443.15,231.33 443.65,231.33 443.65,224.00 444.15,224.00 444.15,216.00 444.65,216.00 444.65,208.67 445.15,208.67 445.15,200.67 445.65,200.67 445.65,193.33 446.15,193.33 446.15,186.67 446.65,186.67 446.65,180.67 447.15,180.67 447.15,176.00 447.65,176.00 447.65,172.00 448.15,172.00 448.15,169.33 448.65,169.33 448.65,168.00 449.15,168.00 449.15,168.67 449.65,168.67 449.65,170.00 450.15,170.00 450.15,172.67 450.65,172.67 450.65,176.00 451.15,176.00 451.15,181.33 451.65,181.33 451.65,187.33 452.15,187.33 452.15,194.00 452.65,194.00 452.65,201.33 453.15,201.33 453.15,208.67 453.65,208.67 453.65,216.67 454.15,216.67 454.15,224.67 454.65,224.67 454.65,232.00 455.15,232.00 455.15,239.33 455.65,239.33 455.65,245.33 456.15,245.33 456.15,250.67 456.65,250.67 456.65,254.67 457.15,254.67 457.15,258.00 457.65,258.00 457.65,260.00 458.15,260.00 458.15,260.67 458.65,260.67 458.65,260.00 459.15,260.00 459.15,257.33 459.65,257.33 459.65,254.00 460.15,254.00 460.15,250.00 460.65,250.00 460.65,244.00 461.15,244.00 461.15,238.00 461.65,238.00 461.65,230.67 462.15,230.67 462.15,223.33 462.65,223.33 462.65,215.33 463.15,215.33 463.15,207.33 463.65,207.33 463.65,200.00 464.15,200.00 464.15,192.67 464.65,192.67 464.65,186.00 465.15,186.00 465.15,180.00 465.65,180.00 465.65,175.33 466.15,175.33 466.15,172.00 466.65,172.00 466.65,169.33 467.15,169.33 467.15,168.00 467.65,168.00 467.65,168.67 468.15,168.67 468.15,170.00 468.65,170.00 468.65,172.67 469.15,172.67 469.15,176.67 469.65,176.67 469.65,182.00 470.15,182.00 470.15,188.00 470.65,188.00 470.65,194.67 471.15,194.67 471.15,202.00 471.65,202.00 471.65,210.00 472.15,210.00 472.15,217.33 472.65,217.33 472.65,225.33 473.15,225.33 473.15,232.67 473.65,232.67 473.65,240.00 474.15,240.00 474.15,246.00 474.65,246.00 474.65,251.33 475.15,251.33 475.15,255.33 475.65,255.33 475.65,258.67 476.15,258.67 476.15,260.00 476.65,260.00 476.65,260.67 477.15,260.67 477.15,259.33 477.65,259.33 477.65,257.33 478.15,257.33 478.15,254.00 478.65,254.00 478.65,249.33 479.15,249.33 479.15,243.33 479.65,243.33 479.65,237.33 480.15,237.33 480.15,230.00 480.65,230.00 480.65,222.00 481.15,222.00 481.15,214.67 481.65,214.67 481.65,206.67 482.15,206.67 482.15,198.67 482.65,198.67 482.65,192.00 483.15,192.00 483.15,185.33 483.65,185.33 483.65,179.33 484.15,179.33 484.15,174.67 484.65,174.67 484.65,171.33 485.15,171.33 485.15,169.33 485.65,169.33 485.65,168.00 486.15,168.00 486.15,168.67 486.65,168.67 486.65,170.00 487.15,170.00 487.15,173.33 487.65,173.33 487.65,177.33 488.15,177.33 488.15,182.67 488.65,182.67 488.65,188.67 489.15,188.67 489.15,195.33 489.65,195.33 489.65,202.67 490.15,202.67 490.15,210.67 490.65,210.67 490.65,218.67 491.15,218.67 491.15,226.00 491.65,226.00 491.65,234.00 492.15,234.00 492.15,240.67 492.65,240.67 492.65,246.67 493.15,246.67 493.15,252.00 493.65,252.00 493.65,256.00 494.15,256.00 494.15,258.67 494.65,258.67 494.65,260.00 495.15,260.00 495.15,260.67 495.65,260.67 495.65,259.33 496.15,259.33 496.15,257.33 496.65,257.33 496.65,253.33 497.15,253.33 497.15,248.67 497.65,248.67 497.65,242.67 498.15,242.67 498.15,236.67 498.65,236.67 498.65,229.33 499.15,229.33 499.15,221.33 499.65,221.33 499.65,213.33 500.15,213.33 500.15,206.00 500.65,206.00 500.65,198.00 501.15,198.00 501.15,191.33 501.65,191.33 501.65,184.67 502.15,184.67 502.15,178.67 502.65,178.67 502.65,174.67 503.15,174.67 503.15,170.67 503.65,170.67 503.65,168.67 504.15,168.67 504.15,168.00 504.65,168.00 504.65,168.67 505.15,168.67 505.15,170.00 505.65,170.00 505.65,173.33 506.15,173.33 506.15,177.33 506.65,177.33 506.65,182.67 507.15,182.67 507.15,189.33 507.65,189.33 507.65,196.00 508.15,196.00 508.15,204.00 508.65,204.00 508.65,211.33 509.15,211.33 509.15,219.33 509.65,219.33 509.65,227.33 510.15,227.33 510.15,234.67 510.65,234.67 510.65,241.33 511.15,241.33 511.15,247.33 511.65,247.33 511.65,252.00 512.15,252.00 512.15,256.00 512.65,256.00 512.65,258.67 513.15,258.67 513.15,260.67 513.65,260.67 513.65,260.67 514.15,260.67 514.15,259.33 514.65,259.33 514.65,256.67 515.15,256.67 515.15,253.33 515.65,253.33 515.65,248.00 516.15,248.00 516.15,242.00 516.65,242.00 516.65,235.33 517.15,235.33 517.15,228.00 517.65,228.00 517.65,220.67 518.15,220.67 518.15,212.67 518.65,212.67 518.65,204.67 519.15,204.67 519.15,197.33 519.65,197.33 519.65,190.00 520.15,190.00 520.15,184.00 520.65,184.00 520.65,178.67 521.15,178.67 521.15,174.00 521.65,174.00 521.65,170.67 522.15,170.67 522.15,168.67 522.65,168.67 522.65,168.00 523.15,168.00 523.15,168.67 523.65,168.67 523.65,170.67 524.15,170.67 524.15,174.00 524.65,174.00 524.65,178.00 525.15,178.00 525.15,183.33 525.65,183.33 525.65,190.00 526.15,190.00 526.15,196.67 526.65,196.67 526.65,204.67 527.15,204.67 527.15,212.67 527.65,212.67 527.65,220.00 528.15,220.00 528.15,228.00 528.65,228.00 528.65,235.33 529.15,235.33 529.15,242.00 529.65,242.00 529.65,248.00 530.15,248.00 530.15,252.67 530.65,252.67 530.65,256.67 531.15,256.67 531.15,259.33 531.65,259.33 531.65,260.67 532.15,260.67 532.15,260.67 532.65,260.67 532.65,259.33 533.15,259.33 533.15,256.67 533.65,256.67 533.65,252.67 534.15,252.67 534.15,247.33 534.65,247.33 534.65,241.33 535.15,241.33 535.15,234.67 535.65,234.67 535.65,227.33 536.15,227.33 536.15,220.00 536.65,220.00 536.65,212.00 537.15,212.00 537.15,204.00 537.65,204.00 537.65,196.67 538.15,196.67 538.15,189.33 538.65,189.33 538.65,183.33 539.15,183.33 539.15,178.00 539.65,178.00 539.65,173.33 540.15,173.33 540.15,170.00 540.65,170.00 540.65,168.67 541.15,168.67 541.15,168.00 541.65,168.00 541.65,168.67 542.15,168.67 542.15,170.67 542.65,170.67 542.65,174.00 543.15,174.00 543.15,178.67 543.65,178.67 543.65,184.00 544.15,184.00 544.15,190.67 544.65,190.67 544.65,198.00 545.15,198.00 545.15,205.33 545.65,205.33 545.65,213.33 546.15,213.33 546.15,221.33 546.65,221.33 546.65,228.67 547.15,228.67 547.15,236.00 547.65,236.00 547.65,242.67 548.15,242.67 548.15,248.67 548.65,248.67 548.65,253.33 549.15,253.33 549.15,257.33 549.65,257.33 549.65,259.33 550.15,259.33 550.15,260.67 550.65,260.67 550.65,260.67 551.15,260.67 551.15,258.67 551.65,258.67 551.65,256.00 552.15,256.00 552.15,252.00 552.65,252.00 552.65,246.67 553.15,246.67 553.15,240.67 553.65,240.67 553.65,234.00 554.15,234.00 554.15,226.67 554.65,226.67 554.65,218.67 555.15,218.67 555.15,210.67 555.65,210.67 555.65,203.33 556.15,203.33 556.15,196.00 556.65,196.00 556.65,188.67 557.15,188.67 557.15,182.67 557.65,182.67 557.65,177.33 558.15,177.33 558.15,173.33 558.65,173.33 558.65,170.00 559.15,170.00 559.15,168.00 559.65,168.00 559.65,168.00 560.15,168.00 560.15,168.67 560.65,168.67 560.65,171.33 561.15,171.33 561.15,174.67 561.65,174.67 561.65,179.33 562.15,179.33 562.15,184.67 562.65,184.67 562.65,191.33 563.15,191.33 563.15,198.67 563.65,198.67 563.65,206.00 564.15,206.00 564.15,214.00 564.65,214.00 564.65,222.00 565.15,222.00 565.15,229.33 565.65,229.33 565.65,236.67 566.15,236.67 566.15,243.33 566.65,243.33 566.65,249.33 567.15,249.33 567.15,254.00 567.65,254.00 567.65,257.33 568.15,257.33 568.15,260.00 568.65,260.00 568.65,260.67 569.15,260.67 569.15,260.67 569.65,260.67 569.65,258.67 570.15,258.67 570.15,256.00 570.65,256.00 570.65,251.33 571.15,251.33 571.15,246.67 571.65,246.67 571.65,240.00 572.15,240.00 572.15,233.33 572.65,233.33 572.65,226.00 573.15,226.00 573.15,218.00 573.65,218.00 573.65,210.00 574.15,210.00 574.15,202.67 574.65,202.67 574.65,194.67 575.15,194.67 575.15,188.00 575.65,188.00 575.65,182.00 576.15,182.00 576.15,176.67 576.65,176.67 576.65,172.67 577.15,172.67 577.15,170.00 577.65,170.00 577.65,168.00 578.15,168.00 578.15,168.00 578.65,168.00 578.65,168.67 579.15,168.67 579.15,171.33 579.65,171.33 579.65,174.67 580.15,174.67 580.15,180.00 580.65,180.00 580.65,185.33 581.15,185.33 581.15,192.00 581.65,192.00 581.65,199.33 582.15,199.33 582.15,207.33 582.65,207.33 582.65,214.67 583.15,214.67 583.15,222.67 583.65,222.67 583.65,230.67 584.15,230.67 584.15,237.33 584.65,237.33 584.65,244.00 585.15,244.00 585.15,250.00 585.65,250.00 585.65,254.00 586.15,254.00 586.15,258.00 586.65,258.00 586.65,260.00 587.15,260.00 587.15,260.67 587.65,260.67 587.65,260.00 588.15,260.00 588.15,258.67 588.65,258.67 588.65,255.33 589.15,255.33 589.15,251.33 589.65,251.33 589.65,246.00 590.15,246.00 590.15,239.33 590.65,239.33 590.65,232.67 591.15,232.67 591.15,224.67 591.65,224.67 591.65,217.33 592.15,217.33 592.15,209.33 592.65,209.33 592.65,201.33 593.15,201.33 593.15,194.00 593.65,194.00 593.65,187.33 594.15,187.33 594.15,181.33 594.65,181.33 594.65,176.00 595.15,176.00 595.15,172.00 595.65,172.00 595.65,169.33 596.15,169.33 596.15,168.00 596.65,168.00 596.65,168.00 597.15,168.00 597.15,169.33 597.65,169.33 597.65,172.00 598.15,172.00 598.15,175.33 598.65,175.33 598.65,180.67 599.15,180.67 599.15,186.00 599.65,186.00 599.65,192.67 600.15,192.67 600.15,200.00 600.65,200.00 600.65,208.00 601.15,208.00 601.15,216.00 601.65,216.00 601.65,224.00 602.15,224.00 602.15,231.33 602.65,231.33 602.65,238.67 603.15,238.67 603.15,244.67 603.65,244.67 603.65,250.00 604.15,250.00 604.15,254.67 604.65,254.67 604.65,258.00 605.15,258.00 605.15,260.00 605.65,260.00 605.65,260.67 606.15,260.67 606.15,260.00 606.65,260.00 606.65,258.00 607.15,258.00 607.15,255.33 607.65,255.33 607.65,250.67 608.15,250.67 608.15,245.33 608.65,245.33 608.65,238.67 609.15,238.67 609.15,232.00 609.65,232.00 609.65,224.00 610.15,224.00 610.15,216.00 610.65,216.00 610.65,208.67 611.15,208.67 611.15,200.67 611.65,200.67 611.65,193.33 612.15,193.33 612.15,186.67 612.65,186.67 612.65,180.67 613.15,180.67 613.15,176.00 613.65,176.00 613.65,172.00 614.15,172.00 614.15,169.33 614.65,169.33 614.65,168.00 615.15,168.00 615.15,168.00 615.65,168.00 615.65,169.33 616.15,169.33 616.15,172.00 616.65,172.00 616.65,176.00 617.15,176.00 617.15,180.67 617.65,180.67 617.65,186.67 618.15,186.67 618.15,194.00 618.65,194.00 618.65,201.33 619.15,201.33 619.15,208.67 619.65,208.67 619.65,216.67 620.15,216.67 620.15,224.67 620.65,224.67 620.65,232.00 621.15,232.00 621.15,239.33 621.65,239.33 621.65,245.33 622.15,245.33 622.15,250.67 622.65,250.67 622.65,255.33 623.15,255.33 623.15,258.67 623.65,258.67 623.65,260.00 624.15,260.00 624.15,260.67 624.65,260.67 624.65,260.00 625.15,260.00 625.15,258.00 625.65,258.00 625.65,254.67 626.15,254.67 626.15,250.00 626.65,250.00 626.65,244.67 627.15,244.67 627.15,238.00 627.65,238.00 627.65,230.67 628.15,230.67 628.15,223.33 628.65,223.33 628.65,215.33 629.15,215.33 629.15,207.33 629.65,207.33 629.65,200.00 630.15,200.00 630.15,192.67 630.65,192.67 630.65,186.00 631.15,186.00 631.15,180.00 631.65,180.00 631.65,175.33 632.15,175.33 632.15,171.33 632.65,171.33 632.65,169.33 633.15,169.33 633.15,168.00 633.65,168.00 633.65,168.00 634.15,168.00 634.15,169.33 634.65,169.33 634.65,172.67 635.15,172.67 635.15,176.67 635.65,176.67 635.65,181.33 636.15,181.33 636.15,187.33 636.65,187.33 636.65,194.67 637.15,194.67 637.15,202.00 637.65,202.00 637.65,209.33 638.15,209.33 638.15,217.33 638.65,217.33 638.65,225.33 639.15,225.33 639.15,232.67 639.65,232.67 639.65,240.00 640.15,240.00 640.15,246.00 640.65,246.00 640.65,251.33 641.15,251.33 641.15,255.33 641.65,255.33 641.65,258.67 642.15,258.67 642.15,260.67 642.65,260.67 642.65,260.67 643.15,260.67 643.15,260.00 643.65,260.00 643.65,257.33 644.15,257.33 644.15,254.00 644.65,254.00 644.65,249.33 645.15,249.33 645.15,244.00 645.65,244.00 645.65,237.33 646.15,237.33 646.15,230.00 646.65,230.00 646.65,222.67 647.15,222.67 647.15,214.67 647.65,214.67 647.65,206.67 648.15,206.67 648.15,198.67 648.65,198.67 648.65,192.00 649.15,192.00 649.15,185.33 649.65,185.33 649.65,179.33 650.15,179.33 650.15,174.67 650.65,174.67 650.65,171.33 651.15,171.33 651.15,168.67 651.65,168.67 651.65,168.00 652.15,168.00 652.15,168.00 652.65,168.00 652.65,170.00 653.15,170.00 653.15,172.67 653.65,172.67 653.65,176.67 654.15,176.67 654.15,182.00 654.65,182.00 654.65,188.00 655.15,188.00 655.15,195.33 655.65,195.33 655.65,202.67 656.15,202.67 656.15,210.67 656.65,210.67 656.65,218.67 657.15,218.67 657.15,226.00 657.65,226.00 657.65,234.00 658.15,234.00 658.15,240.67 658.65,240.67 658.65,246.67 659.15,246.67 659.15,252.00 659.65,252.00 659.65,256.00 660.15,256.00 660.15,258.67 660.65,258.67 660.65,260.67 661.15,260.67 661.15,260.67 661.65,260.67 661.65,260.00 662.15,260.00 662.15,257.33 662.65,257.33 662.65,254.00 663.15,254.00 663.15,248.67 663.65,248.67 663.65,243.33 664.15,243.33 664.15,236.67 664.65,236.67 664.65,229.33 665.15,229.33 665.15,221.33 665.65,221.33 665.65,214.00 666.15,214.00 666.15,206.00 666.65,206.00 666.65,198.00 667.15,198.00 667.15,190.67 667.65,190.67 667.65,184.67 668.15,184.67 668.15,178.67 668.65,178.67 668.65,174.00 669.15,174.00 669.15,170.67 669.65,170.67 669.65,168.67 670.15,168.67 670.15,168.00 670.65,168.00 670.65,168.00 671.15,168.00 671.15,170.00 671.65,170.00 671.65,173.33 672.15,173.33 672.15,177.33 672.65,177.33 672.65,182.67 673.15,182.67 673.15,189.33 673.65,189.33 673.65,196.00 674.15,196.00 674.15,203.33 674.65,203.33 674.65,211.33 675.15,211.33 675.15,219.33 675.65,219.33 675.65,227.33 676.15,227.33 676.15,234.67 676.65,234.67 676.65,241.33 677.15,241.33 677.15,247.33 677.65,247.33 677.65,252.67 678.15,252.67 678.15,256.67 678.65,256.67 678.65,258.00 679.15,258.00"/>
<polyline class="ln" stroke="#A2142F" points="32.15,188.67 32.65,188.67 32.65,191.33 33.15,191.33 33.15,194.67 33.65,194.67 33.65,198.00 34.15,198.00 34.15,202.67 34.65,202.67 34.65,207.33 35.15,207.33 35.15,212.00 35.65,212.00 35.65,217.33 36.15,217.33 36.15,222.00 36.65,222.00 36.65,227.33 37.15,227.33 37.15,232.00 37.65,232.00 37.65,236.00 38.15,236.00 38.15,239.33 38.65,239.33 38.65,242.00 39.15,242.00 39.15,244.00 39.65,244.00 39.65,245.33 40.15,245.33 40.15,245.33 40.65,245.33 40.65,244.67 41.15,244.67 41.15,243.33 41.65,243.33 41.65,240.67 42.15,240.67 42.15,238.00 42.65,238.00 42.65,234.00 43.15,234.00 43.15,229.33 43.65,229.33 43.65,224.67 44.15,224.67 44.15,219.33 44.65,219.33 44.65,214.00 45.15,214.00 45.15,208.67 45.65,208.67 45.65,204.00 46.15,204.00 46.15,198.67 46.65,198.67 46.65,194.00 47.15,194.00 47.15,190.67 47.65,190.67 47.65,187.33 48.15,187.33 48.15,184.67 48.65,184.67 48.65,183.33 49.15,183.33 49.15,182.00 49.65,182.00 49.65,182.67 50.15,182.67 50.15,183.33 50.65,183.33 50.65,186.00 51.15,186.00 51.15,188.67 51.65,188.67 51.65,192.00 52.15,192.00 52.15,196.67 52.65,196.67 52.65,201.33 53.15,201.33 53.15,206.67 53.65,206.67 53.65,212.00 54.15,212.00 54.15,217.33 54.65,217.33 54.65,223.33 55.15,223.33 55.15,228.00 55.65,228.00 55.65,233.33 56.15,233.33 56.15,237.33 56.65,237.33 56.65,241.33 57.15,241.33 57.15,244.00 57.65,244.00 57.65,246.00 58.15,246.00 58.15,247.33 58.65,247.33 58.65,247.33 59.15,247.33 59.15,246.67 59.65,246.67 59.65,244.67 60.15,244.67 60.15,242.67 60.65,242.67 60.65,238.67 61.15,238.67 61.15,234.67 61.65,234.67 61.65,230.00 62.15,230.00 62.15,224.67 62.65,224.67 62.65,219.33 63.15,219.33 63.15,213.33 63.65,213.33 63.65,208.00 64.15,208.00 64.15,202.00 64.65,202.00 64.65,197.33 65.15,197.33 65.15,192.00 65.65,192.00 65.65,188.00 66.15,188.00 66.15,184.67 66.65,184.67 66.65,182.67 67.15,182.67 67.15,180.67 67.65,180.67 67.65,180.00 68.15,180.00 68.15,180.67 68.65,180.67 68.65,182.00 69.15,182.00 69.15,184.00 69.65,184.00 69.65,187.33 70.15,187.33 70.15,191.33 70.65,191.33 70.65,196.00 71.15,196.00 71.15,201.33 71.65,201.33 71.65,206.67 72.15,206.67 72.15,212.67 72.65,212.67 72.65,218.67 73.15,218.67 73.15,224.00 73.65,224.00 73.65,230.00 74.15,230.00 74.15,234.67 74.65,234.67 74.65,239.33 75.15,239.33 75.15,243.33 75.65,243.33 75.65,246.00 76.15,246.00 76.15,248.00 76.65,248.00 76.65,249.33 77.15,249.33 77.15,249.33 77.65,249.33 77.65,248.67 78.15,248.67 78.15,246.67 78.65,246.67 78.65,243.33 79.15,243.33 79.15,240.00 79.65,240.00 79.65,235.33 80.15,235.33 80.15,230.67 80.65,230.67 80.65,224.67 81.15,224.67 81.15,218.67 81.65,218.67 81.65,212.67 82.15,212.67 82.15,206.67 82.65,206.67 82.65,200.67 83.15,200.67 83.15,195.33 83.65,195.33 83.65,190.67 84.15,190.67 84.15,186.67 84.65,186.67 84.65,182.67 85.15,182.67 85.15,180.67 85.65,180.67 85.65,178.67 86.15,178.67 86.15,178.00 86.65,178.00 86.65,178.67 87.15,178.67 87.15,180.00 87.65,180.00 87.65,182.67 88.15,182.67 88.15,186.00 88.65,186.00 88.65,190.67 89.15,190.67 89.15,195.33 89.65,195.33 89.65,200.67 90.15,200.67 90.15,206.67 90.65,206.67 90.65,213.33 91.15,213.33 91.15,219.33 91.65,219.33 91.65,225.33 92.15,225.33 92.15,231.33 92.65,231.33 92.65,236.67 93.15,236.67 93.15,241.33 93.65,241.33 93.65,244.67 94.15,244.67 94.15,248.00 94.65,248.00 94.65,250.00 95.15,250.00 95.15,251.33 95.65,251.33 95.65,251.33 96.15,251.33 96.15,250.00 96.65,250.00 96.65,248.00 97.15,248.00 97.15,244.67 97.65,244.67 97.65,240.67 98.15,240.67 98.15,236.00 98.65,236.00 98.65,230.67 99.15,230.67 99.15,224.67 99.65,224.67 99.65,218.67 100.15,218.67 100.15,212.00 100.65,212.00 100.65,206.00 101.15,206.00 101.15,200.00 101.65,200.00 101.65,194.00 102.15,194.00 102.15,189.33 102.65,189.33 102.65,184.67 103.15,184.67 103.15,181.33 103.65,181.33 103.65,178.67 104.15,178.67 104.15,177.33 104.65,177.33 104.65,176.67 105.15,176.67 105.15,177.33 105.65,177.33 105.65,179.33 106.15,179.33 106.15,182.00 106.65,182.00 106.65,185.33 107.15,185.33 107.15,190.00 107.65,190.00 107.65,195.33 108.15,195.33 108.15,201.33 108.65,201.33 108.65,207.33 109.15,207.33 109.15,214.00 109.65,214.00 109.65,220.00 110.15,220.00 110.15,226.67 110.65,226.67 110.65,232.67 111.15,232.67 111.15,238.00 111.65,238.00 111.65,242.67 112.15,242.67 112.15,246.67 112.65,246.67 112.65,249.33 113.15,249.33 113.15,251.33 113.65,251.33 113.65,252.67 114.15,252.67 114.15,252.67 114.65,252.67 114.65,251.33 115.15,251.33 115.15,248.67 115.65,248.67 115.65,245.33 116.15,245.33 116.15,241.33 116.65,241.33 116.65,236.00 117.15,236.00 117.15,230.67 117.65,230.67 117.65,224.00 118.15,224.00 118.15,218.00 118.65,218.00 118.65,211.33 119.15,211.33 119.15,204.67 119.65,204.67 119.65,198.67 120.15,198.67 120.15,192.67 120.65,192.67 120.65,187.33 121.15,187.33 121.15,183.33 121.65,183.33 121.65,179.33 122.15,179.33 122.15,177.33 122.65,177.33 122.65,176.00 123.15,176.00 123.15,175.33 123.65,175.33 123.65,176.00 124.15,176.00 124.15,178.00 124.65,178.00 124.65,181.33 125.15,181.33 125.15,184.67 125.65,184.67 125.65,190.00 126.15,190.00 126.15,195.33 126.65,195.33 126.65,201.33 127.15,201.33 127.15,208.00 127.65,208.00 127.65,214.67 128.15,214.67 128.15,221.33 128.65,221.33 128.65,227.33 129.15,227.33 129.15,233.33 129.65,233.33 129.65,239.33 130.15,239.33 130.15,244.00 130.65,244.00 130.65,248.00 131.15,248.00 131.15,251.33 131.65,251.33 131.65,252.67 132.15,252.67 132.15,254.00 132.65,254.00 132.65,253.33 133.15,253.33 133.15,252.00 133.65,252.00 133.65,249.33 134.15,249.33 134.15,246.00 134.65,246.00 134.65,241.33 135.15,241.33 135.15,236.00 135.65,236.00 135.65,230.00 136.15,230.00 136.15,224.00 136.65,224.00 136.65,217.33 137.15,217.33 137.15,210.67 137.65,210.67 137.65,204.00 138.15,204.00 138.15,197.33 138.65,197.33 138.65,191.33 139.15,191.33 139.15,186.00 139.65,186.00 139.65,182.00 140.15,182.00 140.15,178.00 140.65,178.00 140.65,176.00 141.15,176.00 141.15,174.67 141.65,174.67 141.65,174.00 142.15,174.00 142.15,175.33 142.65,175.33 142.65,177.33 143.15,177.33 143.15,180.67 143.65,180.67 143.65,184.67 144.15,184.67 144.15,189.33 144.65,189.33 144.65,195.33 145.15,195.33 145.15,202.00 145.65,202.00 145.65,208.67 146.15,208.67 146.15,215.33 146.65,215.33 146.65,222.00 147.15,222.00 147.15,228.67 147.65,228.67 147.65,234.67 148.15,234.67 148.15,240.67 148.65,240.67 148.65,245.33 149.15,245.33 149.15,249.33 149.65,249.33 149.65,252.00 150.15,252.00 150.15,254.00 150.65,254.00 150.65,254.67 151.15,254.67 151.15,254.67 151.65,254.67 151.65,252.67 152.15,252.67 152.15,250.00 152.65,250.00 152.65,246.00 153.15,246.00 153.15,241.33 153.65,241.33 153.65,236.00 154.15,236.00 154.15,230.00 154.65,230.00 154.65,223.33 155.15,223.33 155.15,216.67 155.65,216.67 155.65,209.33 156.15,209.33 156.15,202.67 156.65,202.67 156.65,196.00 157.15,196.00 157.15,190.00 157.65,190.00 157.65,185.33 158.15,185.33 158.15,180.67 158.65,180.67 158.65,177.33 159.15,177.33 159.15,174.67 159.65,174.67 159.65,173.33 160.15,173.33 160.15,173.33 160.65,173.33 160.65,174.67 161.15,174.67 161.15,176.67 161.65,176.67 161.65,180.00 162.15,180.00 162.15,184.67 162.65,184.67 162.65,190.00 163.15,190.00 163.15,195.33 163.65,195.33 163.65,202.00 164.15,202.00 164.15,208.67 164.65,208.67 164.65,216.00 165.15,216.00 165.15,222.67 165.65,222.67 165.65,230.00 166.15,230.00 166.15,236.00 166.65,236.00 166.65,241.33 167.15,241.33 167.15,246.67 167.65,246.67 167.65,250.67 168.15,250.67 168.15,253.33 168.65,253.33 168.65,255.33 169.15,255.33 169.15,256.00 169.65,256.00 169.65,255.33 170.15,255.33 170.15,253.33 170.65,253.33 170.65,250.67 171.15,250.67 171.15,246.67 171.65,246.67 171.65,241.33 172.15,241.33 172.15,236.00 172.65,236.00 172.65,229.33 173.15,229.33 173.15,222.67 173.65,222.67 173.65,216.00 174.15,216.00 174.15,208.67 174.65,208.67 174.65,202.00 175.15,202.00 175.15,195.33 175.65,195.33 175.65,189.33 176.15,189.33 176.15,184.00 176.65,184.00 176.65,179.33 177.15,179.33 177.15,176.00 177.65,176.00 177.65,174.00 178.15,174.00 178.15,172.67 178.65,172.67 178.65,172.67 179.15,172.67 179.15,174.00 179.65,174.00 179.65,176.00 180.15,176.00 180.15,180.00 180.65,180.00 180.65,184.67 181.15,184.67 181.15,190.00 181.65,190.00 181.65,196.00 182.15,196.00 182.15,202.67 182.65,202.67 182.65,209.33 183.15,209.33 183.15,216.67 183.65,216.67 183.65,224.00 184.15,224.00 184.15,230.67 184.65,230.67 184.65,237.33 185.15,237.33 185.15,242.67 185.65,242.67 185.65,247.33 186.15,247.33 186.15,251.33 186.65,251.33 186.65,254.67 187.15,254.67 187.15,256.00 187.65,256.00 187.65,256.67 188.15,256.67 188.15,256.00 188.65,256.00 188.65,254.00 189.15,254.00 189.15,250.67 189.65,250.67 189.65,246.67 190.15,246.67 190.15,241.33 190.65,241.33 190.65,235.33 191.15,235.33 191.15,229.33 191.65,229.33 191.65,222.00 192.15,222.00 192.15,215.33 192.65,215.33 192.65,208.00 193.15,208.00 193.15,200.67 193.65,200.67 193.65,194.00 194.15,194.00 194.15,188.00 194.65,188.00 194.65,182.67 195.15,182.67 195.15,178.67 195.65,178.67 195.65,175.33 196.15,175.33 196.15,172.67 196.65,172.67 196.65,172.00 197.15,172.00 197.15,172.00 197.65,172.00 197.65,173.33 198.15,173.33 198.15,176.00 198.65,176.00 198.65,180.00 199.15,180.00 199.15,184.67 199.65,184.67 199.65,190.00 200.15,190.00 200.15,196.67 200.65,196.67 200.65,203.33 201.15,203.33 201.15,210.67 201.65,210.67 201.65,217.33 202.15,217.33 202.15,224.67 202.65,224.67 202.65,232.00 203.15,232.00 203.15,238.00 203.65,238.00 203.65,244.00 204.15,244.00 204.15,248.67 204.65,248.67 204.65,252.67 205.15,252.67 205.15,255.33 205.65,255.33 205.65,256.67 206.15,256.67 206.15,257.33 206.65,257.33 206.65,256.00 207.15,256.00 207.15,254.00 207.65,254.00 207.65,250.67 208.15,250.67 208.15,246.67 208.65,246.67 208.65,241.33 209.15,241.33 209.15,235.33 209.65,235.33 209.65,228.67 210.15,228.67 210.15,221.33 210.65,221.33 210.65,214.00 211.15,214.00 211.15,206.67 211.65,206.67 211.65,200.00 212.15,200.00 212.15,193.33 212.65,193.33 212.65,187.33 213.15,187.33 213.15,182.00 213.65,182.00 213.65,177.33 214.15,177.33 214.15,174.00 214.65,174.00 214.65,172.00 215.15,172.00 215.15,171.33 215.65,171.33 215.65,171.33 216.15,171.33 216.15,173.33 216.65,173.33 216.65,176.00 217.15,176.00 217.15,180.00 217.65,180.00 217.65,184.67 218.15,184.67 218.15,190.67 218.65,190.67 218.65,196.67 219.15,196.67 219.15,204.00 219.65,204.00 219.65,211.33 220.15,211.33 220.15,218.67 220.65,218.67 220.65,226.00 221.15,226.00 221.15,232.67 221.65,232.67 221.65,239.33 222.15,239.33 222.15,244.67 222.65,244.67 222.65,249.33 223.15,249.33 223.15,253.33 223.65,253.33 223.65,256.00 224.15,256.00 224.15,257.33 224.65,257.33 224.65,258.00 225.15,258.00 225.15,256.67 225.65,256.67 225.65,254.67 226.15,254.67 226.15,250.67 226.65,250.67 226.65,246.67 227.15,246.67 227.15,240.67 227.65,240.67 227.65,234.67 228.15,234.67 228.15,228.00 228.65,228.00 228.65,220.67 229.15,220.67 229.15,213.33 229.65,213.33 229.65,206.00 230.15,206.00 230.15,198.67 230.65,198.67 230.65,192.00 231.15,192.00 231.15,186.00 231.65,186.00 231.65,180.67 232.15,180.67 232.15,176.67 232.65,176.67 232.65,173.33 233.15,173.33 233.15,171.33 233.65,171.33 233.65,170.67 234.15,170.67 234.15,171.33 234.65,171.33 234.65,172.67 235.15,172.67 235.15,176.00 235.65,176.00 235.65,180.00 236.15,180.00 236.15,184.67 236.65,184.67 236.65,190.67 237.15,190.67 237.15,197.33 237.65,197.33 237.65,204.67 238.15,204.67 238.15,212.00 238.65,212.00 238.65,219.33 239.15,219.33 239.15,226.67 239.65,226.67 239.65,233.33 240.15,233.33 240.15,240.00 240.65,240.00 240.65,245.33 241.15,245.33 241.15,250.67 241.65,250.67 241.65,254.00 242.15,254.00 242.15,256.67 242.65,256.67 242.65,258.00 243.15,258.00 243.15,258.00 243.65,258.00 243.65,256.67 244.15,256.67 244.15,254.67 244.65,254.67 244.65,250.67 245.15,250.67 245.15,246.00 245.65,246.00 245.65,240.67 246.15,240.67 246.15,234.00 246.65,234.00 246.65,227.33 247.15,227.33 247.15,220.00 247.65,220.00 247.65,212.67 248.15,212.67 248.15,205.33 248.65,205.33 248.65,198.00 249.15,198.00 249.15,191.33 249.65,191.33 249.65,185.33 250.15,185.33 250.15,180.00 250.65,180.00 250.65,176.00 251.15,176.00 251.15,172.67 251.65,172.67 251.65,170.67 252.15,170.67 252.15,170.00 252.65,170.00 252.65,170.67 253.15,170.67 253.15,172.67 253.65,172.67 253.65,176.00 254.15,176.00 254.15,180.00 254.65,180.00 254.65,185.33 255.15,185.33 255.15,191.33 255.65,191.33 255.65,198.00 256.15,198.00 256.15,205.33 256.65,205.33 256.65,212.67 257.15,212.67 257.15,220.00 257.65,220.00 257.65,227.33 258.15,227.33 258.15,234.67 258.65,234.67 258.65,240.67 259.15,240.67 259.15,246.67 259.65,246.67 259.65,251.33 260.15,251.33 260.15,254.67 260.65,254.67 260.65,257.33 261.15,257.33 261.15,258.67 261.65,258.67 261.65,258.67 262.15,258.67 262.15,257.33 262.65,257.33 262.65,254.67 263.15,254.67 263.15,250.67 263.65,250.67 263.65,246.00 264.15,246.00 264.15,240.00 264.65,240.00 264.65,234.00 265.15,234.00 265.15,226.67 265.65,226.67 265.65,219.33 266.15,219.33 266.15,212.00 266.65,212.00 266.65,204.00 267.15,204.00 267.15,197.33 267.65,197.33 267.65,190.67 268.15,190.67 268.15,184.67 268.65,184.67 268.65,179.33 269.15,179.33 269.15,175.33 269.65,175.33 269.65,172.00 270.15,172.00 270.15,170.00 270.65,170.00 270.65,170.00 271.15,170.00 271.15,170.67 271.65,170.67 271.65,172.67 272.15,172.67 272.15,176.00 272.65,176.00 272.65,180.00 273.15,180.00 273.15,185.33 273.65,185.33 273.65,192.00 274.15,192.00 274.15,198.67 274.65,198.67 274.65,206.00 275.15,206.00 275.15,213.33 275.65,213.33 275.65,221.33 276.15,221.33 276.15,228.67 276.65,228.67 276.65,235.33 277.15,235.33 277.15,242.00 277.65,242.00 277.65,247.33 278.15,247.33 278.15,252.00 278.65,252.00 278.65,255.33 279.15,255.33 279.15,258.00 279.65,258.00 279.65,258.67 280.15,258.67 280.15,258.67 280.65,258.67 280.65,257.33 281.15,257.33 281.15,254.67 281.65,254.67 281.65,250.67 282.15,250.67 282.15,245.33 282.65,245.33 282.65,240.00 283.15,240.00 283.15,233.33 283.65,233.33 283.65,226.00 284.15,226.00 284.15,218.67 284.65,218.67 284.65,210.67 285.15,210.67 285.15,203.33 285.65,203.33 285.65,196.00 286.15,196.00 286.15,189.33 286.65,189.33 286.65,183.33 287.15,183.33 287.15,178.67 287.65,178.67 287.65,174.67 288.15,174.67 288.15,171.33 288.65,171.33 288.65,170.00 289.15,170.00 289.15,169.33 289.65,169.33 289.65,170.67 290.15,170.67 290.15,172.67 290.65,172.67 290.65,176.00 291.15,176.00 291.15,180.67 291.65,180.67 291.65,186.00 292.15,186.00 292.15,192.67 292.65,192.67 292.65,199.33 293.15,199.33 293.15,206.67 293.65,206.67 293.65,214.67 294.15,214.67 294.15,222.00 294.65,222.00 294.65,229.33 295.15,229.33 295.15,236.00 295.65,236.00 295.65,242.67 296.15,242.67 296.15,248.00 296.65,248.00 296.65,252.67 297.15,252.67 297.15,256.00 297.65,256.00 297.65,258.00 298.15,258.00 298.15,259.33 298.65,259.33 298.65,258.67 299.15,258.67 299.15,257.33 299.65,257.33 299.65,254.00 300.15,254.00 300.15,250.00 300.65,250.00 300.65,245.33 301.15,245.33 301.15,239.33 301.65,239.33 301.65,232.67 302.15,232.67 302.15,225.33 302.65,225.33 302.65,217.33 303.15,217.33 303.15,210.00 303.65,210.00 303.65,202.67 304.15,202.67 304.15,195.33 304.65,195.33 304.65,188.67 305.15,188.67 305.15,182.67 305.65,182.67 305.65,178.00 306.15,178.00 306.15,174.00 306.65,174.00 306.65,171.33 307.15,171.33 307.15,169.33 307.65,169.33 307.65,169.33 308.15,169.33 308.15,170.67 308.65,170.67 308.65,172.67 309.15,172.67 309.15,176.00 309.65,176.00 309.65,180.67 310.15,180.67 310.15,186.67 310.65,186.67 310.65,193.33 311.15,193.33 311.15,200.00 311.65,200.00 311.65,207.33 312.15,207.33 312.15,215.33 312.65,215.33 312.65,222.67 313.15,222.67 313.15,230.00 313.65,230.00 313.65,237.33 314.15,237.33 314.15,243.33 314.65,243.33 314.65,248.67 315.15,248.67 315.15,253.33 315.65,253.33 315.65,256.67 316.15,256.67 316.15,258.67 316.65,258.67 316.65,259.33 317.15,259.33 317.15,258.67 317.65,258.67 317.65,257.33 318.15,257.33 318.15,254.00 318.65,254.00 318.65,250.00 319.15,250.00 319.15,244.67 319.65,244.67 319.65,238.67 320.15,238.67 320.15,232.00 320.65,232.00 320.65,224.67 321.15,224.67 321.15,216.67 321.65,216.67 321.65,209.33 322.15,209.33 322.15,201.33 322.65,201.33 322.65,194.67 323.15,194.67 323.15,188.00 323.65,188.00 323.65,182.00 324.15,182.00 324.15,177.33 324.65,177.33 324.65,173.33 325.15,173.33 325.15,170.67 325.65,170.67 325.65,169.33 326.15,169.33 326.15,169.33 326.65,169.33 326.65,170.67 327.15,170.67 327.15,172.67 327.65,172.67 327.65,176.67 328.15,176.67 328.15,181.33 328.65,181.33 328.65,187.33 329.15,187.33 329.15,194.00 329.65,194.00 329.65,200.67 330.15,200.67 330.15,208.67 330.65,208.67 330.65,216.00 331.15,216.00 331.15,224.00 331.65,224.00 331.65,231.33 332.15,231.33 332.15,238.00 332.65,238.00 332.65,244.00 333.15,244.00 333.15,249.33 333.65,249.33 333.65,254.00 334.15,254.00 334.15,257.33 334.65,257.33 334.65,259.33 335.15,259.33 335.15,260.00 335.65,260.00 335.65,259.33 336.15,259.33 336.15,257.33 336.65,257.33 336.65,254.00 337.15,254.00 337.15,249.33 337.65,249.33 337.65,244.00 338.15,244.00 338.15,238.00 338.65,238.00 338.65,231.33 339.15,231.33 339.15,224.00 339.65,224.00 339.65,216.00 340.15,216.00 340.15,208.00 340.65,208.00 340.65,200.67 341.15,200.67 341.15,193.33 341.65,193.33 341.65,186.67 342.15,186.67 342.15,181.33 342.65,181.33 342.65,176.67 343.15,176.67 343.15,172.67 343.65,172.67 343.65,170.00 344.15,170.00 344.15,168.67 344.65,168.67 344.65,169.33 345.15,169.33 345.15,170.67 345.65,170.67 345.65,173.33 346.15,173.33 346.15,176.67 346.65,176.67 346.65,182.00 347.15,182.00 347.15,188.00 347.65,188.00 347.65,194.67 348.15,194.67 348.15,201.33 348.65,201.33 348.65,209.33 349.15,209.33 349.15,216.67 349.65,216.67 349.65,224.67 350.15,224.67 350.15,232.00 350.65,232.00 350.65,238.67 351.15,238.67 351.15,244.67 351.65,244.67 351.65,250.00 352.15,250.00 352.15,254.67 352.65,254.67 352.65,257.33 353.15,257.33 353.15,259.33 353.65,259.33 353.65,260.00 354.15,260.00 354.15,259.33 354.65,259.33 354.65,256.67 355.15,256.67 355.15,253.33 355.65,253.33 355.65,249.33 356.15,249.33 356.15,244.00 356.65,244.00 356.65,237.33 357.15,237.33 357.15,230.67 357.65,230.67 357.65,222.67 358.15,222.67 358.15,215.33 358.65,215.33 358.65,207.33 359.15,207.33 359.15,200.00 359.65,200.00 359.65,192.67 360.15,192.67 360.15,186.00 360.65,186.00 360.65,180.67 361.15,180.67 361.15,176.00 361.65,176.00 361.65,172.00 362.15,172.00 362.15,170.00 362.65,170.00 362.65,168.67 363.15,168.67 363.15,168.67 363.65,168.67 363.65,170.67 364.15,170.67 364.15,173.33 364.65,173.33 364.65,177.33 365.15,177.33 365.15,182.00 365.65,182.00 365.65,188.00 366.15,188.00 366.15,195.33 366.65,195.33 366.65,202.67 367.15,202.67 367.15,210.00 367.65,210.00 367.65,218.00 368.15,218.00 368.15,225.33 368.65,225.33 368.65,232.67 369.15,232.67 369.15,239.33 369.65,239.33 369.65,246.00 370.15,246.00 370.15,250.67 370.65,250.67 370.65,254.67 371.15,254.67 371.15,258.00 371.65,258.00 371.65,259.33 372.15,259.33 372.15,260.00 372.65,260.00 372.65,259.33 373.15,259.33 373.15,256.67 373.65,256.67 373.65,253.33 374.15,253.33 374.15,248.67 374.65,248.67 374.65,243.33 375.15,243.33 375.15,236.67 375.65,236.67 375.65,229.33 376.15,229.33 376.15,222.00 376.65,222.00 376.65,214.00 377.15,214.00 377.15,206.67 377.65,206.67 377.65,199.33 378.15,199.33 378.15,192.00 378.65,192.00 378.65,185.33 379.15,185.33 379.15,180.00 379.65,180.00 379.65,175.33 380.15,175.33 380.15,172.00 380.65,172.00 380.65,169.33 381.15,169.33 381.15,168.67 381.65,168.67 381.65,168.67 382.15,168.67 382.15,170.67 382.65,170.67 382.65,173.33 383.15,173.33 383.15,177.33 383.65,177.33 383.65,182.67 384.15,182.67 384.15,188.67 384.65,188.67 384.65,196.00 385.15,196.00 385.15,203.33 385.65,203.33 385.65,210.67 386.15,210.67 386.15,218.67 386.65,218.67 386.65,226.00 387.15,226.00 387.15,233.33 387.65,233.33 387.65,240.67 388.15,240.67 388.15,246.67 388.65,246.67 388.65,251.33 389.15,251.33 389.15,255.33 389.65,255.33 389.65,258.00 390.15,258.00 390.15,260.00 390.65,260.00 390.65,260.00 391.15,260.00 391.15,258.67 391.65,258.67 391.65,256.67 392.15,256.67 392.15,252.67 392.65,252.67 392.65,248.00 393.15,248.00 393.15,242.67 393.65,242.67 393.65,236.00 394.15,236.00 394.15,228.67 394.65,228.67 394.65,221.33 395.15,221.33 395.15,213.33 395.65,213.33 395.65,206.00 396.15,206.00 396.15,198.00 396.65,198.00 396.65,191.33 397.15,191.33 397.15,184.67 397.65,184.67 397.65,179.33 398.15,179.33 398.15,174.67 398.65,174.67 398.65,171.33 399.15,171.33 399.15,169.33 399.65,169.33 399.65,168.67 400.15,168.67 400.15,168.67 400.65,168.67 400.65,170.67 401.15,170.67 401.15,174.00 401.65,174.00 401.65,178.00 402.15,178.00 402.15,183.33 402.65,183.33 402.65,189.33 403.15,189.33 403.15,196.67 403.65,196.67 403.65,204.00 404.15,204.00 404.15,212.00 404.65,212.00 404.65,219.33 405.15,219.33 405.15,227.33 405.65,227.33 405.65,234.67 406.15,234.67 406.15,241.33 406.65,241.33 406.65,247.33 407.15,247.33 407.15,252.00 407.65,252.00 407.65,256.00 408.15,256.00 408.15,258.67 408.65,258.67 408.65,260.00 409.15,260.00 409.15,260.00 409.65,260.00 409.65,258.67 410.15,258.67 410.15,256.67 410.65,256.67 410.65,252.67 411.15,252.67 411.15,248.00 411.65,248.00 411.65,242.00 412.15,242.00 412.15,235.33 412.65,235.33 412.65,228.00 413.15,228.00 413.15,220.67 413.65,220.67 413.65,212.67 414.15,212.67 414.15,204.67 414.65,204.67 414.65,197.33 415.15,197.33 415.15,190.00 415.65,190.00 415.65,184.00 416.15,184.00 416.15,178.67 416.65,178.67 416.65,174.00 417.15,174.00 417.15,170.67 417.65,170.67 417.65,168.67 418.15,168.67 418.15,168.00 418.65,168.00 418.65,168.67 419.15,168.67 419.15,170.67 419.65,170.67 419.65,174.00 420.15,174.00 420.15,178.67 420.65,178.67 420.65,184.00 421.15,184.00 421.15,190.00 421.65,190.00 421.65,197.33 422.15,197.33 422.15,204.67 422.65,204.67 422.65,212.67 423.15,212.67 423.15,220.67 423.65,220.67 423.65,228.00 424.15,228.00 424.15,235.33 424.65,235.33 424.65,242.00 425.15,242.00 425.15,248.00 425.65,248.00 425.65,252.67 426.15,252.67 426.15,256.67 426.65,256.67 426.65,258.67 427.15,258.67 427.15,260.00 427.65,260.00 427.65,260.00 428.15,260.00 428.15,258.67 428.65,258.67 428.65,256.00 429.15,256.00 429.15,252.00 429.65,252.00 429.65,247.33 430.15,247.33 430.15,241.33 430.65,241.33 430.65,234.67 431.15,234.67 431.15,227.33 431.65,227.33 431.65,219.33 432.15,219.33 432.15,212.00 432.65,212.00 432.65,204.00 433.15,204.00 433.15,196.67 433.65,196.67 433.65,189.33 434.15,189.33 434.15,183.33 434.65,183.33 434.65,178.00 435.15,178.00 435.15,173.33 435.65,173.33 435.65,170.67 436.15,170.67 436.15,168.67 436.65,168.67 436.65,168.00 437.15,168.00 437.15,169.33 437.65,169.33 437.65,171.33 438.15,171.33 438.15,174.67 438.65,174.67 438.65,178.67 439.15,178.67 439.15,184.67 439.65,184.67 439.65,190.67 440.15,190.67 440.15,198.00 440.65,198.00 440.65,205.33 441.15,205.33 441.15,213.33 441.65,213.33 441.65,221.33 442.15,221.33 442.15,228.67 442.65,228.67 442.65,236.00 443.15,236.00 443.15,242.67 443.65,242.67 443.65,248.67 444.15,248.67 444.15,253.33 444.65,253.33 444.65,256.67 445.15,256.67 445.15,259.33 445.65,259.33 445.65,260.67 446.15,260.67 446.15,260.00 446.65,260.00 446.65,258.67 447.15,258.67 447.15,256.00 447.65,256.00 447.65,252.00 448.15,252.00 448.15,246.67 448.65,246.67 448.65,240.67 449.15,240.67 449.15,234.00 449.65,234.00 449.65,226.67 450.15,226.67 450.15,218.67 450.65,218.67 450.65,210.67 451.15,210.67 451.15,203.33 451.65,203.33 451.65,196.00 452.15,196.00 452.15,188.67 452.65,188.67 452.65,182.67 453.15,182.67 453.15,177.33 453.65,177.33 453.65,173.33 454.15,173.33 454.15,170.00 454.65,170.00 454.65,168.67 455.15,168.67 455.15,168.00 455.65,168.00 455.65,169.33 456.15,169.33 456.15,171.33 456.65,171.33 456.65,174.67 457.15,174.67 457.15,179.33 457.65,179.33 457.65,185.33 458.15,185.33 458.15,192.00 458.65,192.00 458.65,198.67 459.15,198.67 459.15,206.67 459.65,206.67 459.65,214.00 460.15,214.00 460.15,222.00 460.65,222.00 460.65,230.00 461.15,230.00 461.15,236.67 461.65,236.67 461.65,243.33 462.15,243.33 462.15,249.33 462.65,249.33 462.65,254.00 463.15,254.00 463.15,257.33 463.65,257.33 463.65,259.33 464.15,259.33 464.15,260.67 464.65,260.67 464.65,260.00 465.15,260.00 465.15,258.67 465.65,258.67 465.65,255.33 466.15,255.33 466.15,251.33 466.65,251.33 466.65,246.00 467.15,246.00 467.15,240.00 467.65,240.00 467.65,233.33 468.15,233.33 468.15,225.33 468.65,225.33 468.65,218.00 469.15,218.00 469.15,210.00 469.65,210.00 469.65,202.00 470.15,202.00 470.15,194.67 470.65,194.67 470.65,188.00 471.15,188.00 471.15,182.00 471.65,182.00 471.65,176.67 472.15,176.67 472.15,172.67 472.65,172.67 472.65,170.00 473.15,170.00 473.15,168.67 473.65,168.67 473.65,168.00 474.15,168.00 474.15,169.33 474.65,169.33 474.65,171.33 475.15,171.33 475.15,175.33 475.65,175.33 475.65,180.00 476.15,180.00 476.15,186.00 476.65,186.00 476.65,192.67 477.15,192.67 477.15,199.33 477.65,199.33 477.65,207.33 478.15,207.33 478.15,215.33 478.65,215.33 478.65,222.67 479.15,222.67 479.15,230.67 479.65,230.67 479.65,237.33 480.15,237.33 480.15,244.00 480.65,244.00 480.65,250.00 481.15,250.00 481.15,254.00 481.65,254.00 481.65,257.33 482.15,257.33 482.15,260.00 482.65,260.00 482.65,260.67 483.15,260.67 483.15,260.00 483.65,260.00 483.65,258.00 484.15,258.00 484.15,255.33 484.65,255.33 484.65,250.67 485.15,250.67 485.15,245.33 485.65,245.33 485.65,239.33 486.15,239.33 486.15,232.00 486.65,232.00 486.65,224.67 487.15,224.67 487.15,216.67 487.65,216.67 487.65,209.33 488.15,209.33 488.15,201.33 488.65,201.33 488.65,194.00 489.15,194.00 489.15,187.33 489.65,187.33 489.65,181.33 490.15,181.33 490.15,176.00 490.65,176.00 490.65,172.67 491.15,172.67 491.15,169.33 491.65,169.33 491.65,168.00 492.15,168.00 492.15,168.00 492.65,168.00 492.65,169.33 493.15,169.33 493.15,172.00 493.65,172.00 493.65,176.00 494.15,176.00 494.15,180.67 494.65,180.67 494.65,186.67 495.15,186.67 495.15,193.33 495.65,193.33 495.65,200.67 496.15,200.67 496.15,208.00 496.65,208.00 496.65,216.00 497.15,216.00 497.15,224.00 497.65,224.00 497.65,231.33 498.15,231.33 498.15,238.67 498.65,238.67 498.65,244.67 499.15,244.67 499.15,250.00 499.65,250.00 499.65,254.67 500.15,254.67 500.15,258.00 500.65,258.00 500.65,260.00 501.15,260.00 501.15,260.67 501.65,260.67 501.65,260.00 502.15,260.00 502.15,258.00 502.65,258.00 502.65,254.67 503.15,254.67 503.15,250.67 503.65,250.67 503.65,244.67 504.15,244.67 504.15,238.67 504.65,238.67 504.65,231.33 505.15,231.33 505.15,224.00 505.65,224.00 505.65,216.00 506.15,216.00 506.15,208.00 506.65,208.00 506.65,200.67 507.15,200.67 507.15,193.33 507.65,193.33 507.65,186.67 508.15,186.67 508.15,180.67 508.65,180.67 508.65,176.00 509.15,176.00 509.15,172.00 509.65,172.00 509.65,169.33 510.15,169.33 510.15,168.00 510.65,168.00 510.65,168.00 511.15,168.00 511.15,169.33 511.65,169.33 511.65,172.00 512.15,172.00 512.15,176.00 512.65,176.00 512.65,181.33 513.15,181.33 513.15,187.33 513.65,187.33 513.65,194.00 514.15,194.00 514.15,201.33 514.65,201.33 514.65,208.67 515.15,208.67 515.15,216.67 515.65,216.67 515.65,224.67 516.15,224.67 516.15,232.00 516.65,232.00 516.65,239.33 517.15,239.33 517.15,245.33 517.65,245.33 517.65,250.67 518.15,250.67 518.15,255.33 518.65,255.33 518.65,258.00 519.15,258.00 519.15,260.00 519.65,260.00 519.65,260.67 520.15,260.67 520.15,260.00 520.65,260.00 520.65,258.00 521.15,258.00 521.15,254.67 521.65,254.67 521.65,250.00 522.15,250.00 522.15,244.00 522.65,244.00 522.65,238.00 523.15,238.00 523.15,230.67 523.65,230.67 523.65,223.33 524.15,223.33 524.15,215.33 524.65,215.33 524.65,207.33 525.15,207.33 525.15,200.00 525.65,200.00 525.65,192.67 526.15,192.67 526.15,186.00 526.65,186.00 526.65,180.00 527.15,180.00 527.15,175.33 527.65,175.33 527.65,171.33 528.15,171.33 528.15,169.33 528.65,169.33 528.65,168.00 529.15,168.00 529.15,168.00 529.65,168.00 529.65,170.00 530.15,170.00 530.15,172.67 530.65,172.67 530.65,176.67 531.15,176.67 531.15,182.00 531.65,182.00 531.65,188.00 532.15,188.00 532.15,194.67 532.65,194.67 532.65,202.00 533.15,202.00 533.15,210.00 533.65,210.00 533.65,218.00 534.15,218.00 534.15,225.33 534.65,225.33 534.65,232.67 535.15,232.67 535.15,240.00 535.65,240.00 535.65,246.00 536.15,246.00 536.15,251.33 536.65,251.33 536.65,255.33 537.15,255.33 537.15,258.67 537.65,258.67 537.65,260.00 538.15,260.00 538.15,260.67 538.65,260.67 538.65,260.00 539.15,260.00 539.15,257.33 539.65,257.33 539.65,254.00 540.15,254.00 540.15,249.33 540.65,249.33 540.65,243.33 541.15,243.33 541.15,237.33 541.65,237.33 541.65,230.00 542.15,230.00 542.15,222.00 542.65,222.00 542.65,214.67 543.15,214.67 543.15,206.67 543.65,206.67 543.65,198.67 544.15,198.67 544.15,192.00 544.65,192.00 544.65,185.33 545.15,185.33 545.15,179.33 545.65,179.33 545.65,174.67 546.15,174.67 546.15,171.33 546.65,171.33 546.65,168.67 547.15,168.67 547.15,168.00 547.65,168.00 547.65,168.00 548.15,168.00 548.15,170.00 548.65,170.00 548.65,172.67 549.15,172.67 549.15,177.33 549.65,177.33 549.65,182.00 550.15,182.00 550.15,188.67 550.65,188.67 550.65,195.33 551.15,195.33 551.15,202.67 551.65,202.67 551.65,210.67 552.15,210.67 552.15,218.67 552.65,218.67 552.65,226.67 553.15,226.67 553.15,234.00 553.65,234.00 553.65,240.67 554.15,240.67 554.15,246.67 554.65,246.67 554.65,252.00 555.15,252.00 555.15,256.00 555.65,256.00 555.65,258.67 556.15,258.67 556.15,260.67 556.65,260.67 556.65,260.67 557.15,260.67 557.15,259.33 557.65,259.33 557.65,257.33 558.15,257.33 558.15,253.33 558.65,253.33 558.65,248.67 559.15,248.67 559.15,242.67 559.65,242.67 559.65,236.67 560.15,236.67 560.15,229.33 560.65,229.33 560.65,221.33 561.15,221.33 561.15,213.33 561.65,213.33 561.65,205.33 562.15,205.33 562.15,198.00 562.65,198.00 562.65,190.67 563.15,190.67 563.15,184.67 563.65,184.67 563.65,178.67 564.15,178.67 564.15,174.00 564.65,174.00 564.65,170.67 565.15,170.67 565.15,168.67 565.65,168.67 565.65,168.00 566.15,168.00 566.15,168.67 566.65,168.67 566.65,170.00 567.15,170.00 567.15,173.33 567.65,173.33 567.65,177.33 568.15,177.33 568.15,182.67 568.65,182.67 568.65,189.33 569.15,189.33 569.15,196.00 569.65,196.00 569.65,204.00 570.15,204.00 570.15,211.33 570.65,211.33 570.65,219.33 571.15,219.33 571.15,227.33 571.65,227.33 571.65,234.67 572.15,234.67 572.15,241.33 572.65,241.33 572.65,247.33 573.15,247.33 573.15,252.67 573.65,252.67 573.65,256.67 574.15,256.67 574.15,259.33 574.65,259.33 574.65,260.67 575.15,260.67 575.15,260.67 575.65,260.67 575.65,259.33 576.15,259.33 576.15,256.67 576.65,256.67 576.65,253.33 577.15,253.33 577.15,248.00 577.65,248.00 577.65,242.00 578.15,242.00 578.15,235.33 578.65,235.33 578.65,228.00 579.15,228.00 579.15,220.67 579.65,220.67 579.65,212.67 580.15,212.67 580.15,204.67 580.65,204.67 580.65,197.33 581.15,197.33 581.15,190.00 581.65,190.00 581.65,184.00 582.15,184.00 582.15,178.00 582.65,178.00 582.65,174.00 583.15,174.00 583.15,170.67 583.65,170.67 583.65,168.67 584.15,168.67 584.15,168.00 584.65,168.00 584.65,168.67 585.15,168.67 585.15,170.67 585.65,170.67 585.65,174.00 586.15,174.00 586.15,178.00 586.65,178.00 586.65,183.33 587.15,183.33 587.15,190.00 587.65,190.00 587.65,197.33 588.15,197.33 588.15,204.67 588.65,204.67 588.65,212.67 589.15,212.67 589.15,220.00 589.65,220.00 589.65,228.00 590.15,228.00 590.15,235.33 590.65,235.33 590.65,242.00 591.15,242.00 591.15,248.00 591.65,248.00 591.65,252.67 592.15,252.67 592.15,256.67 592.65,256.67 592.65,259.33 593.15,259.33 593.15,260.67 593.65,260.67 593.65,260.67 594.15,260.67 594.15,259.33 594.65,259.33 594.65,256.67 595.15,256.67 595.15,252.67 595.65,252.67 595.65,247.33 596.15,247.33 596.15,241.33 596.65,241.33 596.65,234.67 597.15,234.67 597.15,227.33 597.65,227.33 597.65,220.00 598.15,220.00 598.15,212.00 598.65,212.00 598.65,204.00 599.15,204.00 599.15,196.67 599.65,196.67 599.65,189.33 600.15,189.33 600.15,183.33 600.65,183.33 600.65,178.00 601.15,178.00 601.15,173.33 601.65,173.33 601.65,170.00 602.15,170.00 602.15,168.67 602.65,168.67 602.65,168.00 603.15,168.00 603.15,168.67 603.65,168.67 603.65,170.67 604.15,170.67 604.15,174.00 604.65,174.00 604.65,178.67 605.15,178.67 605.15,184.00 605.65,184.00 605.65,190.67 606.15,190.67 606.15,198.00 606.65,198.00 606.65,205.33 607.15,205.33 607.15,213.33 607.65,213.33 607.65,221.33 608.15,221.33 608.15,228.67 608.65,228.67 608.65,236.00 609.15,236.00 609.15,242.67 609.65,242.67 609.65,248.67 610.15,248.67 610.15,253.33 610.65,253.33 610.65,257.33 611.15,257.33 611.15,259.33 611.65,259.33 611.65,260.67 612.15,260.67 612.15,260.67 612.65,260.67 612.65,258.67 613.15,258.67 613.15,256.00 613.65,256.00 613.65,252.00 614.15,252.00 614.15,246.67 614.65,246.67 614.65,240.67 615.15,240.67 615.15,234.00 615.65,234.00 615.65,226.67 616.15,226.67 616.15,218.67 616.65,218.67 616.65,210.67 617.15,210.67 617.15,203.33 617.65,203.33 617.65,195.33 618.15,195.33 618.15,188.67 618.65,188.67 618.65,182.67 619.15,182.67 619.15,177.33 619.65,177.33 619.65,172.67 620.15,172.67 620.15,170.00 620.65,170.00 620.65,168.00 621.15,168.00 621.15,168.00 621.65,168.00 621.65,168.67 622.15,168.67 622.15,170.67 622.65,170.67 622.65,174.67 623.15,174.67 623.15,179.33 623.65,179.33 623.65,184.67 624.15,184.67 624.15,191.33 624.65,191.33 624.65,198.67 625.15,198.67 625.15,206.00 625.65,206.00 625.65,214.00 626.15,214.00 626.15,222.00 626.65,222.00 626.65,230.00 627.15,230.00 627.15,236.67 627.65,236.67 627.65,243.33 628.15,243.33 628.15,249.33 628.65,249.33 628.65,254.00 629.15,254.00 629.15,257.33 629.65,257.33 629.65,260.00 630.15,260.00 630.15,260.67 630.65,260.67 630.65,260.67 631.15,260.67 631.15,258.67 631.65,258.67 631.65,256.00 632.15,256.00 632.15,251.33 632.65,251.33 632.65,246.67 633.15,246.67 633.15,240.00 633.65,240.00 633.65,233.33 634.15,233.33 634.15,226.00 634.65,226.00 634.65,218.00 635.15,218.00 635.15,210.00 635.65,210.00 635.65,202.00 636.15,202.00 636.15,194.67 636.65,194.67 636.65,188.00 637.15,188.00 637.15,182.00 637.65,182.00 637.65,176.67 638.15,176.67 638.15,172.67 638.65,172.67 638.65,170.00 639.15,170.00 639.15,168.00 639.65,168.00 639.65,168.00 640.15,168.00 640.15,168.67 640.65,168.67 640.65,171.33 641.15,171.33 641.15,174.67 641.65,174.67 641.65,180.00 642.15,180.00 642.15,185.33 642.65,185.33 642.65,192.00 643.15,192.00 643.15,199.33 643.65,199.33 643.65,207.33 644.15,207.33 644.15,215.33 644.65,215.33 644.65,222.67 645.15,222.67 645.15,230.67 645.65,230.67 645.65,238.00 646.15,238.00 646.15,244.00 646.65,244.00 646.65,250.00 647.15,250.00 647.15,254.67 647.65,254.67 647.65,258.00 648.15,258.00 648.15,260.00 648.65,260.00 648.65,260.67 649.15,260.67 649.15,260.67 649.65,260.67 649.65,258.67 650.15,258.67 650.15,255.33 650.65,255.33 650.65,251.33 651.15,251.33 651.15,246.00 651.65,246.00 651.65,239.33 652.15,239.33 652.15,232.67 652.65,232.67 652.65,224.67 653.15,224.67 653.15,217.33 653.65,217.33 653.65,209.33 654.15,209.33 654.15,201.33 654.65,201.33 654.65,194.00 655.15,194.00 655.15,187.33 655.65,187.33 655.65,181.33 656.15,181.33 656.15,176.00 656.65,176.00 656.65,172.00 657.15,172.00 657.15,169.33 657.65,169.33 657.65,168.00 658.15,168.00 658.15,168.00 658.65,168.00 658.65,169.33 659.15,169.33 659.15,171.33 659.65,171.33 659.65,175.33 660.15,175.33 660.15,180.67 660.65,180.67 660.65,186.00 661.15,186.00 661.15,192.67 661.65,192.67 661.65,200.00 662.15,200.00 662.15,208.00 662.65,208.00 662.65,216.00 663.15,216.00 663.15,224.00 663.65,224.00 663.65,231.33 664.15,231.33 664.15,238.67 664.65,238.67 664.65,244.67 665.15,244.67 665.15,250.67 665.65,250.67 665.65,254.67 666.15,254.67 666.15,258.00 666.65,258.00 666.65,260.00 667.15,260.00 667.15,260.67 667.65,260.67 667.65,260.00 668.15,260.00 668.15,258.00 668.65,258.00 668.65,254.67 669.15,254.67 669.15,250.67 669.65,250.67 669.65,245.33 670.15,245.33 670.15,238.67 670.65,238.67 670.65,232.00 671.15,232.00 671.15,224.00 671.65,224.00 671.65,216.00 672.15,216.00 672.15,208.00 672.65,208.00 672.65,200.67 673.15,200.67 673.15,193.33 673.65,193.33 673.65,186.67 674.15,186.67 674.15,180.67 674.65,180.67 674.65,175.33 675.15,175.33 675.15,172.00 675.65,172.00 675.65,169.33 676.15,169.33 676.15,168.00 676.65,168.00 676.65,168.00 677.15,168.00 677.15,169.33 677.65,169.33 677.65,172.00 678.15,172.00 678.15,176.00 678.65,176.00 678.65,178.67 679.15,178.67"/>
<polyline class="ln" stroke="#0A8214" points="32.25,183.33 32.75,183.33 32.75,182.00 33.25,182.00 33.25,180.67 33.75,180.67 33.75,180.67 34.25,180.67 34.25,180.00 34.75,180.00 34.75,178.67 35.25,178.67 35.25,176.67 35.75,176.67 35.75,174.67 36.25,174.67 36.25,173.33 36.75,173.33 36.75,172.00 37.25,172.00 37.25,172.00 37.75,172.00 37.75,173.33 38.25,173.33 38.25,176.00 38.75,176.00 38.75,178.67 39.25,178.67 39.25,181.33 39.75,181.33 39.75,185.33 40.25,185.33 40.25,190.00 40.75,190.00 40.75,196.00 41.25,196.00 41.25,202.67 41.75,202.67 41.75,210.00 42.25,210.00 42.25,216.00 42.75,216.00 42.75,222.00 43.25,222.00 43.25,227.33 43.75,227.33 43.75,232.67 44.25,232.67 44.25,236.67 44.75,236.67 44.75,240.00 45.25,240.00 45.25,242.67 45.75,242.67 45.75,244.00 46.25,244.00 46.25,245.33 46.75,245.33 46.75,244.67 47.25,244.67 47.25,243.33 47.75,243.33 47.75,240.67 48.25,240.67 48.25,237.33 48.75,237.33 48.75,233.33 49.25,233.33 49.25,228.67 49.75,228.67 49.75,224.00 50.25,224.00 50.25,218.67 50.75,218.67 50.75,212.67 51.25,212.67 51.25,207.33 51.75,207.33 51.75,202.67 52.25,202.67 52.25,197.33 52.75,197.33 52.75,192.67 53.25,192.67 53.25,188.67 53.75,188.67 53.75,185.33 54.25,185.33 54.25,183.33 54.75,183.33 54.75,181.33 55.25,181.33 55.25,180.67 55.75,180.67 55.75,180.67 56.25,180.67 56.25,182.00 56.75,182.00 56.75,184.00 57.25,184.00 57.25,186.67 57.75,186.67 57.75,190.67 58.25,190.67 58.25,195.33 58.75,195.33 58.75,200.00 59.25,200.00 59.25,205.33 59.75,205.33 59.75,210.67 60.25,210.67 60.25,216.67 60.75,216.67 60.75,222.00 61.25,222.00 61.25,228.00 61.75,228.00 61.75,232.67 62.25,232.67 62.25,237.33 62.75,237.33 62.75,241.33 63.25,241.33 63.25,244.00 63.75,244.00 63.75,246.67 64.25,246.67 64.25,247.33 64.75,247.33 64.75,248.00 65.25,248.00 65.25,247.33 65.75,247.33 65.75,245.33 66.25,245.33 66.25,242.67 66.75,242.67 66.75,239.33 67.25,239.33 67.25,235.33 67.75,235.33 67.75,230.67 68.25,230.67 68.25,225.33 68.75,225.33 68.75,220.00 69.25,220.00 69.25,214.00 69.75,214.00 69.75,208.00 70.25,208.00 70.25,202.67 70.75,202.67 70.75,197.33 71.25,197.33 71.25,192.00 71.75,192.00 71.75,188.00 72.25,188.00 72.25,184.67 72.75,184.67 72.75,182.00 73.25,182.00 73.25,180.00 73.75,180.00 73.75,179.33 74.25,179.33 74.25,180.00 74.75,180.00 74.75,180.67 75.25,180.67 75.25,183.33 75.75,183.33 75.75,186.67 76.25,186.67 76.25,190.67 76.75,190.67 76.75,195.33 77.25,195.33 77.25,200.00 77.75,200.00 77.75,206.00 78.25,206.00 78.25,212.00 78.75,212.00 78.75,218.00 79.25,218.00 79.25,224.00 79.75,224.00 79.75,229.33 80.25,229.33 80.25,234.67 80.75,234.67 80.75,239.33 81.25,239.33 81.25,243.33 81.75,243.33 81.75,246.67 82.25,246.67 82.25,248.67 82.75,248.67 82.75,250.00 83.25,250.00 83.25,250.00 83.75,250.00 83.75,249.33 84.25,249.33 84.25,247.33 84.75,247.33 84.75,244.67 85.25,244.67 85.25,240.67 85.75,240.67 85.75,236.00 86.25,236.00 86.25,231.33 86.75,231.33 86.75,225.33 87.25,225.33 87.25,219.33 87.75,219.33 87.75,213.33 88.25,213.33 88.25,207.33 88.75,207.33 88.75,201.33 89.25,201.33 89.25,196.00 89.75,196.00 89.75,190.67 90.25,190.67 90.25,186.00 90.75,186.00 90.75,182.67 91.25,182.67 91.25,180.00 91.75,180.00 91.75,178.67 92.25,178.67 92.25,178.00 92.75,178.00 92.75,178.00 93.25,178.00 93.25,179.33 93.75,179.33 93.75,182.00 94.25,182.00 94.25,185.33 94.75,185.33 94.75,190.00 95.25,190.00 95.25,194.67 95.75,194.67 95.75,200.00 96.25,200.00 96.25,206.00 96.75,206.00 96.75,212.67 97.25,212.67 97.25,218.67 97.75,218.67 97.75,224.67 98.25,224.67 98.25,230.67 98.75,230.67 98.75,236.00 99.25,236.00 99.25,241.33 99.75,241.33 99.75,245.33 100.25,245.33 100.25,248.00 100.75,248.00 100.75,250.67 101.25,250.67 101.25,251.33 101.75,251.33 101.75,251.33 102.25,251.33 102.25,250.67 102.75,250.67 102.75,248.67 103.25,248.67 103.25,245.33 103.75,245.33 103.75,241.33 104.25,241.33 104.25,236.67 104.75,236.67 104.75,231.33 105.25,231.33 105.25,225.33 105.75,225.33 105.75,218.67 106.25,218.67 106.25,212.67 106.75,212.67 106.75,206.00 107.25,206.00 107.25,200.00 107.75,200.00 107.75,194.00 108.25,194.00 108.25,189.33 108.75,189.33 108.75,184.67 109.25,184.67 109.25,181.33 109.75,181.33 109.75,178.67 110.25,178.67 110.25,176.67 110.75,176.67 110.75,176.00 111.25,176.00 111.25,176.67 111.75,176.67 111.75,178.67 112.25,178.67 112.25,181.33 112.75,181.33 112.75,184.67 113.25,184.67 113.25,189.33 113.75,189.33 113.75,194.67 114.25,194.67 114.25,200.67 114.75,200.67 114.75,206.67 115.25,206.67 115.25,213.33 115.75,213.33 115.75,220.00 116.25,220.00 116.25,226.00 116.75,226.00 116.75,232.00 117.25,232.00 117.25,238.00 117.75,238.00 117.75,242.67 118.25,242.67 118.25,246.67 118.75,246.67 118.75,250.00 119.25,250.00 119.25,252.00 119.75,252.00 119.75,252.67 120.25,252.67 120.25,252.67 120.75,252.67 120.75,251.33 121.25,251.33 121.25,249.33 121.75,249.33 121.75,246.00 122.25,246.00 122.25,242.00 122.75,242.00 122.75,236.67 123.25,236.67 123.25,231.33 123.75,231.33 123.75,224.67 124.25,224.67 124.25,218.67 124.75,218.67 124.75,212.00 125.25,212.00 125.25,205.33 125.75,205.33 125.75,198.67 126.25,198.67 126.25,192.67 126.75,192.67 126.75,188.00 127.25,188.00 127.25,183.33 127.75,183.33 127.75,179.33 128.25,179.33 128.25,176.67 128.75,176.67 128.75,175.33 129.25,175.33 129.25,174.67 129.75,174.67 129.75,176.00 130.25,176.00 130.25,177.33 130.75,177.33 130.75,180.67 131.25,180.67 131.25,184.00 131.75,184.00 131.75,189.33 132.25,189.33 132.25,194.67 132.75,194.67 132.75,200.67 133.25,200.67 133.25,207.33 133.75,207.33 133.75,214.00 134.25,214.00 134.25,220.67 134.75,220.67 134.75,227.33 135.25,227.33 135.25,233.33 135.75,233.33 135.75,238.67 136.25,238.67 136.25,244.00 136.75,244.00 136.75,248.00 137.25,248.00 137.25,251.33 137.75,251.33 137.75,253.33 138.25,253.33 138.25,254.00 138.75,254.00 138.75,254.00 139.25,254.00 139.25,252.67 139.75,252.67 139.75,250.00 140.25,250.00 140.25,246.67 140.75,246.67 140.75,242.00 141.25,242.00 141.25,236.67 141.75,236.67 141.75,230.67 142.25,230.67 142.25,224.67 142.75,224.67 142.75,218.00 143.25,218.00 143.25,210.67 143.75,210.67 143.75,204.00 144.25,204.00 144.25,198.00 144.75,198.00 144.75,192.00 145.25,192.00 145.25,186.67 145.75,186.67 145.75,182.00 146.25,182.00 146.25,178.00 146.75,178.00 146.75,176.00 147.25,176.00 147.25,174.00 147.75,174.00 147.75,174.00 148.25,174.00 148.25,174.67 148.75,174.67 148.75,176.67 149.25,176.67 149.25,180.00 149.75,180.00 149.75,184.00 150.25,184.00 150.25,189.33 150.75,189.33 150.75,194.67 151.25,194.67 151.25,201.33 151.75,201.33 151.75,208.00 152.25,208.00 152.25,214.67 152.75,214.67 152.75,221.33 153.25,221.33 153.25,228.00 153.75,228.00 153.75,234.67 154.25,234.67 154.25,240.00 154.75,240.00 154.75,245.33 155.25,245.33 155.25,249.33 155.75,249.33 155.75,252.67 156.25,252.67 156.25,254.67 156.75,254.67 156.75,255.33 157.25,255.33 157.25,254.67 157.75,254.67 157.75,253.33 158.25,253.33 158.25,250.67 158.75,250.67 158.75,246.67 159.25,246.67 159.25,242.00 159.75,242.00 159.75,236.67 160.25,236.67 160.25,230.67 160.75,230.67 160.75,224.00 161.25,224.00 161.25,217.33 161.75,217.33 161.75,210.00 162.25,210.00 162.25,203.33 162.75,203.33 162.75,196.67 163.25,196.67 163.25,190.67 163.75,190.67 163.75,185.33 164.25,185.33 164.25,180.67 164.75,180.67 164.75,177.33 165.25,177.33 165.25,174.67 165.75,174.67 165.75,173.33 166.25,173.33 166.25,173.33 166.75,173.33 166.75,174.00 167.25,174.00 167.25,176.00 167.75,176.00 167.75,179.33 168.25,179.33 168.25,184.00 168.75,184.00 168.75,189.33 169.25,189.33 169.25,194.67 169.75,194.67 169.75,201.33 170.25,201.33 170.25,208.67 170.75,208.67 170.75,215.33 171.25,215.33 171.25,222.67 171.75,222.67 171.75,229.33 172.25,229.33 172.25,235.33 172.75,235.33 172.75,241.33 173.25,241.33 173.25,246.67 173.75,246.67 173.75,250.67 174.25,250.67 174.25,253.33 174.75,253.33 174.75,255.33 175.25,255.33 175.25,256.00 175.75,256.00 175.75,255.33 176.25,255.33 176.25,254.00 176.75,254.00 176.75,250.67 177.25,250.67 177.25,247.33 177.75,247.33 177.75,242.00 178.25,242.00 178.25,236.67 178.75,236.67 178.75,230.00 179.25,230.00 179.25,223.33 179.75,223.33 179.75,216.67 180.25,216.67 180.25,209.33 180.75,209.33 180.75,202.00 181.25,202.00 181.25,195.33 181.75,195.33 181.75,189.33 182.25,189.33 182.25,184.00 182.75,184.00 182.75,179.33 183.25,179.33 183.25,176.00 183.75,176.00 183.75,173.33 184.25,173.33 184.25,172.67 184.75,172.67 184.75,172.00 185.25,172.00 185.25,173.33 185.75,173.33 185.75,176.00 186.25,176.00 186.25,179.33 186.75,179.33 186.75,184.00 187.25,184.00 187.25,189.33 187.75,189.33 187.75,195.33 188.25,195.33 188.25,202.00 188.75,202.00 188.75,209.33 189.25,209.33 189.25,216.00 189.75,216.00 189.75,223.33 190.25,223.33 190.25,230.00 190.75,230.00 190.75,236.67 191.25,236.67 191.25,242.67 191.75,242.67 191.75,247.33 192.25,247.33 192.25,251.33 192.75,251.33 192.75,254.67 193.25,254.67 193.25,256.00 193.75,256.00 193.75,256.67 194.25,256.67 194.25,256.00 194.75,256.00 194.75,254.00 195.25,254.00 195.25,251.33 195.75,251.33 195.75,247.33 196.25,247.33 196.25,242.00 196.75,242.00 196.75,236.00 197.25,236.00 197.25,230.00 197.75,230.00 197.75,222.67 198.25,222.67 198.25,215.33 198.75,215.33 198.75,208.67 199.25,208.67 199.25,201.33 199.75,201.33 199.75,194.67 200.25,194.67 200.25,188.67 200.75,188.67 200.75,183.33 201.25,183.33 201.25,178.67 201.75,178.67 201.75,175.33 202.25,175.33 202.25,172.67 202.75,172.67 202.75,171.33 203.25,171.33 203.25,172.00 203.75,172.00 203.75,173.33 204.25,173.33 204.25,175.33 204.75,175.33 204.75,179.33 205.25,179.33 205.25,184.00 205.75,184.00 205.75,189.33 206.25,189.33 206.25,196.00 206.75,196.00 206.75,202.67 207.25,202.67 207.25,210.00 207.75,210.00 207.75,217.33 208.25,217.33 208.25,224.00 208.75,224.00 208.75,231.33 209.25,231.33 209.25,237.33 209.75,237.33 209.75,243.33 210.25,243.33 210.25,248.67 210.75,248.67 210.75,252.67 211.25,252.67 211.25,255.33 211.75,255.33 211.75,256.67 212.25,256.67 212.25,257.33 212.75,257.33 212.75,256.67 213.25,256.67 213.25,254.67 213.75,254.67 213.75,251.33 214.25,251.33 214.25,247.33 214.75,247.33 214.75,242.00 215.25,242.00 215.25,236.00 215.75,236.00 215.75,229.33 216.25,229.33 216.25,222.00 216.75,222.00 216.75,214.67 217.25,214.67 217.25,207.33 217.75,207.33 217.75,200.67 218.25,200.67 218.25,193.33 218.75,193.33 218.75,187.33 219.25,187.33 219.25,182.00 219.75,182.00 219.75,177.33 220.25,177.33 220.25,174.00 220.75,174.00 220.75,172.00 221.25,172.00 221.25,171.33 221.75,171.33 221.75,171.33 222.25,171.33 222.25,172.67 222.75,172.67 222.75,175.33 223.25,175.33 223.25,179.33 223.75,179.33 223.75,184.00 224.25,184.00 224.25,190.00 224.75,190.00 224.75,196.00 225.25,196.00 225.25,203.33 225.75,203.33 225.75,210.67 226.25,210.67 226.25,218.00 226.75,218.00 226.75,225.33 227.25,225.33 227.25,232.00 227.75,232.00 227.75,238.67 228.25,238.67 228.25,244.67 228.75,244.67 228.75,249.33 229.25,249.33 229.25,253.33 229.75,253.33 229.75,256.00 230.25,256.00 230.25,257.33 230.75,257.33 230.75,258.00 231.25,258.00 231.25,256.67 231.75,256.67 231.75,254.67 232.25,254.67 232.25,251.33 232.75,251.33 232.75,246.67 233.25,246.67 233.25,241.33 233.75,241.33 233.75,235.33 234.25,235.33 234.25,228.67 234.75,228.67 234.75,221.33 235.25,221.33 235.25,214.00 235.75,214.00 235.75,206.67 236.25,206.67 236.25,199.33 236.75,199.33 236.75,192.67 237.25,192.67 237.25,186.67 237.75,186.67 237.75,181.33 238.25,181.33 238.25,176.67 238.75,176.67 238.75,173.33 239.25,173.33 239.25,171.33 239.75,171.33 239.75,170.67 240.25,170.67 240.25,170.67 240.75,170.67 240.75,172.67 241.25,172.67 241.25,175.33 241.75,175.33 241.75,179.33 242.25,179.33 242.25,184.67 242.75,184.67 242.75,190.00 243.25,190.00 243.25,196.67 243.75,196.67 243.75,204.00 244.25,204.00 244.25,211.33 244.75,211.33 244.75,218.67 245.25,218.67 245.25,226.00 245.75,226.00 245.75,233.33 246.25,233.33 246.25,239.33 246.75,239.33 246.75,245.33 247.25,245.33 247.25,250.00 247.75,250.00 247.75,254.00 248.25,254.00 248.25,256.67 248.75,256.67 248.75,258.00 249.25,258.00 249.25,258.00 249.75,258.00 249.75,257.33 250.25,257.33 250.25,254.67 250.75,254.67 250.75,251.33 251.25,251.33 251.25,246.67 251.75,246.67 251.75,241.33 252.25,241.33 252.25,234.67 252.75,234.67 252.75,228.00 253.25,228.00 253.25,220.67 253.75,220.67 253.75,213.33 254.25,213.33 254.25,206.00 254.75,206.00 254.75,198.67 255.25,198.67 255.25,192.00 255.75,192.00 255.75,185.33 256.25,185.33 256.25,180.00 256.75,180.00 256.75,176.00 257.25,176.00 257.25,172.67 257.75,172.67 257.75,170.67 258.25,170.67 258.25,170.00 258.75,170.00 258.75,170.67 259.25,170.67 259.25,172.67 259.75,172.67 259.75,175.33 260.25,175.33 260.25,179.33 260.75,179.33 260.75,184.67 261.25,184.67 261.25,190.67 261.75,190.67 261.75,197.33 262.25,197.33 262.25,204.67 262.75,204.67 262.75,212.00 263.25,212.00 263.25,219.33 263.75,219.33 263.75,226.67 264.25,226.67 264.25,234.00 264.75,234.00 264.75,240.67 265.25,240.67 265.25,246.00 265.75,246.00 265.75,250.67 266.25,250.67 266.25,254.67 266.75,254.67 266.75,257.33 267.25,257.33 267.25,258.67 267.75,258.67 267.75,258.67 268.25,258.67 268.25,257.33 268.75,257.33 268.75,254.67 269.25,254.67 269.25,251.33 269.75,251.33 269.75,246.67 270.25,246.67 270.25,240.67 270.75,240.67 270.75,234.00 271.25,234.00 271.25,227.33 271.75,227.33 271.75,220.00 272.25,220.00 272.25,212.67 272.75,212.67 272.75,204.67 273.25,204.67 273.25,197.33 273.75,197.33 273.75,190.67 274.25,190.67 274.25,184.67 274.75,184.67 274.75,179.33 275.25,179.33 275.25,175.33 275.75,175.33 275.75,172.00 276.25,172.00 276.25,170.00 276.75,170.00 276.75,170.00 277.25,170.00 277.25,170.67 277.75,170.67 277.75,172.00 278.25,172.00 278.25,175.33 278.75,175.33 278.75,180.00 279.25,180.00 279.25,185.33 279.75,185.33 279.75,191.33 280.25,191.33 280.25,198.00 280.75,198.00 280.75,205.33 281.25,205.33 281.25,212.67 281.75,212.67 281.75,220.67 282.25,220.67 282.25,228.00 282.75,228.00 282.75,234.67 283.25,234.67 283.25,241.33 283.75,241.33 283.75,247.33 284.25,247.33 284.25,252.00 284.75,252.00 284.75,255.33 285.25,255.33 285.25,258.00 285.75,258.00 285.75,258.67 286.25,258.67 286.25,258.67 286.75,258.67 286.75,257.33 287.25,257.33 287.25,254.67 287.75,254.67 287.75,250.67 288.25,250.67 288.25,246.00 288.75,246.00 288.75,240.00 289.25,240.00 289.25,234.00 289.75,234.00 289.75,226.67 290.25,226.67 290.25,219.33 290.75,219.33 290.75,211.33 291.25,211.33 291.25,204.00 291.75,204.00 291.75,196.67 292.25,196.67 292.25,190.00 292.75,190.00 292.75,184.00 293.25,184.00 293.25,178.67 293.75,178.67 293.75,174.67 294.25,174.67 294.25,171.33 294.75,171.33 294.75,170.00 295.25,170.00 295.25,169.33 295.75,169.33 295.75,170.00 296.25,170.00 296.25,172.67 296.75,172.67 296.75,176.00 297.25,176.00 297.25,180.00 297.75,180.00 297.75,185.33 298.25,185.33 298.25,192.00 298.75,192.00 298.75,198.67 299.25,198.67 299.25,206.00 299.75,206.00 299.75,214.00 300.25,214.00 300.25,221.33 300.75,221.33 300.75,228.67 301.25,228.67 301.25,236.00 301.75,236.00 301.75,242.00 302.25,242.00 302.25,248.00 302.75,248.00 302.75,252.67 303.25,252.67 303.25,256.00 303.75,256.00 303.75,258.00 304.25,258.00 304.25,259.33 304.75,259.33 304.75,259.33 305.25,259.33 305.25,257.33 305.75,257.33 305.75,254.67 306.25,254.67 306.25,250.67 306.75,250.67 306.75,246.00 307.25,246.00 307.25,240.00 307.75,240.00 307.75,233.33 308.25,233.33 308.25,226.00 308.75,226.00 308.75,218.00 309.25,218.00 309.25,210.67 309.75,210.67 309.75,203.33 310.25,203.33 310.25,196.00 310.75,196.00 310.75,189.33 311.25,189.33 311.25,183.33 311.75,183.33 311.75,178.00 312.25,178.00 312.25,174.00 312.75,174.00 312.75,171.33 313.25,171.33 313.25,169.33 313.75,169.33 313.75,169.33 314.25,169.33 314.25,170.00 314.75,170.00 314.75,172.67 315.25,172.67 315.25,176.00 315.75,176.00 315.75,180.67 316.25,180.67 316.25,186.00 316.75,186.00 316.75,192.67 317.25,192.67 317.25,199.33 317.75,199.33 317.75,206.67 318.25,206.67 318.25,214.67 318.75,214.67 318.75,222.00 319.25,222.00 319.25,229.33 319.75,229.33 319.75,236.67 320.25,236.67 320.25,242.67 320.75,242.67 320.75,248.67 321.25,248.67 321.25,253.33 321.75,253.33 321.75,256.67 322.25,256.67 322.25,258.67 322.75,258.67 322.75,259.33 323.25,259.33 323.25,259.33 323.75,259.33 323.75,257.33 324.25,257.33 324.25,254.67 324.75,254.67 324.75,250.67 325.25,250.67 325.25,245.33 325.75,245.33 325.75,239.33 326.25,239.33 326.25,232.67 326.75,232.67 326.75,225.33 327.25,225.33 327.25,217.33 327.75,217.33 327.75,210.00 328.25,210.00 328.25,202.00 328.75,202.00 328.75,194.67 329.25,194.67 329.25,188.00 329.75,188.00 329.75,182.67 330.25,182.67 330.25,177.33 330.75,177.33 330.75,173.33 331.25,173.33 331.25,170.67 331.75,170.67 331.75,169.33 332.25,169.33 332.25,169.33 332.75,169.33 332.75,170.00 333.25,170.00 333.25,172.67 333.75,172.67 333.75,176.00 334.25,176.00 334.25,180.67 334.75,180.67 334.75,186.67 335.25,186.67 335.25,193.33 335.75,193.33 335.75,200.00 336.25,200.00 336.25,208.00 336.75,208.00 336.75,215.33 337.25,215.33 337.25,223.33 337.75,223.33 337.75,230.67 338.25,230.67 338.25,237.33 338.75,237.33 338.75,244.00 339.25,244.00 339.25,249.33 339.75,249.33 339.75,253.33 340.25,253.33 340.25,256.67 340.75,256.67 340.75,259.33 341.25,259.33 341.25,260.00 341.75,260.00 341.75,259.33 342.25,259.33 342.25,257.33 342.75,257.33 342.75,254.00 343.25,254.00 343.25,250.00 343.75,250.00 343.75,244.67 344.25,244.67 344.25,238.67 344.75,238.67 344.75,232.00 345.25,232.00 345.25,224.00 345.75,224.00 345.75,216.67 346.25,216.67 346.25,208.67 346.75,208.67 346.75,201.33 347.25,201.33 347.25,194.00 347.75,194.00 347.75,187.33 348.25,187.33 348.25,181.33 348.75,181.33 348.75,176.67 349.25,176.67 349.25,172.67 349.75,172.67 349.75,170.00 350.25,170.00 350.25,168.67 350.75,168.67 350.75,168.67 351.25,168.67 351.25,170.00 351.75,170.00 351.75,172.67 352.25,172.67 352.25,176.67 352.75,176.67 352.75,181.33 353.25,181.33 353.25,187.33 353.75,187.33 353.75,194.00 354.25,194.00 354.25,200.67 354.75,200.67 354.75,208.67 355.25,208.67 355.25,216.00 355.75,216.00 355.75,224.00 356.25,224.00 356.25,231.33 356.75,231.33 356.75,238.00 357.25,238.00 357.25,244.67 357.75,244.67 357.75,250.00 358.25,250.00 358.25,254.00 358.75,254.00 358.75,257.33 359.25,257.33 359.25,259.33 359.75,259.33 359.75,260.00 360.25,260.00 360.25,259.33 360.75,259.33 360.75,257.33 361.25,257.33 361.25,254.00 361.75,254.00 361.75,249.33 362.25,249.33 362.25,244.00 362.75,244.00 362.75,238.00 363.25,238.00 363.25,230.67 363.75,230.67 363.75,223.33 364.25,223.33 364.25,216.00 364.75,216.00 364.75,208.00 365.25,208.00 365.25,200.67 365.75,200.67 365.75,193.33 366.25,193.33 366.25,186.67 366.75,186.67 366.75,180.67 367.25,180.67 367.25,176.00 367.75,176.00 367.75,172.67 368.25,172.67 368.25,170.00 368.75,170.00 368.75,168.67 369.25,168.67 369.25,168.67 369.75,168.67 369.75,170.00 370.25,170.00 370.25,172.67 370.75,172.67 370.75,176.67 371.25,176.67 371.25,182.00 371.75,182.00 371.75,188.00 372.25,188.00 372.25,194.67 372.75,194.67 372.75,202.00 373.25,202.00 373.25,209.33 373.75,209.33 373.75,217.33 374.25,217.33 374.25,224.67 374.75,224.67 374.75,232.00 375.25,232.00 375.25,239.33 375.75,239.33 375.75,245.33 376.25,245.33 376.25,250.67 376.75,250.67 376.75,254.67 377.25,254.67 377.25,258.00 377.75,258.00 377.75,259.33 378.25,259.33 378.25,260.00 378.75,260.00 378.75,259.33 379.25,259.33 379.25,257.33 379.75,257.33 379.75,254.00 380.25,254.00 380.25,249.33 380.75,249.33 380.75,243.33 381.25,243.33 381.25,237.33 381.75,237.33 381.75,230.00 382.25,230.00 382.25,222.67 382.75,222.67 382.75,214.67 383.25,214.67 383.25,207.33 383.75,207.33 383.75,199.33 384.25,199.33 384.25,192.67 384.75,192.67 384.75,186.00 385.25,186.00 385.25,180.00 385.75,180.00 385.75,175.33 386.25,175.33 386.25,172.00 386.75,172.00 386.75,169.33 387.25,169.33 387.25,168.67 387.75,168.67 387.75,168.67 388.25,168.67 388.25,170.67 388.75,170.67 388.75,173.33 389.25,173.33 389.25,177.33 389.75,177.33 389.75,182.00 390.25,182.00 390.25,188.67 390.75,188.67 390.75,195.33 391.25,195.33 391.25,202.67 391.75,202.67 391.75,210.00 392.25,210.00 392.25,218.00 392.75,218.00 392.75,226.00 393.25,226.00 393.25,233.33 393.75,233.33 393.75,240.00 394.25,240.00 394.25,246.00 394.75,246.00 394.75,251.33 395.25,251.33 395.25,255.33 395.75,255.33 395.75,258.00 396.25,258.00 396.25,260.00 396.75,260.00 396.75,260.00 397.25,260.00 397.25,259.33 397.75,259.33 397.75,256.67 398.25,256.67 398.25,253.33 398.75,253.33 398.75,248.67 399.25,248.67 399.25,243.33 399.75,243.33 399.75,236.67 400.25,236.67 400.25,229.33 400.75,229.33 400.75,222.00 401.25,222.00 401.25,214.00 401.75,214.00 401.75,206.00 402.25,206.00 402.25,198.67 402.75,198.67 402.75,191.33 403.25,191.33 403.25,185.33 403.75,185.33 403.75,179.33 404.25,179.33 404.25,174.67 404.75,174.67 404.75,171.33 405.25,171.33 405.25,169.33 405.75,169.33 405.75,168.67 406.25,168.67 406.25,168.67 406.75,168.67 406.75,170.67 407.25,170.67 407.25,173.33 407.75,173.33 407.75,177.33 408.25,177.33 408.25,182.67 408.75,182.67 408.75,189.33 409.25,189.33 409.25,196.00 409.75,196.00 409.75,203.33 410.25,203.33 410.25,211.33 410.75,211.33 410.75,218.67 411.25,218.67 411.25,226.67 411.75,226.67 411.75,234.00 412.25,234.00 412.25,240.67 412.75,240.67 412.75,246.67 413.25,246.67 413.25,252.00 413.75,252.00 413.75,256.00 414.25,256.00 414.25,258.67 414.75,258.67 414.75,260.00 415.25,260.00 415.25,260.00 415.75,260.00 415.75,259.33 416.25,259.33 416.25,256.67 416.75,256.67 416.75,253.33 417.25,253.33 417.25,248.00 417.75,248.00 417.75,242.67 418.25,242.67 418.25,236.00 418.75,236.00 418.75,228.67 419.25,228.67 419.25,221.33 419.75,221.33 419.75,213.33 420.25,213.33 420.25,205.33 420.75,205.33 420.75,198.00 421.25,198.00 421.25,190.67 421.75,190.67 421.75,184.67 422.25,184.67 422.25,178.67 422.75,178.67 422.75,174.67 423.25,174.67 423.25,171.33 423.75,171.33 423.75,169.33 424.25,169.33 424.25,168.00 424.75,168.00 424.75,168.67 425.25,168.67 425.25,170.67 425.75,170.67 425.75,174.00 426.25,174.00 426.25,178.00 426.75,178.00 426.75,183.33 427.25,183.33 427.25,190.00 427.75,190.00 427.75,196.67 428.25,196.67 428.25,204.00 428.75,204.00 428.75,212.00 429.25,212.00 429.25,220.00 429.75,220.00 429.75,227.33 430.25,227.33 430.25,234.67 430.75,234.67 430.75,241.33 431.25,241.33 431.25,247.33 431.75,247.33 431.75,252.00 432.25,252.00 432.25,256.00 432.75,256.00 432.75,258.67 433.25,258.67 433.25,260.00 433.75,260.00 433.75,260.00 434.25,260.00 434.25,258.67 434.75,258.67 434.75,256.67 435.25,256.67 435.25,252.67 435.75,252.67 435.75,248.00 436.25,248.00 436.25,242.00 436.75,242.00 436.75,235.33 437.25,235.33 437.25,228.00 437.75,228.00 437.75,220.00 438.25,220.00 438.25,212.67 438.75,212.67 438.75,204.67 439.25,204.67 439.25,197.33 439.75,197.33 439.75,190.00 440.25,190.00 440.25,184.00 440.75,184.00 440.75,178.67 441.25,178.67 441.25,174.00 441.75,174.00 441.75,170.67 442.25,170.67 442.25,168.67 442.75,168.67 442.75,168.00 443.25,168.00 443.25,168.67 443.75,168.67 443.75,170.67 444.25,170.67 444.25,174.00 444.75,174.00 444.75,178.67 445.25,178.67 445.25,184.00 445.75,184.00 445.75,190.67 446.25,190.67 446.25,197.33 446.75,197.33 446.75,204.67 447.25,204.67 447.25,212.67 447.75,212.67 447.75,220.67 448.25,220.67 448.25,228.00 448.75,228.00 448.75,235.33 449.25,235.33 449.25,242.00 449.75,242.00 449.75,248.00 450.25,248.00 450.25,252.67 450.75,252.67 450.75,256.67 451.25,256.67 451.25,259.33 451.75,259.33 451.75,260.67 452.25,260.67 452.25,260.00 452.75,260.00 452.75,258.67 453.25,258.67 453.25,256.00 453.75,256.00 453.75,252.00 454.25,252.00 454.25,247.33 454.75,247.33 454.75,241.33 455.25,241.33 455.25,234.67 455.75,234.67 455.75,227.33 456.25,227.33 456.25,219.33 456.75,219.33 456.75,211.33 457.25,211.33 457.25,204.00 457.75,204.00 457.75,196.00 458.25,196.00 458.25,189.33 458.75,189.33 458.75,183.33 459.25,183.33 459.25,178.00 459.75,178.00 459.75,173.33 460.25,173.33 460.25,170.67 460.75,170.67 460.75,168.67 461.25,168.67 461.25,168.00 461.75,168.00 461.75,168.67 462.25,168.67 462.25,171.33 462.75,171.33 462.75,174.67 463.25,174.67 463.25,179.33 463.75,179.33 463.75,184.67 464.25,184.67 464.25,191.33 464.75,191.33 464.75,198.00 465.25,198.00 465.25,206.00 465.75,206.00 465.75,213.33 466.25,213.33 466.25,221.33 466.75,221.33 466.75,229.33 467.25,229.33 467.25,236.00 467.75,236.00 467.75,242.67 468.25,242.67 468.25,248.67 468.75,248.67 468.75,253.33 469.25,253.33 469.25,256.67 469.75,256.67 469.75,259.33 470.25,259.33 470.25,260.67 470.75,260.67 470.75,260.00 471.25,260.00 471.25,258.67 471.75,258.67 471.75,256.00 472.25,256.00 472.25,252.00 472.75,252.00 472.75,246.67 473.25,246.67 473.25,240.67 473.75,240.67 473.75,234.00 474.25,234.00 474.25,226.00 474.75,226.00 474.75,218.67 475.25,218.67 475.25,210.67 475.75,210.67 475.75,202.67 476.25,202.67 476.25,195.33 476.75,195.33 476.75,188.67 477.25,188.67 477.25,182.67 477.75,182.67 477.75,177.33 478.25,177.33 478.25,173.33 478.75,173.33 478.75,170.00 479.25,170.00 479.25,168.67 479.75,168.67 479.75,168.00 480.25,168.00 480.25,169.33 480.75,169.33 480.75,171.33 481.25,171.33 481.25,174.67 481.75,174.67 481.75,179.33 482.25,179.33 482.25,185.33 482.75,185.33 482.75,192.00 483.25,192.00 483.25,198.67 483.75,198.67 483.75,206.67 484.25,206.67 484.25,214.67 484.75,214.67 484.75,222.00 485.25,222.00 485.25,230.00 485.75,230.00 485.75,237.33 486.25,237.33 486.25,243.33 486.75,243.33 486.75,249.33 487.25,249.33 487.25,254.00 487.75,254.00 487.75,257.33 488.25,257.33 488.25,259.33 488.75,259.33 488.75,260.67 489.25,260.67 489.25,260.00 489.75,260.00 489.75,258.67 490.25,258.67 490.25,255.33 490.75,255.33 490.75,251.33 491.25,251.33 491.25,246.00 491.75,246.00 491.75,240.00 492.25,240.00 492.25,232.67 492.75,232.67 492.75,225.33 493.25,225.33 493.25,217.33 493.75,217.33 493.75,210.00 494.25,210.00 494.25,202.00 494.75,202.00 494.75,194.67 495.25,194.67 495.25,188.00 495.75,188.00 495.75,182.00 496.25,182.00 496.25,176.67 496.75,176.67 496.75,172.67 497.25,172.67 497.25,170.00 497.75,170.00 497.75,168.00 498.25,168.00 498.25,168.00 498.75,168.00 498.75,169.33 499.25,169.33 499.25,171.33 499.75,171.33 499.75,175.33 500.25,175.33 500.25,180.00 500.75,180.00 500.75,186.00 501.25,186.00 501.25,192.67 501.75,192.67 501.75,200.00 502.25,200.00 502.25,207.33 502.75,207.33 502.75,215.33 503.25,215.33 503.25,223.33 503.75,223.33 503.75,230.67 504.25,230.67 504.25,238.00 504.75,238.00 504.75,244.00 505.25,244.00 505.25,250.00 505.75,250.00 505.75,254.67 506.25,254.67 506.25,258.00 506.75,258.00 506.75,260.00 507.25,260.00 507.25,260.67 507.75,260.67 507.75,260.00 508.25,260.00 508.25,258.00 508.75,258.00 508.75,255.33 509.25,255.33 509.25,250.67 509.75,250.67 509.75,245.33 510.25,245.33 510.25,239.33 510.75,239.33 510.75,232.00 511.25,232.00 511.25,224.67 511.75,224.67 511.75,216.67 512.25,216.67 512.25,208.67 512.75,208.67 512.75,201.33 513.25,201.33 513.25,194.00 513.75,194.00 513.75,187.33 514.25,187.33 514.25,181.33 514.75,181.33 514.75,176.00 515.25,176.00 515.25,172.00 515.75,172.00 515.75,169.33 516.25,169.33 516.25,168.00 516.75,168.00 516.75,168.00 517.25,168.00 517.25,169.33 517.75,169.33 517.75,172.00 518.25,172.00 518.25,176.00 518.75,176.00 518.75,180.67 519.25,180.67 519.25,186.67 519.75,186.67 519.75,193.33 520.25,193.33 520.25,200.67 520.75,200.67 520.75,208.00 521.25,208.00 521.25,216.00 521.75,216.00 521.75,224.00 522.25,224.00 522.25,231.33 522.75,231.33 522.75,238.67 523.25,238.67 523.25,244.67 523.75,244.67 523.75,250.67 524.25,250.67 524.25,254.67 524.75,254.67 524.75,258.00 525.25,258.00 525.25,260.00 525.75,260.00 525.75,260.67 526.25,260.67 526.25,260.00 526.75,260.00 526.75,258.00 527.25,258.00 527.25,254.67 527.75,254.67 527.75,250.00 528.25,250.00 528.25,244.67 528.75,244.67 528.75,238.67 529.25,238.67 529.25,231.33 529.75,231.33 529.75,224.00 530.25,224.00 530.25,216.00 530.75,216.00 530.75,208.00 531.25,208.00 531.25,200.67 531.75,200.67 531.75,193.33 532.25,193.33 532.25,186.67 532.75,186.67 532.75,180.67 533.25,180.67 533.25,175.33 533.75,175.33 533.75,172.00 534.25,172.00 534.25,169.33 534.75,169.33 534.75,168.00 535.25,168.00 535.25,168.00 535.75,168.00 535.75,169.33 536.25,169.33 536.25,172.00 536.75,172.00 536.75,176.00 537.25,176.00 537.25,181.33 537.75,181.33 537.75,187.33 538.25,187.33 538.25,194.00 538.75,194.00 538.75,201.33 539.25,201.33 539.25,209.33 539.75,209.33 539.75,217.33 540.25,217.33 540.25,224.67 540.75,224.67 540.75,232.67 541.25,232.67 541.25,239.33 541.75,239.33 541.75,245.33 542.25,245.33 542.25,250.67 542.75,250.67 542.75,255.33 543.25,255.33 543.25,258.67 543.75,258.67 543.75,260.00 544.25,260.00 544.25,260.67 544.75,260.67 544.75,260.00 545.25,260.00 545.25,258.00 545.75,258.00 545.75,254.00 546.25,254.00 546.25,250.00 546.75,250.00 546.75,244.00 547.25,244.00 547.25,237.33 547.75,237.33 547.75,230.67 548.25,230.67 548.25,222.67 548.75,222.67 548.75,215.33 549.25,215.33 549.25,207.33 549.75,207.33 549.75,199.33 550.25,199.33 550.25,192.00 550.75,192.00 550.75,185.33 551.25,185.33 551.25,180.00 551.75,180.00 551.75,175.33 552.25,175.33 552.25,171.33 552.75,171.33 552.75,169.33 553.25,169.33 553.25,168.00 553.75,168.00 553.75,168.00 554.25,168.00 554.25,170.00 554.75,170.00 554.75,172.67 555.25,172.67 555.25,176.67 555.75,176.67 555.75,182.00 556.25,182.00 556.25,188.00 556.75,188.00 556.75,194.67 557.25,194.67 557.25,202.00 557.75,202.00 557.75,210.00 558.25,210.00 558.25,218.00 558.75,218.00 558.75,226.00 559.25,226.00 559.25,233.33 559.75,233.33 559.75,240.00 560.25,240.00 560.25,246.00 560.75,246.00 560.75,251.33 561.25,251.33 561.25,256.00 561.75,256.00 561.75,258.67 562.25,258.67 562.25,260.67 562.75,260.67 562.75,260.67 563.25,260.67 563.25,260.00 563.75,260.00 563.75,257.33 564.25,257.33 564.25,254.00 564.75,254.00 564.75,249.33 565.25,249.33 565.25,243.33 565.75,243.33 565.75,236.67 566.25,236.67 566.25,230.00 566.75,230.00 566.75,222.00 567.25,222.00 567.25,214.00 567.75,214.00 567.75,206.00 568.25,206.00 568.25,198.67 568.75,198.67 568.75,191.33 569.25,191.33 569.25,184.67 569.75,184.67 569.75,179.33 570.25,179.33 570.25,174.67 570.75,174.67 570.75,171.33 571.25,171.33 571.25,168.67 571.75,168.67 571.75,168.00 572.25,168.00 572.25,168.00 572.75,168.00 572.75,170.00 573.25,170.00 573.25,172.67 573.75,172.67 573.75,177.33 574.25,177.33 574.25,182.67 574.75,182.67 574.75,188.67 575.25,188.67 575.25,195.33 575.75,195.33 575.75,203.33 576.25,203.33 576.25,210.67 576.75,210.67 576.75,218.67 577.25,218.67 577.25,226.67 577.75,226.67 577.75,234.00 578.25,234.00 578.25,240.67 578.75,240.67 578.75,246.67 579.25,246.67 579.25,252.00 579.75,252.00 579.75,256.00 580.25,256.00 580.25,258.67 580.75,258.67 580.75,260.67 581.25,260.67 581.25,260.67 581.75,260.67 581.75,259.33 582.25,259.33 582.25,257.33 582.75,257.33 582.75,253.33 583.25,253.33 583.25,248.67 583.75,248.67 583.75,242.67 584.25,242.67 584.25,236.00 584.75,236.00 584.75,228.67 585.25,228.67 585.25,221.33 585.75,221.33 585.75,213.33 586.25,213.33 586.25,205.33 586.75,205.33 586.75,198.00 587.25,198.00 587.25,190.67 587.75,190.67 587.75,184.00 588.25,184.00 588.25,178.67 588.75,178.67 588.75,174.00 589.25,174.00 589.25,170.67 589.75,170.67 589.75,168.67 590.25,168.67 590.25,168.00 590.75,168.00 590.75,168.00 591.25,168.00 591.25,170.00 591.75,170.00 591.75,173.33 592.25,173.33 592.25,178.00 592.75,178.00 592.75,183.33 593.25,183.33 593.25,189.33 593.75,189.33 593.75,196.67 594.25,196.67 594.25,204.00 594.75,204.00 594.75,212.00 595.25,212.00 595.25,219.33 595.75,219.33 595.75,227.33 596.25,227.33 596.25,234.67 596.75,234.67 596.75,241.33 597.25,241.33 597.25,247.33 597.75,247.33 597.75,252.67 598.25,252.67 598.25,256.67 598.75,256.67 598.75,259.33 599.25,259.33 599.25,260.67 599.75,260.67 599.75,260.67 600.25,260.67 600.25,259.33 600.75,259.33 600.75,256.67 601.25,256.67 601.25,252.67 601.75,252.67 601.75,248.00 602.25,248.00 602.25,242.00 602.75,242.00 602.75,235.33 603.25,235.33 603.25,228.00 603.75,228.00 603.75,220.67 604.25,220.67 604.25,212.67 604.75,212.67 604.75,204.67 605.25,204.67 605.25,197.33 605.75,197.33 605.75,190.00 606.25,190.00 606.25,183.33 606.75,183.33 606.75,178.00 607.25,178.00 607.25,174.00 607.75,174.00 607.75,170.67 608.25,170.67 608.25,168.67 608.75,168.67 608.75,168.00 609.25,168.00 609.25,168.67 609.75,168.67 609.75,170.67 610.25,170.67 610.25,174.00 610.75,174.00 610.75,178.00 611.25,178.00 611.25,184.00 611.75,184.00 611.75,190.00 612.25,190.00 612.25,197.33 612.75,197.33 612.75,204.67 613.25,204.67 613.25,212.67 613.75,212.67 613.75,220.67 614.25,220.67 614.25,228.00 614.75,228.00 614.75,235.33 615.25,235.33 615.25,242.00 615.75,242.00 615.75,248.00 616.25,248.00 616.25,253.33 616.75,253.33 616.75,256.67 617.25,256.67 617.25,259.33 617.75,259.33 617.75,260.67 618.25,260.67 618.25,260.67 618.75,260.67 618.75,259.33 619.25,259.33 619.25,256.67 619.75,256.67 619.75,252.67 620.25,252.67 620.25,247.33 620.75,247.33 620.75,241.33 621.25,241.33 621.25,234.67 621.75,234.67 621.75,227.33 622.25,227.33 622.25,219.33 622.75,219.33 622.75,211.33 623.25,211.33 623.25,204.00 623.75,204.00 623.75,196.00 624.25,196.00 624.25,189.33 624.75,189.33 624.75,182.67 625.25,182.67 625.25,177.33 625.75,177.33 625.75,173.33 626.25,173.33 626.25,170.00 626.75,170.00 626.75,168.00 627.25,168.00 627.25,168.00 627.75,168.00 627.75,168.67 628.25,168.67 628.25,170.67 628.75,170.67 628.75,174.00 629.25,174.00 629.25,178.67 629.75,178.67 629.75,184.67 630.25,184.67 630.25,190.67 630.75,190.67 630.75,198.00 631.25,198.00 631.25,205.33 631.75,205.33 631.75,213.33 632.25,213.33 632.25,221.33 632.75,221.33 632.75,229.33 633.25,229.33 633.25,236.67 633.75,236.67 633.75,242.67 634.25,242.67 634.25,248.67 634.75,248.67 634.75,253.33 635.25,253.33 635.25,257.33 635.75,257.33 635.75,260.00 636.25,260.00 636.25,260.67 636.75,260.67 636.75,260.67 637.25,260.67 637.25,258.67 637.75,258.67 637.75,256.00 638.25,256.00 638.25,252.00 638.75,252.00 638.75,246.67 639.25,246.67 639.25,240.67 639.75,240.67 639.75,234.00 640.25,234.00 640.25,226.67 640.75,226.67 640.75,218.67 641.25,218.67 641.25,210.67 641.75,210.67 641.75,202.67 642.25,202.67 642.25,195.33 642.75,195.33 642.75,188.67 643.25,188.67 643.25,182.00 643.75,182.00 643.75,177.33 644.25,177.33 644.25,172.67 644.75,172.67 644.75,170.00 645.25,170.00 645.25,168.00 645.75,168.00 645.75,168.00 646.25,168.00 646.25,168.67 646.75,168.67 646.75,171.33 647.25,171.33 647.25,174.67 647.75,174.67 647.75,179.33 648.25,179.33 648.25,185.33 648.75,185.33 648.75,191.33 649.25,191.33 649.25,198.67 649.75,198.67 649.75,206.67 650.25,206.67 650.25,214.67 650.75,214.67 650.75,222.00 651.25,222.00 651.25,230.00 651.75,230.00 651.75,237.33 652.25,237.33 652.25,243.33 652.75,243.33 652.75,249.33 653.25,249.33 653.25,254.00 653.75,254.00 653.75,257.33 654.25,257.33 654.25,260.00 654.75,260.00 654.75,260.67 655.25,260.67 655.25,260.67 655.75,260.67 655.75,258.67 656.25,258.67 656.25,256.00 656.75,256.00 656.75,251.33 657.25,251.33 657.25,246.00 657.75,246.00 657.75,240.00 658.25,240.00 658.25,233.33 658.75,233.33 658.75,225.33 659.25,225.33 659.25,218.00 659.75,218.00 659.75,210.00 660.25,210.00 660.25,202.00 660.75,202.00 660.75,194.67 661.25,194.67 661.25,188.00 661.75,188.00 661.75,182.00 662.25,182.00 662.25,176.67 662.75,176.67 662.75,172.67 663.25,172.67 663.25,169.33 663.75,169.33 663.75,168.00 664.25,168.00 664.25,168.00 664.75,168.00 664.75,168.67 665.25,168.67 665.25,171.33 665.75,171.33 665.75,175.33 666.25,175.33 666.25,180.00 666.75,180.00 666.75,186.00 667.25,186.00 667.25,192.67 667.75,192.67 667.75,199.33 668.25,199.33 668.25,207.33 668.75,207.33 668.75,215.33 669.25,215.33 669.25,223.33 669.75,223.33 669.75,230.67 670.25,230.67 670.25,238.00 670.75,238.00 670.75,244.00 671.25,244.00 671.25,250.00 671.75,250.00 671.75,254.67 672.25,254.67 672.25,258.00 672.75,258.00 672.75,260.00 673.25,260.00 673.25,260.67 673.75,260.67 673.75,260.00 674.25,260.00 674.25,258.67 674.75,258.67 674.75,255.33 675.25,255.33 675.25,251.33 675.75,251.33 675.75,245.33 676.25,245.33 676.25,239.33 676.75,239.33 676.75,232.00 677.25,232.00 677.25,224.67 677.75,224.67 677.75,216.67 678.25,216.67 678.25,208.67 678.75,208.67 678.75,205.33 679.25,205.33"/>
</g></g>
<text class="tk" text-anchor="end" x="28.5" y="186.90">50</text>
<text class="tk" text-anchor="end" x="28.5" y="217.90">0</text>
<text class="tk" text-anchor="end" x="28.5" y="248.60">-50</text>
<text class="tk" text-anchor="middle" x="32.50" y="288.6">0</text>
<text class="tk" text-anchor="middle" x="124.79" y="288.6">0.1</text>
<text class="tk" text-anchor="middle" x="217.07" y="288.6">0.2</text>
<text class="tk" text-anchor="middle" x="309.36" y="288.6">0.3</text>
<text class="tk" text-anchor="middle" x="401.64" y="288.6">0.4</text>
<text class="tk" text-anchor="middle" x="493.93" y="288.6">0.5</text>
<text class="tk" text-anchor="middle" x="586.21" y="288.6">0.6</text>
<text class="tk" text-anchor="middle" x="678.50" y="288.6">0.7</text>
<text class="ti" text-anchor="middle" x="368" y="157.8" style="font-size:9.9px">AC Current at Flywheel</text>
<text class="ti" text-anchor="middle" x="363.6" y="289.6">Time (sec)</text>
<text class="ti" text-anchor="middle" transform="translate(13.8,216.2) rotate(-90)">AC Current (Amps)</text>
</svg></body></html>
